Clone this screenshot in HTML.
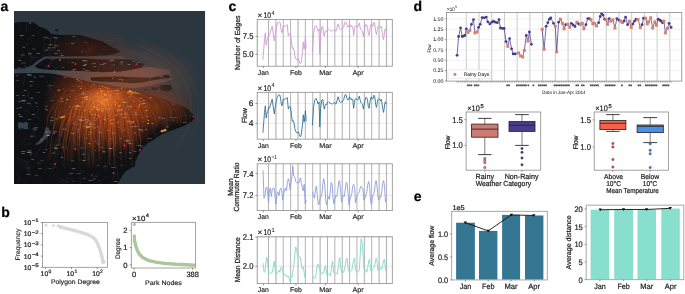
<!DOCTYPE html>
<html><head><meta charset="utf-8"><style>
html,body{margin:0;padding:0;background:#fff;width:685px;height:294px;overflow:hidden}
svg{display:block;will-change:transform;filter:blur(0.3px)}
text{font-family:"Liberation Sans",sans-serif;text-rendering:geometricPrecision;stroke:#1e1e1e;stroke-width:0.22px;paint-order:stroke}
</style></head><body>
<svg width="685" height="294" viewBox="0 0 685 294" font-family="Liberation Sans, sans-serif"><defs><clipPath id="mapclip"><rect x="14.0" y="11.0" width="191.2" height="173.0"/></clipPath><radialGradient id="glow" cx="0.5" cy="0.5" r="0.5"><stop offset="0" stop-color="#c85a1c" stop-opacity="0.75"/><stop offset="0.3" stop-color="#b44a18" stop-opacity="0.5"/><stop offset="0.65" stop-color="#9a3c14" stop-opacity="0.25"/><stop offset="1" stop-color="#b04810" stop-opacity="0"/></radialGradient><radialGradient id="core" cx="0.5" cy="0.5" r="0.5"><stop offset="0" stop-color="#ff9a40" stop-opacity="0.5"/><stop offset="1" stop-color="#ff8030" stop-opacity="0"/></radialGradient><radialGradient id="haze" cx="0.5" cy="0.5" r="0.5"><stop offset="0.55" stop-color="#d88050" stop-opacity="0.0"/><stop offset="0.8" stop-color="#d88050" stop-opacity="0.16"/><stop offset="1" stop-color="#d88050" stop-opacity="0"/></radialGradient></defs>
<g clip-path="url(#mapclip)">
<rect x="14.00" y="11.00" width="191.20" height="173.00" fill="#2b363e" />
<linearGradient id="rivg" x1="14" y1="0" x2="175" y2="0" gradientUnits="userSpaceOnUse"><stop offset="0" stop-color="#36434b"/><stop offset="0.22" stop-color="#3a464d"/><stop offset="0.34" stop-color="#5e4c4a"/><stop offset="0.7" stop-color="#6e5450"/><stop offset="0.9" stop-color="#5a4644"/><stop offset="1" stop-color="#3c3e44"/></linearGradient>
<polygon points="14.00,67.60 25.00,67.20 32.40,65.30 38.00,59.50 45.00,56.20 120.00,56.00 126.00,58.50 110.00,59.80 60.00,58.80 45.00,59.00 40.00,63.00 36.00,67.00 45.00,69.20 60.00,70.20 82.00,70.60 100.00,71.80 120.00,71.40 140.00,68.00 150.00,67.00 170.00,70.00 172.00,80.00 150.00,86.00 135.00,88.00 120.00,87.20 100.00,83.40 82.00,81.00 65.00,80.00 58.00,77.50 53.00,75.50 40.00,74.20 14.00,74.20" fill="url(#rivg)" />
<polygon points="120.00,56.00 126.00,58.50 110.00,59.80 60.00,58.60 45.00,58.80 40.00,62.00 36.00,66.50 32.40,65.30 38.00,59.50 45.00,56.20" fill="#3b474f" />
<polygon points="14.00,23.00 20.20,22.00 33.60,22.40 36.50,24.40 39.50,26.70 43.80,28.00 48.00,30.60 51.40,34.00 60.40,35.00 70.70,34.70 80.90,35.20 89.00,37.50 96.20,39.50 103.40,42.00 110.40,46.20 116.60,49.30 120.70,51.30 115.50,53.90 105.30,55.40 90.00,56.30 60.00,56.40 45.00,56.60 38.00,60.50 32.40,65.00 25.00,68.30 14.00,68.80" fill="#0e1013" />
<polygon points="34.50,66.20 40.00,62.00 45.50,58.40 60.00,58.40 82.00,58.40 100.00,59.20 110.40,59.50 120.00,59.20 130.20,59.70 138.40,61.20 144.50,64.30 140.40,67.90 130.20,69.90 120.00,71.60 100.00,72.20 82.00,71.00 62.00,70.60 53.00,70.00 45.00,69.60 38.00,68.60" fill="#0e1013" />
<polygon points="14.00,73.40 25.00,73.20 32.40,72.90 46.00,73.30 53.00,73.80 62.00,75.40 70.00,77.50 82.00,80.00 90.00,82.00 100.00,84.00 110.00,85.80 120.00,87.40 130.20,89.40 140.40,92.30 150.70,95.20 160.90,97.70 166.60,100.30 173.70,102.80 180.90,105.40 187.00,108.40 191.10,112.50 195.20,116.60 193.10,120.20 189.00,123.20 182.90,126.30 175.80,128.90 168.60,131.40 162.50,134.00 157.40,137.00 152.50,140.80 148.80,142.50 144.70,146.20 140.70,151.30 137.60,156.40 135.50,161.50 135.00,166.10 130.90,168.20 125.80,171.20 122.70,175.30 119.60,180.40 117.10,184.50 13.00,184.50" fill="#0e1013" />
<polygon points="90.70,77.40 100.00,77.00 121.00,76.60 140.00,77.60 150.70,77.40 160.90,76.10 168.00,74.60 171.10,77.40 160.90,78.90 150.70,80.70 140.40,82.80 130.20,83.30 121.00,82.30 100.00,81.60 91.00,80.60" fill="#0e1013" />
<polygon points="150.70,87.50 154.00,86.90 158.80,88.00 157.00,89.90 152.00,89.80" fill="#0e1013" />
<polygon points="158.80,86.00 165.00,84.80 171.00,85.50 172.10,89.00 168.00,91.50 161.00,90.50" fill="#0e1013" />
<polygon points="143.50,89.00 147.60,88.90 146.50,90.40 143.80,90.40" fill="#0e1013" />
<polygon points="55.00,29.50 57.50,29.20 58.50,30.50 56.00,31.20" fill="#0e1013" />
<polygon points="17.60,123.50 20.00,122.00 23.00,123.00 26.00,121.80 28.80,123.50 27.50,126.50 28.50,129.00 25.00,129.30 22.00,128.00 19.00,129.00 17.80,126.50" fill="#36434c" />
<polygon points="46.00,127.00 48.00,127.50 49.50,130.00 51.50,131.50 50.50,134.00 48.00,136.50 45.00,139.50 42.00,142.50 38.50,144.50 37.00,143.00 40.00,140.00 43.00,136.50 44.50,133.00 45.00,129.50" fill="#36434c" />
<polygon points="32.40,128.00 35.00,127.00 37.50,128.50 36.00,131.00 33.00,130.50" fill="#2a3740" />
<line x1="58.26" y1="110.17" x2="62.09" y2="119.01" stroke="#2c3842" stroke-width="0.4" opacity="0.9"/>
<line x1="16.45" y1="157.67" x2="20.28" y2="161.73" stroke="#2c3842" stroke-width="0.4" opacity="0.9"/>
<line x1="132.08" y1="162.62" x2="131.27" y2="173.75" stroke="#2c3842" stroke-width="0.4" opacity="0.9"/>
<line x1="155.03" y1="117.76" x2="156.98" y2="120.47" stroke="#2c3842" stroke-width="0.4" opacity="0.9"/>
<line x1="87.46" y1="151.75" x2="89.76" y2="164.84" stroke="#2c3842" stroke-width="0.4" opacity="0.9"/>
<line x1="39.29" y1="57.15" x2="31.54" y2="58.00" stroke="#2c3842" stroke-width="0.4" opacity="0.9"/>
<line x1="79.27" y1="116.78" x2="75.88" y2="129.28" stroke="#2c3842" stroke-width="0.4" opacity="0.9"/>
<line x1="182.27" y1="114.20" x2="178.96" y2="118.36" stroke="#2c3842" stroke-width="0.4" opacity="0.9"/>
<line x1="168.68" y1="114.91" x2="170.99" y2="117.80" stroke="#2c3842" stroke-width="0.4" opacity="0.9"/>
<line x1="30.46" y1="151.70" x2="31.76" y2="156.17" stroke="#2c3842" stroke-width="0.4" opacity="0.9"/>
<line x1="68.66" y1="146.54" x2="65.45" y2="147.90" stroke="#2c3842" stroke-width="0.4" opacity="0.9"/>
<line x1="108.01" y1="183.76" x2="110.17" y2="186.94" stroke="#2c3842" stroke-width="0.4" opacity="0.9"/>
<line x1="50.71" y1="88.09" x2="49.11" y2="92.52" stroke="#2c3842" stroke-width="0.4" opacity="0.9"/>
<line x1="21.89" y1="162.58" x2="29.37" y2="173.87" stroke="#2c3842" stroke-width="0.4" opacity="0.9"/>
<line x1="99.64" y1="106.25" x2="95.46" y2="114.84" stroke="#2c3842" stroke-width="0.4" opacity="0.9"/>
<line x1="118.02" y1="122.46" x2="109.59" y2="124.05" stroke="#2c3842" stroke-width="0.4" opacity="0.9"/>
<line x1="94.20" y1="138.69" x2="98.83" y2="142.98" stroke="#2c3842" stroke-width="0.4" opacity="0.9"/>
<line x1="91.23" y1="115.95" x2="100.98" y2="116.57" stroke="#2c3842" stroke-width="0.4" opacity="0.9"/>
<line x1="130.69" y1="97.53" x2="127.01" y2="103.35" stroke="#2c3842" stroke-width="0.4" opacity="0.9"/>
<line x1="145.49" y1="141.56" x2="149.15" y2="141.82" stroke="#2c3842" stroke-width="0.4" opacity="0.9"/>
<line x1="60.71" y1="95.92" x2="58.84" y2="102.17" stroke="#2c3842" stroke-width="0.4" opacity="0.9"/>
<line x1="82.66" y1="118.49" x2="86.86" y2="124.28" stroke="#2c3842" stroke-width="0.4" opacity="0.9"/>
<line x1="119.88" y1="141.10" x2="122.94" y2="145.60" stroke="#2c3842" stroke-width="0.4" opacity="0.9"/>
<line x1="48.86" y1="92.51" x2="46.45" y2="95.86" stroke="#2c3842" stroke-width="0.4" opacity="0.9"/>
<line x1="76.63" y1="127.34" x2="69.18" y2="130.15" stroke="#2c3842" stroke-width="0.4" opacity="0.9"/>
<line x1="55.86" y1="41.59" x2="55.38" y2="46.67" stroke="#2c3842" stroke-width="0.4" opacity="0.9"/>
<line x1="48.15" y1="67.13" x2="39.88" y2="72.86" stroke="#2c3842" stroke-width="0.4" opacity="0.9"/>
<line x1="163.96" y1="77.94" x2="169.67" y2="80.40" stroke="#2c3842" stroke-width="0.4" opacity="0.9"/>
<line x1="78.42" y1="89.54" x2="80.29" y2="96.81" stroke="#2c3842" stroke-width="0.4" opacity="0.9"/>
<line x1="14.87" y1="174.81" x2="1.98" y2="179.91" stroke="#2c3842" stroke-width="0.4" opacity="0.9"/>
<line x1="94.79" y1="175.93" x2="89.49" y2="177.16" stroke="#2c3842" stroke-width="0.4" opacity="0.9"/>
<line x1="137.32" y1="106.08" x2="141.47" y2="111.40" stroke="#2c3842" stroke-width="0.4" opacity="0.9"/>
<line x1="123.49" y1="68.50" x2="120.60" y2="70.46" stroke="#2c3842" stroke-width="0.4" opacity="0.9"/>
<line x1="181.34" y1="115.47" x2="192.53" y2="115.93" stroke="#2c3842" stroke-width="0.4" opacity="0.9"/>
<line x1="137.30" y1="107.04" x2="140.87" y2="119.89" stroke="#2c3842" stroke-width="0.4" opacity="0.9"/>
<line x1="127.86" y1="77.30" x2="136.62" y2="86.19" stroke="#2c3842" stroke-width="0.4" opacity="0.9"/>
<line x1="102.76" y1="148.74" x2="105.08" y2="153.36" stroke="#2c3842" stroke-width="0.4" opacity="0.9"/>
<line x1="113.44" y1="154.32" x2="123.50" y2="160.32" stroke="#2c3842" stroke-width="0.4" opacity="0.9"/>
<line x1="130.92" y1="161.73" x2="136.83" y2="162.67" stroke="#2c3842" stroke-width="0.4" opacity="0.9"/>
<line x1="63.96" y1="107.42" x2="65.92" y2="115.38" stroke="#2c3842" stroke-width="0.4" opacity="0.9"/>
<line x1="24.20" y1="42.55" x2="27.67" y2="43.98" stroke="#2c3842" stroke-width="0.4" opacity="0.9"/>
<line x1="30.02" y1="103.34" x2="33.55" y2="108.75" stroke="#2c3842" stroke-width="0.4" opacity="0.9"/>
<line x1="79.34" y1="126.80" x2="77.47" y2="133.51" stroke="#2c3842" stroke-width="0.4" opacity="0.9"/>
<line x1="49.54" y1="75.26" x2="57.97" y2="78.72" stroke="#2c3842" stroke-width="0.4" opacity="0.9"/>
<line x1="28.86" y1="50.93" x2="32.60" y2="59.82" stroke="#2c3842" stroke-width="0.4" opacity="0.9"/>
<line x1="163.02" y1="122.91" x2="164.53" y2="129.85" stroke="#2c3842" stroke-width="0.4" opacity="0.9"/>
<line x1="106.28" y1="135.87" x2="108.91" y2="146.17" stroke="#2c3842" stroke-width="0.4" opacity="0.9"/>
<line x1="99.72" y1="61.70" x2="98.52" y2="72.28" stroke="#2c3842" stroke-width="0.4" opacity="0.9"/>
<line x1="27.31" y1="90.83" x2="30.24" y2="103.17" stroke="#2c3842" stroke-width="0.4" opacity="0.9"/>
<line x1="62.77" y1="97.19" x2="73.83" y2="101.70" stroke="#2c3842" stroke-width="0.4" opacity="0.9"/>
<line x1="161.40" y1="130.14" x2="155.23" y2="136.98" stroke="#2c3842" stroke-width="0.4" opacity="0.9"/>
<line x1="33.18" y1="117.22" x2="37.76" y2="117.29" stroke="#2c3842" stroke-width="0.4" opacity="0.9"/>
<line x1="31.07" y1="38.09" x2="26.45" y2="39.91" stroke="#2c3842" stroke-width="0.4" opacity="0.9"/>
<line x1="18.37" y1="158.33" x2="29.77" y2="162.90" stroke="#2c3842" stroke-width="0.4" opacity="0.9"/>
<line x1="191.15" y1="115.81" x2="188.41" y2="117.82" stroke="#2c3842" stroke-width="0.4" opacity="0.9"/>
<line x1="156.74" y1="104.83" x2="154.13" y2="108.09" stroke="#2c3842" stroke-width="0.4" opacity="0.9"/>
<line x1="25.37" y1="74.53" x2="22.95" y2="86.39" stroke="#2c3842" stroke-width="0.4" opacity="0.9"/>
<line x1="59.04" y1="51.12" x2="65.95" y2="58.03" stroke="#2c3842" stroke-width="0.4" opacity="0.9"/>
<line x1="82.35" y1="86.26" x2="85.79" y2="93.03" stroke="#2c3842" stroke-width="0.4" opacity="0.9"/>
<line x1="29.49" y1="103.05" x2="21.97" y2="103.69" stroke="#2c3842" stroke-width="0.4" opacity="0.9"/>
<line x1="142.50" y1="144.49" x2="137.98" y2="151.91" stroke="#2c3842" stroke-width="0.4" opacity="0.9"/>
<line x1="103.97" y1="126.16" x2="99.57" y2="127.63" stroke="#2c3842" stroke-width="0.4" opacity="0.9"/>
<line x1="31.83" y1="143.20" x2="23.44" y2="145.45" stroke="#2c3842" stroke-width="0.4" opacity="0.9"/>
<line x1="96.41" y1="138.46" x2="101.36" y2="141.74" stroke="#2c3842" stroke-width="0.4" opacity="0.9"/>
<line x1="51.05" y1="116.87" x2="54.10" y2="121.51" stroke="#2c3842" stroke-width="0.4" opacity="0.9"/>
<line x1="69.03" y1="136.26" x2="72.37" y2="148.20" stroke="#2c3842" stroke-width="0.4" opacity="0.9"/>
<line x1="122.74" y1="65.28" x2="125.27" y2="67.34" stroke="#2c3842" stroke-width="0.4" opacity="0.9"/>
<line x1="46.04" y1="80.40" x2="52.15" y2="90.16" stroke="#2c3842" stroke-width="0.4" opacity="0.9"/>
<line x1="40.71" y1="182.58" x2="41.33" y2="192.15" stroke="#2c3842" stroke-width="0.4" opacity="0.9"/>
<line x1="101.06" y1="157.21" x2="93.33" y2="162.06" stroke="#2c3842" stroke-width="0.4" opacity="0.9"/>
<line x1="103.52" y1="138.75" x2="96.86" y2="141.98" stroke="#2c3842" stroke-width="0.4" opacity="0.9"/>
<line x1="57.67" y1="138.27" x2="50.58" y2="149.81" stroke="#2c3842" stroke-width="0.4" opacity="0.9"/>
<line x1="49.27" y1="63.90" x2="58.22" y2="69.86" stroke="#2c3842" stroke-width="0.4" opacity="0.9"/>
<line x1="61.43" y1="162.15" x2="65.67" y2="168.52" stroke="#2c3842" stroke-width="0.4" opacity="0.9"/>
<line x1="31.23" y1="157.10" x2="35.44" y2="162.59" stroke="#2c3842" stroke-width="0.4" opacity="0.9"/>
<line x1="121.94" y1="131.43" x2="128.62" y2="131.58" stroke="#2c3842" stroke-width="0.4" opacity="0.9"/>
<line x1="95.14" y1="100.72" x2="102.59" y2="106.50" stroke="#2c3842" stroke-width="0.4" opacity="0.9"/>
<line x1="65.11" y1="129.80" x2="77.08" y2="134.22" stroke="#2c3842" stroke-width="0.4" opacity="0.9"/>
<line x1="68.97" y1="131.49" x2="63.45" y2="142.00" stroke="#2c3842" stroke-width="0.4" opacity="0.9"/>
<line x1="63.40" y1="144.18" x2="53.08" y2="145.44" stroke="#2c3842" stroke-width="0.4" opacity="0.9"/>
<line x1="105.86" y1="79.05" x2="99.24" y2="87.15" stroke="#2c3842" stroke-width="0.4" opacity="0.9"/>
<line x1="119.35" y1="51.48" x2="114.96" y2="60.40" stroke="#2c3842" stroke-width="0.4" opacity="0.9"/>
<line x1="47.31" y1="166.17" x2="45.27" y2="170.01" stroke="#2c3842" stroke-width="0.4" opacity="0.9"/>
<line x1="75.66" y1="138.72" x2="72.92" y2="147.40" stroke="#2c3842" stroke-width="0.4" opacity="0.9"/>
<line x1="134.43" y1="96.15" x2="137.18" y2="100.26" stroke="#2c3842" stroke-width="0.4" opacity="0.9"/>
<line x1="26.76" y1="137.97" x2="20.32" y2="144.22" stroke="#2c3842" stroke-width="0.4" opacity="0.9"/>
<line x1="151.57" y1="80.19" x2="156.42" y2="85.54" stroke="#2c3842" stroke-width="0.4" opacity="0.9"/>
<line x1="107.88" y1="62.05" x2="102.72" y2="66.62" stroke="#2c3842" stroke-width="0.4" opacity="0.9"/>
<line x1="75.91" y1="87.34" x2="74.42" y2="98.73" stroke="#2c3842" stroke-width="0.4" opacity="0.9"/>
<line x1="79.64" y1="159.20" x2="85.24" y2="161.26" stroke="#2c3842" stroke-width="0.4" opacity="0.9"/>
<line x1="32.53" y1="40.25" x2="24.08" y2="47.29" stroke="#2c3842" stroke-width="0.4" opacity="0.9"/>
<line x1="48.38" y1="52.65" x2="51.27" y2="63.44" stroke="#2c3842" stroke-width="0.4" opacity="0.9"/>
<line x1="88.11" y1="53.37" x2="87.30" y2="62.59" stroke="#2c3842" stroke-width="0.4" opacity="0.9"/>
<line x1="51.59" y1="62.52" x2="49.01" y2="64.63" stroke="#2c3842" stroke-width="0.4" opacity="0.9"/>
<line x1="116.78" y1="116.46" x2="111.18" y2="129.01" stroke="#2c3842" stroke-width="0.4" opacity="0.9"/>
<line x1="125.85" y1="139.75" x2="137.33" y2="139.83" stroke="#2c3842" stroke-width="0.4" opacity="0.9"/>
<line x1="137.12" y1="101.68" x2="136.52" y2="109.73" stroke="#2c3842" stroke-width="0.4" opacity="0.9"/>
<line x1="49.98" y1="107.79" x2="58.43" y2="108.77" stroke="#2c3842" stroke-width="0.4" opacity="0.9"/>
<line x1="134.15" y1="93.96" x2="131.36" y2="107.22" stroke="#2c3842" stroke-width="0.4" opacity="0.9"/>
<line x1="161.38" y1="122.97" x2="168.25" y2="124.07" stroke="#2c3842" stroke-width="0.4" opacity="0.9"/>
<line x1="114.23" y1="172.63" x2="120.87" y2="183.31" stroke="#2c3842" stroke-width="0.4" opacity="0.9"/>
<line x1="173.64" y1="119.38" x2="163.05" y2="121.86" stroke="#2c3842" stroke-width="0.4" opacity="0.9"/>
<line x1="151.59" y1="77.66" x2="140.71" y2="85.22" stroke="#2c3842" stroke-width="0.4" opacity="0.9"/>
<line x1="154.77" y1="100.57" x2="158.04" y2="101.74" stroke="#2c3842" stroke-width="0.4" opacity="0.9"/>
<line x1="28.50" y1="54.45" x2="35.91" y2="58.55" stroke="#2c3842" stroke-width="0.4" opacity="0.9"/>
<line x1="144.07" y1="109.06" x2="146.52" y2="118.90" stroke="#2c3842" stroke-width="0.4" opacity="0.9"/>
<line x1="70.66" y1="97.23" x2="65.31" y2="102.36" stroke="#2c3842" stroke-width="0.4" opacity="0.9"/>
<line x1="47.59" y1="167.70" x2="43.11" y2="173.13" stroke="#2c3842" stroke-width="0.4" opacity="0.9"/>
<line x1="83.00" y1="107.75" x2="81.37" y2="112.96" stroke="#2c3842" stroke-width="0.4" opacity="0.9"/>
<line x1="14.50" y1="55.86" x2="10.95" y2="58.74" stroke="#2c3842" stroke-width="0.4" opacity="0.9"/>
<line x1="99.56" y1="53.64" x2="103.42" y2="56.62" stroke="#2c3842" stroke-width="0.4" opacity="0.9"/>
<line x1="89.10" y1="49.26" x2="93.29" y2="49.62" stroke="#2c3842" stroke-width="0.4" opacity="0.9"/>
<line x1="45.29" y1="101.42" x2="48.48" y2="102.03" stroke="#2c3842" stroke-width="0.4" opacity="0.9"/>
<line x1="97.33" y1="88.05" x2="95.21" y2="90.91" stroke="#2c3842" stroke-width="0.4" opacity="0.9"/>
<line x1="89.01" y1="86.25" x2="102.59" y2="87.39" stroke="#2c3842" stroke-width="0.4" opacity="0.9"/>
<line x1="54.72" y1="37.27" x2="55.10" y2="42.07" stroke="#2c3842" stroke-width="0.4" opacity="0.9"/>
<line x1="129.78" y1="78.11" x2="133.08" y2="79.47" stroke="#2c3842" stroke-width="0.4" opacity="0.9"/>
<line x1="60.49" y1="65.06" x2="52.21" y2="70.52" stroke="#2c3842" stroke-width="0.4" opacity="0.9"/>
<line x1="78.12" y1="37.18" x2="70.71" y2="48.66" stroke="#2c3842" stroke-width="0.4" opacity="0.9"/>
<line x1="19.64" y1="36.67" x2="22.56" y2="38.40" stroke="#2c3842" stroke-width="0.4" opacity="0.9"/>
<line x1="24.03" y1="128.00" x2="19.08" y2="129.60" stroke="#2c3842" stroke-width="0.4" opacity="0.9"/>
<line x1="70.68" y1="120.32" x2="66.77" y2="120.99" stroke="#2c3842" stroke-width="0.4" opacity="0.9"/>
<line x1="68.58" y1="159.68" x2="75.40" y2="162.25" stroke="#2c3842" stroke-width="0.4" opacity="0.9"/>
<line x1="76.16" y1="132.17" x2="71.36" y2="133.26" stroke="#2c3842" stroke-width="0.4" opacity="0.9"/>
<line x1="151.60" y1="140.90" x2="143.70" y2="145.39" stroke="#2c3842" stroke-width="0.4" opacity="0.9"/>
<line x1="91.14" y1="59.16" x2="84.76" y2="64.46" stroke="#2c3842" stroke-width="0.4" opacity="0.9"/>
<line x1="64.12" y1="49.50" x2="57.95" y2="56.93" stroke="#2c3842" stroke-width="0.4" opacity="0.9"/>
<line x1="104.60" y1="46.93" x2="102.60" y2="49.50" stroke="#2c3842" stroke-width="0.4" opacity="0.9"/>
<line x1="100.85" y1="144.87" x2="98.70" y2="148.32" stroke="#2c3842" stroke-width="0.4" opacity="0.9"/>
<line x1="58.11" y1="158.67" x2="52.64" y2="170.09" stroke="#2c3842" stroke-width="0.4" opacity="0.9"/>
<line x1="76.07" y1="81.96" x2="83.27" y2="83.61" stroke="#2c3842" stroke-width="0.4" opacity="0.9"/>
<line x1="29.05" y1="127.16" x2="31.62" y2="129.59" stroke="#2c3842" stroke-width="0.4" opacity="0.9"/>
<line x1="42.40" y1="126.42" x2="41.57" y2="129.43" stroke="#2c3842" stroke-width="0.4" opacity="0.9"/>
<line x1="56.77" y1="178.69" x2="63.84" y2="184.55" stroke="#2c3842" stroke-width="0.4" opacity="0.9"/>
<line x1="92.05" y1="148.55" x2="88.29" y2="159.60" stroke="#2c3842" stroke-width="0.4" opacity="0.9"/>
<line x1="113.55" y1="52.48" x2="116.83" y2="54.53" stroke="#2c3842" stroke-width="0.4" opacity="0.9"/>
<line x1="18.46" y1="178.56" x2="28.86" y2="186.07" stroke="#2c3842" stroke-width="0.4" opacity="0.9"/>
<line x1="29.95" y1="97.37" x2="39.23" y2="105.18" stroke="#2c3842" stroke-width="0.4" opacity="0.9"/>
<line x1="128.47" y1="125.97" x2="119.25" y2="134.55" stroke="#2c3842" stroke-width="0.4" opacity="0.9"/>
<line x1="78.37" y1="119.70" x2="79.08" y2="123.86" stroke="#2c3842" stroke-width="0.4" opacity="0.9"/>
<line x1="169.38" y1="118.29" x2="164.98" y2="121.19" stroke="#2c3842" stroke-width="0.4" opacity="0.9"/>
<line x1="114.29" y1="97.20" x2="111.76" y2="100.10" stroke="#2c3842" stroke-width="0.4" opacity="0.9"/>
<line x1="78.38" y1="100.50" x2="87.24" y2="102.52" stroke="#2c3842" stroke-width="0.4" opacity="0.9"/>
<line x1="134.60" y1="120.15" x2="139.97" y2="124.42" stroke="#2c3842" stroke-width="0.4" opacity="0.9"/>
<line x1="54.53" y1="48.78" x2="43.79" y2="51.14" stroke="#2c3842" stroke-width="0.4" opacity="0.9"/>
<line x1="113.64" y1="89.84" x2="100.88" y2="91.94" stroke="#2c3842" stroke-width="0.4" opacity="0.9"/>
<line x1="157.86" y1="87.93" x2="144.74" y2="88.04" stroke="#2c3842" stroke-width="0.4" opacity="0.9"/>
<line x1="68.32" y1="173.34" x2="71.71" y2="175.56" stroke="#2c3842" stroke-width="0.4" opacity="0.9"/>
<line x1="110.62" y1="125.56" x2="121.73" y2="126.98" stroke="#2c3842" stroke-width="0.4" opacity="0.9"/>
<line x1="65.33" y1="92.05" x2="70.56" y2="101.91" stroke="#2c3842" stroke-width="0.4" opacity="0.9"/>
<line x1="42.50" y1="145.56" x2="34.41" y2="156.67" stroke="#2c3842" stroke-width="0.4" opacity="0.9"/>
<line x1="83.30" y1="48.14" x2="87.81" y2="54.86" stroke="#2c3842" stroke-width="0.4" opacity="0.9"/>
<line x1="111.82" y1="109.82" x2="117.11" y2="121.01" stroke="#2c3842" stroke-width="0.4" opacity="0.9"/>
<line x1="67.04" y1="97.03" x2="55.91" y2="101.17" stroke="#2c3842" stroke-width="0.4" opacity="0.9"/>
<line x1="69.32" y1="61.30" x2="66.76" y2="63.08" stroke="#2c3842" stroke-width="0.4" opacity="0.9"/>
<line x1="38.46" y1="108.00" x2="37.91" y2="112.79" stroke="#2c3842" stroke-width="0.4" opacity="0.9"/>
<line x1="23.35" y1="55.04" x2="17.26" y2="60.41" stroke="#2c3842" stroke-width="0.4" opacity="0.9"/>
<line x1="23.53" y1="110.45" x2="29.69" y2="112.32" stroke="#2c3842" stroke-width="0.4" opacity="0.9"/>
<line x1="59.99" y1="151.94" x2="61.48" y2="157.62" stroke="#2c3842" stroke-width="0.4" opacity="0.9"/>
<line x1="22.19" y1="91.59" x2="18.12" y2="101.19" stroke="#2c3842" stroke-width="0.4" opacity="0.9"/>
<line x1="60.01" y1="43.98" x2="51.54" y2="52.02" stroke="#2c3842" stroke-width="0.4" opacity="0.9"/>
<line x1="108.64" y1="156.62" x2="107.66" y2="162.62" stroke="#2c3842" stroke-width="0.4" opacity="0.9"/>
<line x1="165.41" y1="119.63" x2="167.72" y2="128.02" stroke="#2c3842" stroke-width="0.4" opacity="0.9"/>
<line x1="45.77" y1="51.64" x2="38.17" y2="63.30" stroke="#2c3842" stroke-width="0.4" opacity="0.9"/>
<line x1="115.75" y1="88.12" x2="119.35" y2="95.27" stroke="#2c3842" stroke-width="0.4" opacity="0.9"/>
<line x1="72.57" y1="106.56" x2="75.95" y2="118.45" stroke="#2c3842" stroke-width="0.4" opacity="0.9"/>
<line x1="120.86" y1="111.06" x2="121.10" y2="117.13" stroke="#2c3842" stroke-width="0.4" opacity="0.9"/>
<line x1="33.06" y1="130.33" x2="36.46" y2="138.29" stroke="#2c3842" stroke-width="0.4" opacity="0.9"/>
<line x1="85.29" y1="156.16" x2="88.56" y2="161.17" stroke="#2c3842" stroke-width="0.4" opacity="0.9"/>
<line x1="73.04" y1="85.59" x2="75.85" y2="89.03" stroke="#2c3842" stroke-width="0.4" opacity="0.9"/>
<line x1="60.54" y1="180.79" x2="65.90" y2="182.15" stroke="#2c3842" stroke-width="0.4" opacity="0.9"/>
<line x1="51.20" y1="34.88" x2="50.28" y2="46.02" stroke="#2c3842" stroke-width="0.4" opacity="0.9"/>
<line x1="169.92" y1="124.24" x2="167.35" y2="125.90" stroke="#2c3842" stroke-width="0.4" opacity="0.9"/>
<line x1="66.49" y1="177.71" x2="72.29" y2="178.99" stroke="#2c3842" stroke-width="0.4" opacity="0.9"/>
<line x1="103.81" y1="65.39" x2="103.30" y2="68.88" stroke="#2c3842" stroke-width="0.4" opacity="0.9"/>
<line x1="57.89" y1="177.13" x2="69.54" y2="182.80" stroke="#2c3842" stroke-width="0.4" opacity="0.9"/>
<line x1="47.09" y1="182.84" x2="41.82" y2="191.47" stroke="#2c3842" stroke-width="0.4" opacity="0.9"/>
<line x1="40.45" y1="30.84" x2="36.86" y2="34.23" stroke="#2c3842" stroke-width="0.4" opacity="0.9"/>
<line x1="49.27" y1="155.28" x2="46.00" y2="156.63" stroke="#2c3842" stroke-width="0.4" opacity="0.9"/>
<line x1="85.12" y1="39.34" x2="89.83" y2="52.38" stroke="#2c3842" stroke-width="0.4" opacity="0.9"/>
<line x1="66.22" y1="43.27" x2="70.17" y2="45.21" stroke="#2c3842" stroke-width="0.4" opacity="0.9"/>
<line x1="79.55" y1="170.22" x2="84.51" y2="171.45" stroke="#2c3842" stroke-width="0.4" opacity="0.9"/>
<line x1="79.91" y1="176.04" x2="80.42" y2="186.76" stroke="#2c3842" stroke-width="0.4" opacity="0.9"/>
<line x1="78.24" y1="143.20" x2="71.07" y2="149.06" stroke="#2c3842" stroke-width="0.4" opacity="0.9"/>
<line x1="100.32" y1="109.18" x2="101.92" y2="117.91" stroke="#2c3842" stroke-width="0.4" opacity="0.9"/>
<line x1="45.23" y1="65.07" x2="48.12" y2="67.20" stroke="#2c3842" stroke-width="0.4" opacity="0.9"/>
<line x1="16.59" y1="162.90" x2="5.49" y2="171.29" stroke="#2c3842" stroke-width="0.4" opacity="0.9"/>
<line x1="141.50" y1="107.09" x2="138.52" y2="109.78" stroke="#2c3842" stroke-width="0.4" opacity="0.9"/>
<line x1="114.51" y1="93.47" x2="123.12" y2="97.73" stroke="#2c3842" stroke-width="0.4" opacity="0.9"/>
<line x1="74.11" y1="104.03" x2="76.62" y2="110.03" stroke="#2c3842" stroke-width="0.4" opacity="0.9"/>
<line x1="80.67" y1="119.37" x2="67.40" y2="120.18" stroke="#2c3842" stroke-width="0.4" opacity="0.9"/>
<line x1="67.34" y1="180.23" x2="70.23" y2="183.49" stroke="#2c3842" stroke-width="0.4" opacity="0.9"/>
<line x1="107.15" y1="140.62" x2="111.99" y2="149.48" stroke="#2c3842" stroke-width="0.4" opacity="0.9"/>
<line x1="66.52" y1="178.64" x2="67.74" y2="186.81" stroke="#2c3842" stroke-width="0.4" opacity="0.9"/>
<line x1="112.85" y1="163.73" x2="104.04" y2="164.11" stroke="#2c3842" stroke-width="0.4" opacity="0.9"/>
<line x1="96.13" y1="122.08" x2="103.63" y2="123.74" stroke="#2c3842" stroke-width="0.4" opacity="0.9"/>
<line x1="25.04" y1="160.43" x2="29.95" y2="173.31" stroke="#2c3842" stroke-width="0.4" opacity="0.9"/>
<line x1="116.06" y1="165.18" x2="118.75" y2="177.43" stroke="#2c3842" stroke-width="0.4" opacity="0.9"/>
<line x1="146.31" y1="80.57" x2="151.33" y2="87.50" stroke="#2c3842" stroke-width="0.4" opacity="0.9"/>
<line x1="88.22" y1="82.35" x2="82.42" y2="93.57" stroke="#2c3842" stroke-width="0.4" opacity="0.9"/>
<line x1="54.90" y1="82.09" x2="53.31" y2="86.33" stroke="#2c3842" stroke-width="0.4" opacity="0.9"/>
<line x1="29.17" y1="73.94" x2="31.26" y2="76.53" stroke="#2c3842" stroke-width="0.4" opacity="0.9"/>
<line x1="114.22" y1="171.25" x2="113.02" y2="182.30" stroke="#2c3842" stroke-width="0.4" opacity="0.9"/>
<line x1="102.42" y1="166.23" x2="105.58" y2="170.22" stroke="#2c3842" stroke-width="0.4" opacity="0.9"/>
<line x1="167.19" y1="119.01" x2="170.38" y2="119.88" stroke="#2c3842" stroke-width="0.4" opacity="0.9"/>
<line x1="65.00" y1="84.98" x2="64.71" y2="92.73" stroke="#2c3842" stroke-width="0.4" opacity="0.9"/>
<line x1="130.93" y1="128.89" x2="131.74" y2="132.88" stroke="#2c3842" stroke-width="0.4" opacity="0.9"/>
<line x1="29.54" y1="93.55" x2="19.59" y2="103.28" stroke="#2c3842" stroke-width="0.4" opacity="0.9"/>
<line x1="26.28" y1="23.54" x2="26.76" y2="31.17" stroke="#2c3842" stroke-width="0.4" opacity="0.9"/>
<line x1="75.67" y1="89.84" x2="72.40" y2="102.14" stroke="#2c3842" stroke-width="0.4" opacity="0.9"/>
<line x1="51.56" y1="85.48" x2="61.23" y2="88.24" stroke="#2c3842" stroke-width="0.4" opacity="0.9"/>
<line x1="18.94" y1="173.48" x2="18.25" y2="182.76" stroke="#2c3842" stroke-width="0.4" opacity="0.9"/>
<line x1="29.86" y1="59.62" x2="31.08" y2="71.99" stroke="#2c3842" stroke-width="0.4" opacity="0.9"/>
<line x1="114.26" y1="68.11" x2="104.00" y2="68.69" stroke="#2c3842" stroke-width="0.4" opacity="0.9"/>
<line x1="69.53" y1="167.78" x2="77.62" y2="171.36" stroke="#2c3842" stroke-width="0.4" opacity="0.9"/>
<line x1="129.31" y1="79.49" x2="119.59" y2="88.13" stroke="#2c3842" stroke-width="0.4" opacity="0.9"/>
<line x1="50.07" y1="163.16" x2="59.45" y2="170.73" stroke="#2c3842" stroke-width="0.4" opacity="0.9"/>
<line x1="53.42" y1="52.21" x2="61.85" y2="53.21" stroke="#2c3842" stroke-width="0.4" opacity="0.9"/>
<line x1="85.48" y1="159.93" x2="82.35" y2="161.75" stroke="#2c3842" stroke-width="0.4" opacity="0.9"/>
<line x1="88.64" y1="85.05" x2="93.53" y2="88.10" stroke="#2c3842" stroke-width="0.4" opacity="0.9"/>
<line x1="62.98" y1="134.45" x2="65.02" y2="138.15" stroke="#2c3842" stroke-width="0.4" opacity="0.9"/>
<line x1="55.00" y1="93.63" x2="53.84" y2="99.22" stroke="#2c3842" stroke-width="0.4" opacity="0.9"/>
<line x1="138.77" y1="120.72" x2="148.36" y2="126.62" stroke="#2c3842" stroke-width="0.4" opacity="0.9"/>
<line x1="87.33" y1="109.40" x2="84.33" y2="118.85" stroke="#2c3842" stroke-width="0.4" opacity="0.9"/>
<line x1="105.17" y1="115.80" x2="113.74" y2="125.42" stroke="#2c3842" stroke-width="0.4" opacity="0.9"/>
<line x1="78.35" y1="183.28" x2="78.61" y2="188.23" stroke="#2c3842" stroke-width="0.4" opacity="0.9"/>
<line x1="150.21" y1="116.52" x2="158.52" y2="119.44" stroke="#2c3842" stroke-width="0.4" opacity="0.9"/>
<line x1="114.31" y1="161.83" x2="115.72" y2="170.13" stroke="#2c3842" stroke-width="0.4" opacity="0.9"/>
<line x1="122.40" y1="155.46" x2="125.64" y2="157.86" stroke="#2c3842" stroke-width="0.4" opacity="0.9"/>
<line x1="155.58" y1="111.52" x2="163.02" y2="121.95" stroke="#2c3842" stroke-width="0.4" opacity="0.9"/>
<line x1="178.54" y1="109.72" x2="166.35" y2="110.16" stroke="#2c3842" stroke-width="0.4" opacity="0.9"/>
<line x1="16.01" y1="131.93" x2="11.40" y2="137.00" stroke="#2c3842" stroke-width="0.4" opacity="0.9"/>
<line x1="103.05" y1="113.88" x2="110.60" y2="121.43" stroke="#2c3842" stroke-width="0.4" opacity="0.9"/>
<line x1="34.39" y1="111.74" x2="40.28" y2="121.00" stroke="#2c3842" stroke-width="0.4" opacity="0.9"/>
<line x1="46.09" y1="85.89" x2="52.20" y2="90.22" stroke="#2c3842" stroke-width="0.4" opacity="0.9"/>
<line x1="24.19" y1="100.13" x2="31.09" y2="105.19" stroke="#2c3842" stroke-width="0.4" opacity="0.9"/>
<line x1="45.09" y1="38.33" x2="43.55" y2="51.39" stroke="#2c3842" stroke-width="0.4" opacity="0.9"/>
<line x1="175.55" y1="105.52" x2="176.73" y2="109.05" stroke="#2c3842" stroke-width="0.4" opacity="0.9"/>
<line x1="94.73" y1="64.49" x2="89.72" y2="65.08" stroke="#2c3842" stroke-width="0.4" opacity="0.9"/>
<line x1="120.27" y1="104.74" x2="124.69" y2="107.94" stroke="#2c3842" stroke-width="0.4" opacity="0.9"/>
<line x1="32.33" y1="135.97" x2="28.45" y2="139.84" stroke="#2c3842" stroke-width="0.4" opacity="0.9"/>
<line x1="99.01" y1="179.86" x2="104.91" y2="189.60" stroke="#2c3842" stroke-width="0.4" opacity="0.9"/>
<line x1="44.74" y1="130.08" x2="50.44" y2="136.52" stroke="#2c3842" stroke-width="0.4" opacity="0.9"/>
<line x1="83.26" y1="162.99" x2="77.32" y2="169.13" stroke="#2c3842" stroke-width="0.4" opacity="0.9"/>
<line x1="115.21" y1="116.87" x2="116.42" y2="120.17" stroke="#2c3842" stroke-width="0.4" opacity="0.9"/>
<line x1="45.61" y1="125.76" x2="54.54" y2="132.74" stroke="#2c3842" stroke-width="0.4" opacity="0.9"/>
<line x1="107.91" y1="176.41" x2="98.14" y2="181.47" stroke="#2c3842" stroke-width="0.4" opacity="0.9"/>
<line x1="117.54" y1="142.80" x2="112.47" y2="144.08" stroke="#2c3842" stroke-width="0.4" opacity="0.9"/>
<line x1="43.47" y1="180.84" x2="37.78" y2="186.92" stroke="#2c3842" stroke-width="0.4" opacity="0.9"/>
<line x1="115.19" y1="130.32" x2="113.66" y2="134.84" stroke="#2c3842" stroke-width="0.4" opacity="0.9"/>
<line x1="39.44" y1="123.22" x2="35.22" y2="124.83" stroke="#2c3842" stroke-width="0.4" opacity="0.9"/>
<line x1="15.32" y1="35.42" x2="9.62" y2="39.97" stroke="#2c3842" stroke-width="0.4" opacity="0.9"/>
<line x1="98.78" y1="183.03" x2="96.76" y2="188.57" stroke="#2c3842" stroke-width="0.4" opacity="0.9"/>
<line x1="66.37" y1="135.18" x2="69.25" y2="136.90" stroke="#2c3842" stroke-width="0.4" opacity="0.9"/>
<line x1="55.77" y1="95.29" x2="50.27" y2="99.29" stroke="#2c3842" stroke-width="0.4" opacity="0.9"/>
<line x1="56.76" y1="89.37" x2="62.94" y2="91.29" stroke="#2c3842" stroke-width="0.4" opacity="0.9"/>
<line x1="120.55" y1="110.37" x2="118.68" y2="116.28" stroke="#2c3842" stroke-width="0.4" opacity="0.9"/>
<line x1="18.61" y1="26.29" x2="21.11" y2="30.81" stroke="#2c3842" stroke-width="0.4" opacity="0.9"/>
<line x1="119.83" y1="64.99" x2="112.78" y2="71.53" stroke="#2c3842" stroke-width="0.4" opacity="0.9"/>
<line x1="137.19" y1="141.16" x2="136.67" y2="148.83" stroke="#2c3842" stroke-width="0.4" opacity="0.9"/>
<radialGradient id="ntint" cx="0.5" cy="0.5" r="0.5"><stop offset="0" stop-color="#7a3018" stop-opacity="0.38"/><stop offset="1" stop-color="#8a3418" stop-opacity="0"/></radialGradient>
<ellipse cx="90" cy="52" rx="48" ry="24" fill="url(#ntint)"/>
<line x1="83.7" y1="41.2" x2="83.7" y2="49.4" stroke="#a03018" stroke-width="0.65" opacity="0.06"/>
<line x1="86.7" y1="48.6" x2="86.7" y2="55.9" stroke="#a03018" stroke-width="0.52" opacity="0.15"/>
<line x1="51.1" y1="41.3" x2="51.1" y2="58.6" stroke="#a03018" stroke-width="0.48" opacity="0.16"/>
<line x1="60.1" y1="39.3" x2="60.1" y2="47.1" stroke="#a03018" stroke-width="0.50" opacity="0.19"/>
<line x1="93.5" y1="46.8" x2="93.5" y2="59.0" stroke="#a03018" stroke-width="0.60" opacity="0.07"/>
<line x1="70.4" y1="45.4" x2="70.4" y2="63.1" stroke="#a03018" stroke-width="0.47" opacity="0.07"/>
<line x1="68.5" y1="38.9" x2="68.5" y2="49.4" stroke="#a03018" stroke-width="0.62" opacity="0.09"/>
<line x1="116.3" y1="48.3" x2="116.3" y2="55.2" stroke="#a03018" stroke-width="0.45" opacity="0.13"/>
<line x1="49.8" y1="41.9" x2="49.8" y2="62.4" stroke="#a03018" stroke-width="0.34" opacity="0.14"/>
<line x1="57.3" y1="44.1" x2="57.3" y2="64.4" stroke="#a03018" stroke-width="0.38" opacity="0.06"/>
<line x1="54.4" y1="43.6" x2="54.4" y2="49.8" stroke="#a03018" stroke-width="0.33" opacity="0.13"/>
<line x1="118.9" y1="41.9" x2="118.9" y2="54.3" stroke="#a03018" stroke-width="0.56" opacity="0.07"/>
<line x1="92.6" y1="38.4" x2="92.6" y2="54.2" stroke="#a03018" stroke-width="0.68" opacity="0.07"/>
<line x1="90.7" y1="44.5" x2="90.7" y2="52.9" stroke="#a03018" stroke-width="0.41" opacity="0.20"/>
<line x1="124.8" y1="37.7" x2="124.8" y2="55.0" stroke="#a03018" stroke-width="0.68" opacity="0.09"/>
<line x1="95.1" y1="36.6" x2="95.1" y2="48.5" stroke="#a03018" stroke-width="0.57" opacity="0.14"/>
<line x1="107.6" y1="37.2" x2="107.6" y2="48.8" stroke="#a03018" stroke-width="0.65" opacity="0.14"/>
<line x1="82.8" y1="41.6" x2="82.8" y2="63.4" stroke="#a03018" stroke-width="0.53" opacity="0.06"/>
<line x1="109.6" y1="40.6" x2="109.6" y2="53.5" stroke="#a03018" stroke-width="0.39" opacity="0.12"/>
<line x1="73.0" y1="37.2" x2="73.0" y2="53.3" stroke="#a03018" stroke-width="0.34" opacity="0.17"/>
<line x1="50.0" y1="46.9" x2="50.0" y2="65.9" stroke="#a03018" stroke-width="0.50" opacity="0.16"/>
<line x1="67.1" y1="46.3" x2="67.1" y2="59.1" stroke="#a03018" stroke-width="0.39" opacity="0.19"/>
<line x1="78.9" y1="41.2" x2="78.9" y2="61.0" stroke="#a03018" stroke-width="0.45" opacity="0.15"/>
<line x1="61.2" y1="47.8" x2="61.2" y2="57.9" stroke="#a03018" stroke-width="0.32" opacity="0.20"/>
<line x1="61.3" y1="49.3" x2="61.3" y2="71.0" stroke="#a03018" stroke-width="0.54" opacity="0.06"/>
<line x1="52.7" y1="38.9" x2="52.7" y2="51.1" stroke="#a03018" stroke-width="0.54" opacity="0.20"/>
<line x1="75.3" y1="38.0" x2="75.3" y2="53.0" stroke="#a03018" stroke-width="0.35" opacity="0.07"/>
<line x1="90.8" y1="45.7" x2="90.8" y2="52.8" stroke="#a03018" stroke-width="0.48" opacity="0.16"/>
<line x1="106.8" y1="41.4" x2="106.8" y2="61.6" stroke="#a03018" stroke-width="0.37" opacity="0.16"/>
<line x1="107.4" y1="48.3" x2="107.4" y2="62.2" stroke="#a03018" stroke-width="0.34" opacity="0.07"/>
<line x1="88.7" y1="38.4" x2="88.7" y2="54.5" stroke="#a03018" stroke-width="0.33" opacity="0.17"/>
<line x1="65.1" y1="36.2" x2="65.1" y2="45.0" stroke="#a03018" stroke-width="0.48" opacity="0.14"/>
<line x1="77.9" y1="38.4" x2="77.9" y2="52.1" stroke="#a03018" stroke-width="0.68" opacity="0.13"/>
<line x1="120.5" y1="36.4" x2="120.5" y2="58.3" stroke="#a03018" stroke-width="0.66" opacity="0.14"/>
<line x1="88.3" y1="43.5" x2="88.3" y2="64.1" stroke="#a03018" stroke-width="0.33" opacity="0.15"/>
<radialGradient id="ehaze" cx="0.5" cy="0.5" r="0.5"><stop offset="0" stop-color="#b86848" stop-opacity="0.35"/><stop offset="0.6" stop-color="#a05a40" stop-opacity="0.18"/><stop offset="1" stop-color="#a05a40" stop-opacity="0"/></radialGradient>
<ellipse cx="140" cy="80" rx="62" ry="38" fill="url(#ehaze)"/>
<path d="M123.0,60.8 A63.4,49.4 0 0 1 159.5,131.9" fill="none" stroke="#e08a60" stroke-width="1.36" opacity="0.032"/>
<path d="M99.5,59.7 A62.1,48.5 0 0 1 164.6,118.8" fill="none" stroke="#e08a60" stroke-width="1.26" opacity="0.030"/>
<path d="M102.1,49.2 A75.4,58.8 0 0 1 176.7,123.5" fill="none" stroke="#e08a60" stroke-width="0.99" opacity="0.054"/>
<path d="M91.1,47.4 A78.8,61.4 0 0 1 180.2,123.5" fill="none" stroke="#e08a60" stroke-width="0.73" opacity="0.055"/>
<path d="M137.2,44.7 A87.6,68.4 0 0 1 176.7,146.1" fill="none" stroke="#e08a60" stroke-width="1.27" opacity="0.058"/>
<path d="M104.4,40.2 A86.9,67.8 0 0 1 175.4,146.6" fill="none" stroke="#e08a60" stroke-width="1.04" opacity="0.051"/>
<path d="M113.6,48.5 A76.8,59.9 0 0 1 177.2,126.3" fill="none" stroke="#e08a60" stroke-width="0.99" opacity="0.036"/>
<path d="M126.1,66.9 A57.2,44.6 0 0 1 152.0,132.2" fill="none" stroke="#e08a60" stroke-width="1.49" opacity="0.049"/>
<path d="M130.0,52.0 A76.4,59.6 0 0 1 179.3,118.1" fill="none" stroke="#e08a60" stroke-width="1.21" opacity="0.041"/>
<path d="M102.0,61.4 A59.8,46.6 0 0 1 158.9,126.4" fill="none" stroke="#e08a60" stroke-width="0.83" opacity="0.041"/>
<path d="M112.0,47.0 A78.6,61.3 0 0 1 181.5,118.2" fill="none" stroke="#e08a60" stroke-width="1.04" opacity="0.033"/>
<path d="M101.6,59.4 A62.4,48.6 0 0 1 163.4,122.9" fill="none" stroke="#e08a60" stroke-width="0.67" opacity="0.048"/>
<path d="M113.1,35.1 A94.0,73.3 0 0 1 185.2,144.8" fill="none" stroke="#e08a60" stroke-width="1.44" opacity="0.027"/>
<path d="M126.0,66.0 A58.2,45.4 0 0 1 152.1,133.6" fill="none" stroke="#e08a60" stroke-width="1.18" opacity="0.031"/>
<path d="M133.4,58.3 A70.2,54.8 0 0 1 160.8,140.2" fill="none" stroke="#e08a60" stroke-width="1.32" opacity="0.032"/>
<path d="M111.8,38.4 A89.6,69.9 0 0 1 181.5,143.0" fill="none" stroke="#e08a60" stroke-width="0.72" opacity="0.059"/>
<path d="M129.5,50.0 A78.6,61.3 0 0 1 180.7,121.2" fill="none" stroke="#e08a60" stroke-width="1.16" opacity="0.045"/>
<path d="M109.9,47.3 A78.0,60.9 0 0 1 171.2,138.9" fill="none" stroke="#e08a60" stroke-width="0.91" opacity="0.035"/>
<path d="M121.7,63.9 A59.2,46.2 0 0 1 162.5,115.2" fill="none" stroke="#e08a60" stroke-width="0.80" opacity="0.027"/>
<path d="M121.0,46.8 A80.3,62.6 0 0 1 177.4,133.5" fill="none" stroke="#e08a60" stroke-width="0.63" opacity="0.040"/>
<path d="M96.6,56.0 A67.1,52.3 0 0 1 170.8,112.7" fill="none" stroke="#e08a60" stroke-width="1.50" opacity="0.029"/>
<path d="M104.9,57.1 A65.3,50.9 0 0 1 162.7,130.2" fill="none" stroke="#e08a60" stroke-width="0.67" opacity="0.041"/>
<path d="M131.0,59.2 A68.1,53.1 0 0 1 171.9,112.8" fill="none" stroke="#e08a60" stroke-width="0.90" opacity="0.042"/>
<path d="M121.5,35.4 A94.7,73.8 0 0 1 192.0,135.2" fill="none" stroke="#e08a60" stroke-width="1.20" opacity="0.035"/>
<path d="M113.3,67.0 A53.4,41.6 0 0 1 146.7,133.0" fill="none" stroke="#e08a60" stroke-width="1.26" opacity="0.034"/>
<path d="M137.3,49.5 A82.1,64.0 0 0 1 183.6,123.5" fill="none" stroke="#e08a60" stroke-width="1.13" opacity="0.037"/>
<radialGradient id="disc" cx="0.5" cy="0.5" r="0.5"><stop offset="0" stop-color="#a84618" stop-opacity="0.85"/><stop offset="0.5" stop-color="#923a16" stop-opacity="0.72"/><stop offset="0.78" stop-color="#782e10" stop-opacity="0.42"/><stop offset="1" stop-color="#6a2a10" stop-opacity="0"/></radialGradient>
<clipPath id="mainclip"><polygon points="14,73.4 25,73.2 32.4,72.9 46,73.3 53,73.8 62,75.4 70,77.5 82,80 90,82.0 100,84.0 110,85.8 120,87.4 130.2,89.4 140.4,92.3 150.7,95.2 160.9,97.7 166.6,100.3 173.7,102.8 180.9,105.4 187,108.4 191.1,112.5 195.2,116.6 193.1,120.2 189,123.2 182.9,126.3 175.8,128.9 168.6,131.4 162.5,134 157.4,137 152.5,140.8 148.8,142.5 144.7,146.2 140.7,151.3 137.6,156.4 135.5,161.5 135,166.1 130.9,168.2 125.8,171.2 122.7,175.3 119.6,180.4 117.1,184.5 13,184.5"/></clipPath>
<ellipse cx="105" cy="103" rx="64" ry="50" fill="url(#disc)" opacity="0.35"/>
<ellipse cx="155" cy="108" rx="42" ry="22" fill="url(#disc)" opacity="0.55"/>
<g clip-path="url(#mainclip)">
<ellipse cx="105" cy="104" rx="62" ry="50" fill="url(#disc)" opacity="0.75"/>
<linearGradient id="sg0" x1="0" y1="78" x2="0" y2="172" gradientUnits="userSpaceOnUse"><stop offset="0" stop-color="#d8622a" stop-opacity="0.25"/><stop offset="0.4" stop-color="#d8622a" stop-opacity="0.85"/><stop offset="0.8" stop-color="#d8622a" stop-opacity="0.75"/><stop offset="1" stop-color="#d8622a" stop-opacity="0"/></linearGradient>
<linearGradient id="sg1" x1="0" y1="78" x2="0" y2="172" gradientUnits="userSpaceOnUse"><stop offset="0" stop-color="#d0521c" stop-opacity="0.25"/><stop offset="0.4" stop-color="#d0521c" stop-opacity="0.85"/><stop offset="0.8" stop-color="#d0521c" stop-opacity="0.75"/><stop offset="1" stop-color="#d0521c" stop-opacity="0"/></linearGradient>
<linearGradient id="sg2" x1="0" y1="78" x2="0" y2="172" gradientUnits="userSpaceOnUse"><stop offset="0" stop-color="#e07a2e" stop-opacity="0.25"/><stop offset="0.4" stop-color="#e07a2e" stop-opacity="0.85"/><stop offset="0.8" stop-color="#e07a2e" stop-opacity="0.75"/><stop offset="1" stop-color="#e07a2e" stop-opacity="0"/></linearGradient>
<linearGradient id="sg3" x1="0" y1="78" x2="0" y2="172" gradientUnits="userSpaceOnUse"><stop offset="0" stop-color="#c0401c" stop-opacity="0.25"/><stop offset="0.4" stop-color="#c0401c" stop-opacity="0.85"/><stop offset="0.8" stop-color="#c0401c" stop-opacity="0.75"/><stop offset="1" stop-color="#c0401c" stop-opacity="0"/></linearGradient>
<linearGradient id="sg4" x1="0" y1="78" x2="0" y2="172" gradientUnits="userSpaceOnUse"><stop offset="0" stop-color="#e06a2a" stop-opacity="0.25"/><stop offset="0.4" stop-color="#e06a2a" stop-opacity="0.85"/><stop offset="0.8" stop-color="#e06a2a" stop-opacity="0.75"/><stop offset="1" stop-color="#e06a2a" stop-opacity="0"/></linearGradient>
<linearGradient id="sg5" x1="0" y1="78" x2="0" y2="172" gradientUnits="userSpaceOnUse"><stop offset="0" stop-color="#b03a1a" stop-opacity="0.25"/><stop offset="0.4" stop-color="#b03a1a" stop-opacity="0.85"/><stop offset="0.8" stop-color="#b03a1a" stop-opacity="0.75"/><stop offset="1" stop-color="#b03a1a" stop-opacity="0"/></linearGradient>
<path d="M106.8,94.3 C106.8,83.3 61.9,83.3 61.9,167.1" fill="none" stroke="url(#sg1)" stroke-width="0.78" opacity="0.24"/>
<path d="M107.2,103.0 C107.2,97.3 115.2,97.3 115.2,147.3" fill="none" stroke="url(#sg4)" stroke-width="0.79" opacity="0.30"/>
<path d="M98.6,97.4 C98.6,93.3 132.6,93.3 132.6,149.9" fill="none" stroke="url(#sg4)" stroke-width="0.34" opacity="0.13"/>
<path d="M97.5,97.6 C97.5,90.8 72.6,90.8 72.6,128.9" fill="none" stroke="url(#sg2)" stroke-width="0.60" opacity="0.29"/>
<path d="M105.1,106.7 C105.1,94.2 78.0,94.2 78.0,171.8" fill="none" stroke="url(#sg2)" stroke-width="0.75" opacity="0.25"/>
<path d="M98.6,98.3 C98.6,93.0 104.1,93.0 104.1,109.9" fill="none" stroke="url(#sg2)" stroke-width="0.53" opacity="0.37"/>
<path d="M102.7,102.8 C102.7,87.0 106.7,87.0 106.7,121.4" fill="none" stroke="url(#sg3)" stroke-width="0.55" opacity="0.27"/>
<path d="M98.9,95.8 C98.9,88.0 84.3,88.0 84.3,120.7" fill="none" stroke="url(#sg0)" stroke-width="0.88" opacity="0.32"/>
<path d="M108.1,105.6 C108.1,99.5 126.0,99.5 126.0,114.5" fill="none" stroke="url(#sg4)" stroke-width="0.41" opacity="0.25"/>
<path d="M92.7,89.4 C92.7,85.4 110.6,85.4 110.6,132.6" fill="none" stroke="url(#sg4)" stroke-width="0.48" opacity="0.35"/>
<path d="M87.5,103.8 C87.5,92.1 173.1,92.1 173.1,121.5" fill="none" stroke="url(#sg0)" stroke-width="0.33" opacity="0.16"/>
<path d="M103.5,100.9 C103.5,96.0 101.3,96.0 101.3,147.1" fill="none" stroke="url(#sg1)" stroke-width="0.65" opacity="0.18"/>
<path d="M95.4,102.2 C95.4,86.7 74.9,86.7 74.9,146.5" fill="none" stroke="url(#sg3)" stroke-width="0.80" opacity="0.16"/>
<path d="M112.2,99.7 C112.2,87.0 67.8,87.0 67.8,127.9" fill="none" stroke="url(#sg1)" stroke-width="0.74" opacity="0.36"/>
<path d="M122.7,96.5 C122.7,85.2 155.0,85.2 155.0,120.6" fill="none" stroke="url(#sg3)" stroke-width="0.33" opacity="0.15"/>
<path d="M102.4,95.8 C102.4,80.9 78.4,80.9 78.4,155.3" fill="none" stroke="url(#sg3)" stroke-width="0.48" opacity="0.17"/>
<path d="M109.5,100.2 C109.5,89.5 129.7,89.5 129.7,154.1" fill="none" stroke="url(#sg4)" stroke-width="0.67" opacity="0.19"/>
<path d="M99.6,98.5 C99.6,93.8 127.1,93.8 127.1,109.1" fill="none" stroke="url(#sg1)" stroke-width="0.47" opacity="0.26"/>
<path d="M106.0,95.8 C106.0,85.6 122.4,85.6 122.4,136.8" fill="none" stroke="url(#sg1)" stroke-width="0.65" opacity="0.36"/>
<path d="M109.7,97.7 C109.7,92.9 86.5,92.9 86.5,110.1" fill="none" stroke="url(#sg2)" stroke-width="0.49" opacity="0.38"/>
<path d="M87.3,97.1 C87.3,82.3 97.8,82.3 97.8,112.8" fill="none" stroke="url(#sg5)" stroke-width="0.74" opacity="0.15"/>
<path d="M100.9,97.4 C100.9,83.1 138.0,83.1 138.0,113.4" fill="none" stroke="url(#sg0)" stroke-width="0.82" opacity="0.27"/>
<path d="M93.2,102.6 C93.2,91.3 108.4,91.3 108.4,148.0" fill="none" stroke="url(#sg0)" stroke-width="0.35" opacity="0.15"/>
<path d="M113.4,104.6 C113.4,95.1 104.3,95.1 104.3,129.1" fill="none" stroke="url(#sg3)" stroke-width="0.80" opacity="0.14"/>
<path d="M116.3,100.0 C116.3,90.2 83.8,90.2 83.8,156.0" fill="none" stroke="url(#sg1)" stroke-width="0.87" opacity="0.15"/>
<path d="M88.6,102.0 C88.6,96.3 115.9,96.3 115.9,139.1" fill="none" stroke="url(#sg4)" stroke-width="0.42" opacity="0.16"/>
<path d="M97.2,95.4 C97.2,80.7 85.1,80.7 85.1,166.0" fill="none" stroke="url(#sg2)" stroke-width="0.54" opacity="0.19"/>
<path d="M89.5,99.9 C89.5,93.2 62.8,93.2 62.8,156.3" fill="none" stroke="url(#sg2)" stroke-width="0.43" opacity="0.15"/>
<path d="M105.3,98.3 C105.3,93.5 129.8,93.5 129.8,130.4" fill="none" stroke="url(#sg2)" stroke-width="0.79" opacity="0.15"/>
<path d="M88.2,98.3 C88.2,85.7 120.7,85.7 120.7,132.5" fill="none" stroke="url(#sg4)" stroke-width="0.57" opacity="0.14"/>
<path d="M107.0,97.7 C107.0,90.0 177.7,90.0 177.7,110.7" fill="none" stroke="url(#sg4)" stroke-width="0.31" opacity="0.16"/>
<path d="M121.6,100.2 C121.6,93.3 60.8,93.3 60.8,137.1" fill="none" stroke="url(#sg1)" stroke-width="0.78" opacity="0.38"/>
<path d="M106.2,96.6 C106.2,91.6 119.0,91.6 119.0,142.3" fill="none" stroke="url(#sg1)" stroke-width="0.42" opacity="0.24"/>
<path d="M114.3,99.3 C114.3,86.7 79.4,86.7 79.4,119.4" fill="none" stroke="url(#sg1)" stroke-width="0.44" opacity="0.32"/>
<path d="M113.5,105.5 C113.5,93.1 84.5,93.1 84.5,171.8" fill="none" stroke="url(#sg1)" stroke-width="0.35" opacity="0.36"/>
<path d="M97.8,92.8 C97.8,84.3 102.7,84.3 102.7,137.0" fill="none" stroke="url(#sg4)" stroke-width="0.69" opacity="0.25"/>
<path d="M98.1,102.0 C98.1,86.2 49.9,86.2 49.9,160.4" fill="none" stroke="url(#sg0)" stroke-width="0.73" opacity="0.33"/>
<path d="M90.6,108.1 C90.6,92.4 70.0,92.4 70.0,121.7" fill="none" stroke="url(#sg4)" stroke-width="0.89" opacity="0.36"/>
<path d="M102.6,98.3 C102.6,88.2 46.6,88.2 46.6,124.8" fill="none" stroke="url(#sg0)" stroke-width="0.56" opacity="0.26"/>
<path d="M91.5,99.5 C91.5,85.9 110.8,85.9 110.8,109.8" fill="none" stroke="url(#sg1)" stroke-width="0.62" opacity="0.30"/>
<path d="M62.1,102.1 C62.1,87.3 93.8,87.3 93.8,166.6" fill="none" stroke="url(#sg4)" stroke-width="0.80" opacity="0.30"/>
<path d="M105.2,103.8 C105.2,96.3 92.0,96.3 92.0,113.5" fill="none" stroke="url(#sg5)" stroke-width="0.64" opacity="0.16"/>
<path d="M122.4,96.7 C122.4,85.4 99.0,85.4 99.0,151.0" fill="none" stroke="url(#sg2)" stroke-width="0.81" opacity="0.37"/>
<path d="M101.0,94.4 C101.0,83.1 59.6,83.1 59.6,120.9" fill="none" stroke="url(#sg0)" stroke-width="0.62" opacity="0.13"/>
<path d="M74.0,95.7 C74.0,90.2 96.5,90.2 96.5,166.7" fill="none" stroke="url(#sg0)" stroke-width="0.71" opacity="0.14"/>
<path d="M100.5,101.8 C100.5,92.1 69.9,92.1 69.9,169.2" fill="none" stroke="url(#sg1)" stroke-width="0.50" opacity="0.35"/>
<path d="M113.7,96.6 C113.7,91.3 92.8,91.3 92.8,167.9" fill="none" stroke="url(#sg3)" stroke-width="0.67" opacity="0.36"/>
<path d="M115.6,100.0 C115.6,87.7 149.0,87.7 149.0,109.5" fill="none" stroke="url(#sg2)" stroke-width="0.73" opacity="0.18"/>
<path d="M89.8,99.0 C89.8,84.8 130.3,84.8 130.3,139.9" fill="none" stroke="url(#sg4)" stroke-width="0.45" opacity="0.17"/>
<path d="M101.0,94.8 C101.0,88.9 68.1,88.9 68.1,132.0" fill="none" stroke="url(#sg1)" stroke-width="0.82" opacity="0.26"/>
<path d="M105.6,103.9 C105.6,92.9 128.9,92.9 128.9,122.0" fill="none" stroke="url(#sg1)" stroke-width="0.44" opacity="0.31"/>
<path d="M83.0,95.4 C83.0,88.8 134.8,88.8 134.8,128.2" fill="none" stroke="url(#sg1)" stroke-width="0.83" opacity="0.15"/>
<path d="M101.9,95.9 C101.9,90.8 180.8,90.8 180.8,123.3" fill="none" stroke="url(#sg3)" stroke-width="0.63" opacity="0.30"/>
<path d="M116.4,103.3 C116.4,95.0 121.4,95.0 121.4,159.1" fill="none" stroke="url(#sg2)" stroke-width="0.37" opacity="0.25"/>
<path d="M87.8,98.9 C87.8,92.6 132.5,92.6 132.5,156.5" fill="none" stroke="url(#sg0)" stroke-width="0.59" opacity="0.13"/>
<path d="M89.3,96.4 C89.3,91.0 109.7,91.0 109.7,165.9" fill="none" stroke="url(#sg1)" stroke-width="0.80" opacity="0.38"/>
<path d="M106.0,99.8 C106.0,84.4 108.7,84.4 108.7,167.3" fill="none" stroke="url(#sg3)" stroke-width="0.35" opacity="0.15"/>
<path d="M109.7,100.0 C109.7,88.4 76.6,88.4 76.6,130.7" fill="none" stroke="url(#sg0)" stroke-width="0.81" opacity="0.17"/>
<path d="M102.3,94.9 C102.3,88.6 139.7,88.6 139.7,137.1" fill="none" stroke="url(#sg1)" stroke-width="0.36" opacity="0.33"/>
<path d="M106.8,105.2 C106.8,89.9 99.2,89.9 99.2,161.9" fill="none" stroke="url(#sg4)" stroke-width="0.66" opacity="0.25"/>
<path d="M105.6,96.1 C105.6,81.2 50.5,81.2 50.5,170.9" fill="none" stroke="url(#sg5)" stroke-width="0.75" opacity="0.16"/>
<path d="M100.8,95.3 C100.8,86.1 123.6,86.1 123.6,129.1" fill="none" stroke="url(#sg1)" stroke-width="0.54" opacity="0.31"/>
<path d="M96.9,102.8 C96.9,98.6 97.6,98.6 97.6,112.5" fill="none" stroke="url(#sg2)" stroke-width="0.89" opacity="0.35"/>
<path d="M105.2,103.0 C105.2,96.8 114.8,96.8 114.8,127.1" fill="none" stroke="url(#sg0)" stroke-width="0.53" opacity="0.38"/>
<path d="M90.9,99.9 C90.9,88.5 70.9,88.5 70.9,156.8" fill="none" stroke="url(#sg5)" stroke-width="0.44" opacity="0.24"/>
<path d="M104.0,93.2 C104.0,89.1 105.0,89.1 105.0,140.3" fill="none" stroke="url(#sg2)" stroke-width="0.45" opacity="0.36"/>
<path d="M99.3,87.1 C99.3,75.5 65.2,75.5 65.2,169.9" fill="none" stroke="url(#sg5)" stroke-width="0.35" opacity="0.28"/>
<path d="M125.2,101.6 C125.2,95.7 57.4,95.7 57.4,156.6" fill="none" stroke="url(#sg3)" stroke-width="0.88" opacity="0.34"/>
<path d="M99.5,95.7 C99.5,86.9 59.2,86.9 59.2,135.5" fill="none" stroke="url(#sg2)" stroke-width="0.52" opacity="0.19"/>
<path d="M95.4,97.8 C95.4,85.2 107.0,85.2 107.0,149.9" fill="none" stroke="url(#sg2)" stroke-width="0.32" opacity="0.32"/>
<path d="M95.7,98.5 C95.7,90.7 62.3,90.7 62.3,134.2" fill="none" stroke="url(#sg3)" stroke-width="0.33" opacity="0.38"/>
<path d="M122.4,102.9 C122.4,93.7 95.1,93.7 95.1,168.4" fill="none" stroke="url(#sg3)" stroke-width="0.45" opacity="0.32"/>
<path d="M104.3,100.9 C104.3,85.4 121.7,85.4 121.7,159.9" fill="none" stroke="url(#sg1)" stroke-width="0.66" opacity="0.15"/>
<path d="M96.5,99.7 C96.5,95.1 95.2,95.1 95.2,148.0" fill="none" stroke="url(#sg4)" stroke-width="0.39" opacity="0.21"/>
<path d="M111.0,95.1 C111.0,86.8 129.9,86.8 129.9,146.5" fill="none" stroke="url(#sg5)" stroke-width="0.62" opacity="0.38"/>
<path d="M102.3,96.1 C102.3,90.7 64.1,90.7 64.1,169.0" fill="none" stroke="url(#sg2)" stroke-width="0.77" opacity="0.28"/>
<path d="M109.2,94.1 C109.2,82.5 87.8,82.5 87.8,151.8" fill="none" stroke="url(#sg1)" stroke-width="0.41" opacity="0.18"/>
<path d="M120.7,94.8 C120.7,90.4 86.9,90.4 86.9,170.7" fill="none" stroke="url(#sg0)" stroke-width="0.31" opacity="0.19"/>
<path d="M103.5,97.8 C103.5,82.9 115.9,82.9 115.9,122.2" fill="none" stroke="url(#sg1)" stroke-width="0.63" opacity="0.28"/>
<path d="M96.2,99.4 C96.2,91.2 165.5,91.2 165.5,131.9" fill="none" stroke="url(#sg5)" stroke-width="0.38" opacity="0.35"/>
<path d="M92.7,102.6 C92.7,93.3 118.6,93.3 118.6,160.6" fill="none" stroke="url(#sg5)" stroke-width="0.45" opacity="0.33"/>
<path d="M85.9,89.1 C85.9,81.2 53.6,81.2 53.6,131.6" fill="none" stroke="url(#sg4)" stroke-width="0.76" opacity="0.33"/>
<path d="M116.3,95.6 C116.3,85.0 127.2,85.0 127.2,145.2" fill="none" stroke="url(#sg3)" stroke-width="0.64" opacity="0.25"/>
<path d="M97.8,105.6 C97.8,100.7 113.5,100.7 113.5,151.9" fill="none" stroke="url(#sg1)" stroke-width="0.85" opacity="0.28"/>
<path d="M92.0,95.1 C92.0,88.5 91.8,88.5 91.8,156.9" fill="none" stroke="url(#sg5)" stroke-width="0.74" opacity="0.22"/>
<path d="M99.7,94.0 C99.7,79.0 171.6,79.0 171.6,115.5" fill="none" stroke="url(#sg5)" stroke-width="0.85" opacity="0.23"/>
<path d="M94.9,91.5 C94.9,76.7 116.0,76.7 116.0,128.3" fill="none" stroke="url(#sg1)" stroke-width="0.35" opacity="0.34"/>
<path d="M97.1,94.2 C97.1,80.7 155.6,80.7 155.6,109.5" fill="none" stroke="url(#sg5)" stroke-width="0.64" opacity="0.33"/>
<path d="M104.2,90.8 C104.2,83.4 88.7,83.4 88.7,119.3" fill="none" stroke="url(#sg0)" stroke-width="0.43" opacity="0.14"/>
<path d="M110.0,101.3 C110.0,90.3 122.4,90.3 122.4,109.4" fill="none" stroke="url(#sg2)" stroke-width="0.77" opacity="0.14"/>
<path d="M101.3,90.5 C101.3,85.4 74.4,85.4 74.4,113.2" fill="none" stroke="url(#sg5)" stroke-width="0.69" opacity="0.15"/>
<path d="M93.4,90.3 C93.4,82.2 121.2,82.2 121.2,153.6" fill="none" stroke="url(#sg3)" stroke-width="0.54" opacity="0.21"/>
<path d="M97.5,94.9 C97.5,84.4 111.4,84.4 111.4,170.0" fill="none" stroke="url(#sg5)" stroke-width="0.34" opacity="0.28"/>
<path d="M112.7,99.1 C112.7,94.0 123.3,94.0 123.3,130.3" fill="none" stroke="url(#sg3)" stroke-width="0.87" opacity="0.29"/>
<path d="M100.7,95.3 C100.7,89.6 50.0,89.6 50.0,159.3" fill="none" stroke="url(#sg5)" stroke-width="0.40" opacity="0.29"/>
<path d="M98.7,102.6 C98.7,92.2 123.8,92.2 123.8,151.8" fill="none" stroke="url(#sg2)" stroke-width="0.88" opacity="0.14"/>
<path d="M107.6,99.4 C107.6,94.7 99.6,94.7 99.6,149.5" fill="none" stroke="url(#sg3)" stroke-width="0.31" opacity="0.25"/>
<path d="M100.5,101.5 C100.5,93.1 83.7,93.1 83.7,159.2" fill="none" stroke="url(#sg4)" stroke-width="0.44" opacity="0.31"/>
<path d="M99.0,98.5 C99.0,85.4 84.8,85.4 84.8,119.8" fill="none" stroke="url(#sg2)" stroke-width="0.68" opacity="0.36"/>
<path d="M110.0,95.3 C110.0,86.5 127.7,86.5 127.7,143.2" fill="none" stroke="url(#sg2)" stroke-width="0.70" opacity="0.32"/>
<path d="M114.9,104.3 C114.9,88.6 145.3,88.6 145.3,121.9" fill="none" stroke="url(#sg4)" stroke-width="0.76" opacity="0.32"/>
<path d="M112.1,96.5 C112.1,89.6 135.1,89.6 135.1,163.9" fill="none" stroke="url(#sg3)" stroke-width="0.66" opacity="0.16"/>
<path d="M110.3,102.3 C110.3,90.6 123.5,90.6 123.5,124.6" fill="none" stroke="url(#sg4)" stroke-width="0.46" opacity="0.26"/>
<path d="M103.1,98.8 C103.1,84.9 74.2,84.9 74.2,117.6" fill="none" stroke="url(#sg1)" stroke-width="0.79" opacity="0.14"/>
<path d="M118.8,94.5 C118.8,79.1 98.9,79.1 98.9,114.2" fill="none" stroke="url(#sg4)" stroke-width="0.63" opacity="0.25"/>
<path d="M105.5,101.4 C105.5,89.2 111.0,89.2 111.0,109.2" fill="none" stroke="url(#sg3)" stroke-width="0.43" opacity="0.26"/>
<path d="M102.1,97.7 C102.1,92.8 85.2,92.8 85.2,161.2" fill="none" stroke="url(#sg2)" stroke-width="0.90" opacity="0.29"/>
<path d="M107.9,100.0 C107.9,88.0 134.8,88.0 134.8,112.3" fill="none" stroke="url(#sg5)" stroke-width="0.58" opacity="0.37"/>
<path d="M90.2,94.5 C90.2,87.6 131.2,87.6 131.2,108.8" fill="none" stroke="url(#sg4)" stroke-width="0.37" opacity="0.32"/>
<path d="M86.6,92.2 C86.6,79.2 58.4,79.2 58.4,117.7" fill="none" stroke="url(#sg2)" stroke-width="0.75" opacity="0.26"/>
<path d="M106.4,101.7 C106.4,94.4 125.9,94.4 125.9,132.1" fill="none" stroke="url(#sg3)" stroke-width="0.73" opacity="0.21"/>
<path d="M107.6,100.2 C107.6,95.1 125.7,95.1 125.7,160.9" fill="none" stroke="url(#sg5)" stroke-width="0.68" opacity="0.17"/>
<path d="M105.6,98.5 C105.6,94.1 109.4,94.1 109.4,137.6" fill="none" stroke="url(#sg0)" stroke-width="0.56" opacity="0.32"/>
<path d="M113.2,90.8 C113.2,85.1 90.1,85.1 90.1,129.9" fill="none" stroke="url(#sg1)" stroke-width="0.76" opacity="0.33"/>
<path d="M108.9,103.0 C108.9,90.6 81.6,90.6 81.6,134.4" fill="none" stroke="url(#sg1)" stroke-width="0.70" opacity="0.28"/>
<path d="M98.5,102.2 C98.5,90.4 109.5,90.4 109.5,109.2" fill="none" stroke="url(#sg0)" stroke-width="0.63" opacity="0.17"/>
<path d="M110.2,98.3 C110.2,87.8 91.1,87.8 91.1,114.6" fill="none" stroke="url(#sg2)" stroke-width="0.63" opacity="0.21"/>
<path d="M112.9,103.9 C112.9,88.1 79.2,88.1 79.2,140.0" fill="none" stroke="url(#sg4)" stroke-width="0.90" opacity="0.30"/>
<path d="M97.9,95.3 C97.9,89.6 148.9,89.6 148.9,109.7" fill="none" stroke="url(#sg3)" stroke-width="0.65" opacity="0.30"/>
<path d="M111.5,97.4 C111.5,87.8 53.5,87.8 53.5,129.1" fill="none" stroke="url(#sg0)" stroke-width="0.57" opacity="0.31"/>
<path d="M115.9,107.2 C115.9,101.2 109.3,101.2 109.3,143.0" fill="none" stroke="url(#sg5)" stroke-width="0.90" opacity="0.33"/>
<path d="M116.4,104.2 C116.4,96.7 137.1,96.7 137.1,146.5" fill="none" stroke="url(#sg2)" stroke-width="0.44" opacity="0.27"/>
<path d="M97.4,99.9 C97.4,93.7 117.2,93.7 117.2,143.1" fill="none" stroke="url(#sg5)" stroke-width="0.38" opacity="0.32"/>
<path d="M114.5,95.9 C114.5,84.3 110.2,84.3 110.2,162.2" fill="none" stroke="url(#sg0)" stroke-width="0.40" opacity="0.23"/>
<path d="M105.5,96.0 C105.5,90.4 149.2,90.4 149.2,115.6" fill="none" stroke="url(#sg1)" stroke-width="0.64" opacity="0.21"/>
<path d="M117.5,100.4 C117.5,94.7 124.2,94.7 124.2,149.1" fill="none" stroke="url(#sg3)" stroke-width="0.66" opacity="0.24"/>
<path d="M110.4,99.3 C110.4,89.5 63.3,89.5 63.3,152.1" fill="none" stroke="url(#sg3)" stroke-width="0.80" opacity="0.34"/>
<path d="M91.2,101.1 C91.2,86.2 46.0,86.2 46.0,134.2" fill="none" stroke="url(#sg4)" stroke-width="0.50" opacity="0.26"/>
<path d="M104.1,97.4 C104.1,88.2 99.0,88.2 99.0,166.1" fill="none" stroke="url(#sg3)" stroke-width="0.66" opacity="0.32"/>
<path d="M99.8,98.2 C99.8,92.7 153.8,92.7 153.8,127.5" fill="none" stroke="url(#sg3)" stroke-width="0.45" opacity="0.35"/>
<path d="M101.0,103.2 C101.0,91.4 146.3,91.4 146.3,114.7" fill="none" stroke="url(#sg1)" stroke-width="0.83" opacity="0.38"/>
<path d="M109.6,96.2 C109.6,85.7 81.8,85.7 81.8,154.8" fill="none" stroke="url(#sg4)" stroke-width="0.78" opacity="0.18"/>
<path d="M90.1,104.8 C90.1,99.3 105.0,99.3 105.0,165.8" fill="none" stroke="url(#sg4)" stroke-width="0.65" opacity="0.24"/>
<path d="M102.7,98.1 C102.7,92.1 143.1,92.1 143.1,127.0" fill="none" stroke="url(#sg3)" stroke-width="0.84" opacity="0.33"/>
<path d="M108.6,100.0 C108.6,85.2 79.0,85.2 79.0,145.5" fill="none" stroke="url(#sg2)" stroke-width="0.49" opacity="0.16"/>
<path d="M106.4,90.9 C106.4,84.5 108.6,84.5 108.6,157.7" fill="none" stroke="url(#sg5)" stroke-width="0.84" opacity="0.17"/>
<path d="M95.0,102.9 C95.0,86.9 123.7,86.9 123.7,138.2" fill="none" stroke="url(#sg1)" stroke-width="0.62" opacity="0.18"/>
<path d="M100.8,103.2 C100.8,95.9 157.6,95.9 157.6,127.6" fill="none" stroke="url(#sg3)" stroke-width="0.73" opacity="0.16"/>
<path d="M98.9,99.6 C98.9,87.0 142.1,87.0 142.1,113.1" fill="none" stroke="url(#sg1)" stroke-width="0.46" opacity="0.31"/>
<path d="M100.7,102.1 C100.7,88.4 136.4,88.4 136.4,140.1" fill="none" stroke="url(#sg4)" stroke-width="0.83" opacity="0.27"/>
<path d="M111.4,97.4 C111.4,85.7 110.0,85.7 110.0,167.3" fill="none" stroke="url(#sg0)" stroke-width="0.58" opacity="0.14"/>
<path d="M122.5,102.9 C122.5,98.8 80.9,98.8 80.9,166.7" fill="none" stroke="url(#sg4)" stroke-width="0.47" opacity="0.19"/>
<path d="M99.0,99.1 C99.0,91.8 111.0,91.8 111.0,126.2" fill="none" stroke="url(#sg4)" stroke-width="0.32" opacity="0.33"/>
<path d="M114.2,95.7 C114.2,80.7 79.0,80.7 79.0,117.6" fill="none" stroke="url(#sg4)" stroke-width="0.53" opacity="0.36"/>
<path d="M103.0,96.7 C103.0,84.8 83.3,84.8 83.3,143.6" fill="none" stroke="url(#sg0)" stroke-width="0.61" opacity="0.25"/>
<path d="M98.1,94.6 C98.1,79.1 79.1,79.1 79.1,162.1" fill="none" stroke="url(#sg1)" stroke-width="0.66" opacity="0.32"/>
<path d="M109.9,96.1 C109.9,83.5 135.3,83.5 135.3,150.8" fill="none" stroke="url(#sg5)" stroke-width="0.44" opacity="0.25"/>
<path d="M92.7,96.7 C92.7,92.3 97.8,92.3 97.8,122.2" fill="none" stroke="url(#sg4)" stroke-width="0.88" opacity="0.13"/>
<path d="M88.9,94.4 C88.9,84.4 129.7,84.4 129.7,146.9" fill="none" stroke="url(#sg5)" stroke-width="0.46" opacity="0.33"/>
<path d="M104.9,96.2 C104.9,90.4 140.6,90.4 140.6,142.8" fill="none" stroke="url(#sg2)" stroke-width="0.56" opacity="0.30"/>
<path d="M88.2,99.5 C88.2,87.7 131.0,87.7 131.0,158.0" fill="none" stroke="url(#sg4)" stroke-width="0.40" opacity="0.19"/>
<path d="M96.1,92.0 C96.1,78.5 63.9,78.5 63.9,118.2" fill="none" stroke="url(#sg0)" stroke-width="0.49" opacity="0.24"/>
<path d="M88.2,103.6 C88.2,92.4 88.2,92.4 88.2,169.3" fill="none" stroke="url(#sg1)" stroke-width="0.39" opacity="0.24"/>
<path d="M104.8,101.5 C104.8,93.9 131.9,93.9 131.9,165.0" fill="none" stroke="url(#sg3)" stroke-width="0.86" opacity="0.37"/>
<path d="M97.4,88.3 C97.4,77.0 133.9,77.0 133.9,151.5" fill="none" stroke="url(#sg2)" stroke-width="0.45" opacity="0.26"/>
<path d="M114.1,96.6 C114.1,80.8 108.1,80.8 108.1,167.7" fill="none" stroke="url(#sg4)" stroke-width="0.43" opacity="0.16"/>
<path d="M119.3,98.8 C119.3,88.0 130.6,88.0 130.6,145.5" fill="none" stroke="url(#sg4)" stroke-width="0.85" opacity="0.17"/>
<path d="M85.0,98.1 C85.0,89.1 159.7,89.1 159.7,121.7" fill="none" stroke="url(#sg1)" stroke-width="0.41" opacity="0.26"/>
<path d="M105.0,101.7 C105.0,92.0 113.9,92.0 113.9,118.5" fill="none" stroke="url(#sg2)" stroke-width="0.58" opacity="0.25"/>
<path d="M98.5,95.0 C98.5,90.4 90.1,90.4 90.1,139.2" fill="none" stroke="url(#sg2)" stroke-width="0.52" opacity="0.19"/>
<path d="M106.2,101.8 C106.2,93.1 96.6,93.1 96.6,109.2" fill="none" stroke="url(#sg5)" stroke-width="0.73" opacity="0.19"/>
<path d="M107.4,94.7 C107.4,82.0 92.6,82.0 92.6,167.9" fill="none" stroke="url(#sg0)" stroke-width="0.31" opacity="0.20"/>
<path d="M120.9,103.1 C120.9,95.2 153.3,95.2 153.3,132.6" fill="none" stroke="url(#sg4)" stroke-width="0.70" opacity="0.20"/>
<path d="M95.7,96.9 C95.7,90.4 73.5,90.4 73.5,120.0" fill="none" stroke="url(#sg3)" stroke-width="0.55" opacity="0.26"/>
<path d="M100.9,96.0 C100.9,83.3 104.4,83.3 104.4,116.7" fill="none" stroke="url(#sg5)" stroke-width="0.53" opacity="0.35"/>
<path d="M92.3,102.2 C92.3,93.9 128.6,93.9 128.6,136.8" fill="none" stroke="url(#sg0)" stroke-width="0.48" opacity="0.21"/>
<path d="M105.2,99.2 C105.2,87.7 138.9,87.7 138.9,121.8" fill="none" stroke="url(#sg4)" stroke-width="0.31" opacity="0.32"/>
<path d="M88.3,102.1 C88.3,93.8 103.7,93.8 103.7,112.3" fill="none" stroke="url(#sg0)" stroke-width="0.87" opacity="0.35"/>
<path d="M100.1,97.7 C100.1,88.6 69.3,88.6 69.3,123.0" fill="none" stroke="url(#sg3)" stroke-width="0.60" opacity="0.25"/>
<path d="M99.5,100.6 C99.5,94.2 132.7,94.2 132.7,153.0" fill="none" stroke="url(#sg1)" stroke-width="0.51" opacity="0.31"/>
<path d="M81.2,95.9 C81.2,81.7 102.4,81.7 102.4,159.5" fill="none" stroke="url(#sg2)" stroke-width="0.72" opacity="0.13"/>
<path d="M100.6,100.1 C100.6,91.2 109.8,91.2 109.8,133.0" fill="none" stroke="url(#sg0)" stroke-width="0.53" opacity="0.34"/>
<path d="M118.2,100.0 C118.2,92.1 88.3,92.1 88.3,164.7" fill="none" stroke="url(#sg2)" stroke-width="0.64" opacity="0.19"/>
<path d="M107.4,103.1 C107.4,91.8 110.2,91.8 110.2,150.8" fill="none" stroke="url(#sg2)" stroke-width="0.32" opacity="0.30"/>
<path d="M106.9,93.7 C106.9,88.9 109.0,88.9 109.0,111.1" fill="none" stroke="url(#sg0)" stroke-width="0.80" opacity="0.35"/>
<path d="M105.4,98.4 C105.4,92.8 92.8,92.8 92.8,132.4" fill="none" stroke="url(#sg4)" stroke-width="0.46" opacity="0.25"/>
<path d="M103.3,98.6 C103.3,92.0 98.7,92.0 98.7,146.7" fill="none" stroke="url(#sg4)" stroke-width="0.30" opacity="0.26"/>
<path d="M103.8,103.7 C103.8,91.9 133.6,91.9 133.6,133.2" fill="none" stroke="url(#sg4)" stroke-width="0.35" opacity="0.33"/>
<path d="M104.6,99.5 C104.6,85.8 69.3,85.8 69.3,124.9" fill="none" stroke="url(#sg1)" stroke-width="0.72" opacity="0.30"/>
<path d="M98.8,95.6 C98.8,84.9 171.4,84.9 171.4,118.2" fill="none" stroke="url(#sg2)" stroke-width="0.55" opacity="0.22"/>
<path d="M88.6,99.1 C88.6,90.7 77.1,90.7 77.1,150.8" fill="none" stroke="url(#sg5)" stroke-width="0.41" opacity="0.25"/>
<path d="M105.6,104.0 C105.6,98.6 115.1,98.6 115.1,112.4" fill="none" stroke="url(#sg3)" stroke-width="0.61" opacity="0.30"/>
<path d="M95.5,96.1 C95.5,86.4 139.7,86.4 139.7,110.6" fill="none" stroke="url(#sg2)" stroke-width="0.45" opacity="0.25"/>
<path d="M93.4,98.9 C93.4,91.0 116.3,91.0 116.3,153.8" fill="none" stroke="url(#sg2)" stroke-width="0.81" opacity="0.17"/>
<path d="M102.5,95.8 C102.5,89.9 180.9,89.9 180.9,116.0" fill="none" stroke="url(#sg1)" stroke-width="0.53" opacity="0.29"/>
<path d="M109.3,90.8 C109.3,75.2 108.7,75.2 108.7,108.9" fill="none" stroke="url(#sg1)" stroke-width="0.46" opacity="0.19"/>
<path d="M98.0,95.6 C98.0,83.4 62.2,83.4 62.2,124.1" fill="none" stroke="url(#sg1)" stroke-width="0.33" opacity="0.31"/>
<path d="M105.0,97.5 C105.0,92.1 113.8,92.1 113.8,126.3" fill="none" stroke="url(#sg2)" stroke-width="0.84" opacity="0.34"/>
<path d="M106.3,103.0 C106.3,96.3 112.4,96.3 112.4,136.1" fill="none" stroke="url(#sg5)" stroke-width="0.67" opacity="0.32"/>
<path d="M91.2,102.9 C91.2,92.4 68.0,92.4 68.0,170.8" fill="none" stroke="url(#sg1)" stroke-width="0.57" opacity="0.34"/>
<path d="M115.0,105.8 C115.0,98.5 79.5,98.5 79.5,135.7" fill="none" stroke="url(#sg4)" stroke-width="0.39" opacity="0.28"/>
<path d="M110.1,96.9 C110.1,92.3 102.1,92.3 102.1,138.9" fill="none" stroke="url(#sg0)" stroke-width="0.30" opacity="0.32"/>
<path d="M112.1,99.1 C112.1,93.4 126.8,93.4 126.8,150.9" fill="none" stroke="url(#sg1)" stroke-width="0.89" opacity="0.23"/>
<path d="M104.9,96.4 C104.9,85.0 138.8,85.0 138.8,143.8" fill="none" stroke="url(#sg4)" stroke-width="0.45" opacity="0.17"/>
<path d="M103.0,106.2 C103.0,95.4 97.2,95.4 97.2,126.6" fill="none" stroke="url(#sg5)" stroke-width="0.33" opacity="0.34"/>
<path d="M115.6,99.8 C115.6,95.0 90.7,95.0 90.7,125.3" fill="none" stroke="url(#sg3)" stroke-width="0.31" opacity="0.17"/>
<path d="M102.6,101.6 C102.6,88.8 111.2,88.8 111.2,141.7" fill="none" stroke="url(#sg3)" stroke-width="0.48" opacity="0.26"/>
<path d="M108.5,92.5 C108.5,77.3 46.7,77.3 46.7,150.6" fill="none" stroke="url(#sg3)" stroke-width="0.54" opacity="0.30"/>
<path d="M124.9,96.5 C124.9,87.8 105.8,87.8 105.8,109.5" fill="none" stroke="url(#sg2)" stroke-width="0.60" opacity="0.19"/>
<path d="M95.4,95.9 C95.4,88.1 94.0,88.1 94.0,171.5" fill="none" stroke="url(#sg0)" stroke-width="0.84" opacity="0.20"/>
<path d="M108.0,100.6 C108.0,90.0 133.0,90.0 133.0,155.5" fill="none" stroke="url(#sg5)" stroke-width="0.42" opacity="0.21"/>
<path d="M98.6,100.8 C98.6,96.6 163.6,96.6 163.6,118.0" fill="none" stroke="url(#sg3)" stroke-width="0.60" opacity="0.22"/>
<path d="M114.2,101.3 C114.2,93.5 86.6,93.5 86.6,168.9" fill="none" stroke="url(#sg4)" stroke-width="0.37" opacity="0.38"/>
<path d="M101.4,98.3 C101.4,91.0 130.7,91.0 130.7,134.1" fill="none" stroke="url(#sg5)" stroke-width="0.53" opacity="0.36"/>
<path d="M105.1,94.2 C105.1,90.1 84.3,90.1 84.3,164.4" fill="none" stroke="url(#sg5)" stroke-width="0.68" opacity="0.22"/>
<path d="M97.6,105.0 C97.6,93.5 90.6,93.5 90.6,147.4" fill="none" stroke="url(#sg4)" stroke-width="0.88" opacity="0.36"/>
<path d="M101.8,92.4 C101.8,83.2 60.0,83.2 60.0,115.8" fill="none" stroke="url(#sg3)" stroke-width="0.55" opacity="0.22"/>
<path d="M116.4,98.0 C116.4,86.5 112.1,86.5 112.1,144.7" fill="none" stroke="url(#sg3)" stroke-width="0.47" opacity="0.13"/>
<path d="M97.4,103.4 C97.4,95.5 105.1,95.5 105.1,111.5" fill="none" stroke="url(#sg2)" stroke-width="0.74" opacity="0.20"/>
<path d="M72.9,100.4 C72.9,84.5 97.0,84.5 97.0,133.7" fill="none" stroke="url(#sg3)" stroke-width="0.37" opacity="0.17"/>
<path d="M104.4,96.9 C104.4,91.5 92.1,91.5 92.1,167.1" fill="none" stroke="url(#sg0)" stroke-width="0.61" opacity="0.38"/>
<path d="M106.9,94.9 C106.9,84.4 134.8,84.4 134.8,124.0" fill="none" stroke="url(#sg3)" stroke-width="0.42" opacity="0.19"/>
<path d="M99.9,100.1 C99.9,93.2 97.3,93.2 97.3,143.5" fill="none" stroke="url(#sg3)" stroke-width="0.81" opacity="0.32"/>
<path d="M117.8,95.0 C117.8,89.2 65.3,89.2 65.3,143.2" fill="none" stroke="url(#sg2)" stroke-width="0.41" opacity="0.21"/>
<path d="M92.2,98.0 C92.2,86.6 186.9,86.6 186.9,122.1" fill="none" stroke="url(#sg0)" stroke-width="0.81" opacity="0.28"/>
<path d="M91.7,96.9 C91.7,92.7 147.5,92.7 147.5,120.6" fill="none" stroke="url(#sg2)" stroke-width="0.72" opacity="0.34"/>
<path d="M99.3,96.7 C99.3,90.2 72.7,90.2 72.7,168.5" fill="none" stroke="url(#sg1)" stroke-width="0.40" opacity="0.27"/>
<path d="M105.1,95.9 C105.1,88.2 134.1,88.2 134.1,124.5" fill="none" stroke="url(#sg0)" stroke-width="0.90" opacity="0.30"/>
<path d="M109.6,102.4 C109.6,93.3 86.2,93.3 86.2,134.1" fill="none" stroke="url(#sg4)" stroke-width="0.55" opacity="0.24"/>
<path d="M111.6,97.7 C111.6,85.2 146.4,85.2 146.4,140.4" fill="none" stroke="url(#sg1)" stroke-width="0.60" opacity="0.15"/>
<path d="M98.7,96.7 C98.7,87.0 157.5,87.0 157.5,113.0" fill="none" stroke="url(#sg1)" stroke-width="0.75" opacity="0.28"/>
<path d="M104.2,98.2 C104.2,82.7 93.6,82.7 93.6,134.8" fill="none" stroke="url(#sg2)" stroke-width="0.70" opacity="0.12"/>
<path d="M103.9,101.6 C103.9,94.3 140.7,94.3 140.7,146.0" fill="none" stroke="url(#sg0)" stroke-width="0.79" opacity="0.34"/>
<path d="M98.6,98.5 C98.6,83.7 79.4,83.7 79.4,145.8" fill="none" stroke="url(#sg0)" stroke-width="0.77" opacity="0.12"/>
<path d="M111.2,91.6 C111.2,79.5 115.1,79.5 115.1,171.4" fill="none" stroke="url(#sg1)" stroke-width="0.58" opacity="0.21"/>
<path d="M104.9,90.6 C104.9,74.9 75.4,74.9 75.4,150.9" fill="none" stroke="url(#sg3)" stroke-width="0.56" opacity="0.18"/>
<path d="M105.7,99.9 C105.7,83.9 47.2,83.9 47.2,142.6" fill="none" stroke="url(#sg5)" stroke-width="0.54" opacity="0.29"/>
<path d="M132.7,97.5 C132.7,88.7 127.7,88.7 127.7,121.4" fill="none" stroke="url(#sg5)" stroke-width="0.78" opacity="0.12"/>
<path d="M97.1,92.4 C97.1,77.5 120.6,77.5 120.6,169.3" fill="none" stroke="url(#sg5)" stroke-width="0.79" opacity="0.31"/>
<path d="M98.0,106.9 C98.0,91.6 109.0,91.6 109.0,138.0" fill="none" stroke="url(#sg0)" stroke-width="0.37" opacity="0.23"/>
<path d="M120.1,97.9 C120.1,92.8 113.1,92.8 113.1,143.9" fill="none" stroke="url(#sg4)" stroke-width="0.64" opacity="0.14"/>
<path d="M117.7,97.7 C117.7,90.7 110.0,90.7 110.0,140.6" fill="none" stroke="url(#sg4)" stroke-width="0.55" opacity="0.13"/>
<path d="M90.8,100.5 C90.8,91.0 137.3,91.0 137.3,121.9" fill="none" stroke="url(#sg0)" stroke-width="0.79" opacity="0.25"/>
<path d="M113.1,91.4 C113.1,78.9 134.7,78.9 134.7,119.1" fill="none" stroke="url(#sg0)" stroke-width="0.55" opacity="0.12"/>
<path d="M88.2,101.7 C88.2,97.4 130.4,97.4 130.4,153.6" fill="none" stroke="url(#sg0)" stroke-width="0.60" opacity="0.36"/>
<path d="M104.4,92.1 C104.4,83.4 142.9,83.4 142.9,142.8" fill="none" stroke="url(#sg2)" stroke-width="0.35" opacity="0.19"/>
<path d="M117.5,93.2 C117.5,78.5 167.6,78.5 167.6,129.0" fill="none" stroke="url(#sg1)" stroke-width="0.64" opacity="0.25"/>
<path d="M96.4,101.1 C96.4,88.2 109.6,88.2 109.6,165.8" fill="none" stroke="url(#sg2)" stroke-width="0.43" opacity="0.14"/>
<path d="M93.5,98.0 C93.5,90.3 115.2,90.3 115.2,149.5" fill="none" stroke="url(#sg4)" stroke-width="0.34" opacity="0.26"/>
<path d="M97.3,100.7 C97.3,95.5 121.5,95.5 121.5,143.0" fill="none" stroke="url(#sg2)" stroke-width="0.32" opacity="0.21"/>
<path d="M99.3,98.6 C99.3,87.5 147.6,87.5 147.6,141.7" fill="none" stroke="url(#sg0)" stroke-width="0.30" opacity="0.27"/>
<path d="M94.0,103.0 C94.0,94.6 71.4,94.6 71.4,169.5" fill="none" stroke="url(#sg2)" stroke-width="0.43" opacity="0.32"/>
<path d="M105.2,99.2 C105.2,84.9 127.5,84.9 127.5,115.5" fill="none" stroke="url(#sg1)" stroke-width="0.45" opacity="0.19"/>
<path d="M85.3,102.6 C85.3,93.8 72.9,93.8 72.9,158.9" fill="none" stroke="url(#sg2)" stroke-width="0.64" opacity="0.15"/>
<path d="M107.3,101.2 C107.3,95.4 85.5,95.4 85.5,124.0" fill="none" stroke="url(#sg2)" stroke-width="0.69" opacity="0.13"/>
<path d="M116.4,100.7 C116.4,90.0 110.2,90.0 110.2,156.9" fill="none" stroke="url(#sg2)" stroke-width="0.68" opacity="0.13"/>
<path d="M102.1,94.8 C102.1,82.7 81.9,82.7 81.9,108.4" fill="none" stroke="url(#sg0)" stroke-width="0.40" opacity="0.14"/>
<path d="M98.0,95.8 C98.0,86.5 98.2,86.5 98.2,156.4" fill="none" stroke="url(#sg5)" stroke-width="0.74" opacity="0.34"/>
<path d="M91.3,104.9 C91.3,92.4 47.9,92.4 47.9,169.2" fill="none" stroke="url(#sg5)" stroke-width="0.37" opacity="0.20"/>
<path d="M92.3,101.5 C92.3,87.5 92.8,87.5 92.8,121.5" fill="none" stroke="url(#sg0)" stroke-width="0.39" opacity="0.19"/>
<path d="M99.6,94.5 C99.6,85.3 148.1,85.3 148.1,120.8" fill="none" stroke="url(#sg3)" stroke-width="0.61" opacity="0.25"/>
<path d="M121.5,99.7 C121.5,87.9 84.3,87.9 84.3,128.7" fill="none" stroke="url(#sg3)" stroke-width="0.65" opacity="0.26"/>
<path d="M111.4,95.7 C111.4,85.9 70.0,85.9 70.0,161.9" fill="none" stroke="url(#sg3)" stroke-width="0.50" opacity="0.30"/>
<path d="M101.9,105.5 C101.9,94.6 143.1,94.6 143.1,122.9" fill="none" stroke="url(#sg2)" stroke-width="0.85" opacity="0.33"/>
<path d="M110.5,100.2 C110.5,94.1 105.2,94.1 105.2,121.7" fill="none" stroke="url(#sg3)" stroke-width="0.85" opacity="0.24"/>
<path d="M105.0,105.6 C105.0,100.4 98.8,100.4 98.8,139.2" fill="none" stroke="url(#sg2)" stroke-width="0.60" opacity="0.16"/>
<path d="M102.6,94.4 C102.6,85.0 139.5,85.0 139.5,118.2" fill="none" stroke="url(#sg2)" stroke-width="0.78" opacity="0.15"/>
<path d="M104.3,101.6 C104.3,91.2 108.6,91.2 108.6,158.2" fill="none" stroke="url(#sg4)" stroke-width="0.51" opacity="0.16"/>
<path d="M108.6,96.6 C108.6,91.3 114.0,91.3 114.0,171.7" fill="none" stroke="url(#sg5)" stroke-width="0.78" opacity="0.28"/>
<path d="M107.8,98.8 C107.8,90.5 129.4,90.5 129.4,161.2" fill="none" stroke="url(#sg1)" stroke-width="0.62" opacity="0.19"/>
<path d="M110.4,95.8 C110.4,88.4 98.7,88.4 98.7,116.4" fill="none" stroke="url(#sg2)" stroke-width="0.87" opacity="0.16"/>
<path d="M108.5,94.5 C108.5,88.9 108.7,88.9 108.7,132.9" fill="none" stroke="url(#sg0)" stroke-width="0.63" opacity="0.31"/>
<path d="M99.8,99.5 C99.8,94.8 54.4,94.8 54.4,166.8" fill="none" stroke="url(#sg2)" stroke-width="0.69" opacity="0.26"/>
<path d="M99.4,95.6 C99.4,89.0 78.4,89.0 78.4,138.8" fill="none" stroke="url(#sg5)" stroke-width="0.60" opacity="0.27"/>
<path d="M108.9,106.3 C108.9,94.4 90.8,94.4 90.8,168.8" fill="none" stroke="url(#sg0)" stroke-width="0.48" opacity="0.12"/>
<path d="M101.4,97.7 C101.4,82.3 129.0,82.3 129.0,131.5" fill="none" stroke="url(#sg5)" stroke-width="0.34" opacity="0.13"/>
<path d="M118.1,98.3 C118.1,84.1 121.8,84.1 121.8,144.5" fill="none" stroke="url(#sg4)" stroke-width="0.63" opacity="0.23"/>
<path d="M99.2,92.1 C99.2,77.5 99.4,77.5 99.4,152.5" fill="none" stroke="url(#sg0)" stroke-width="0.55" opacity="0.25"/>
<path d="M90.3,99.4 C90.3,83.7 52.7,83.7 52.7,113.0" fill="none" stroke="url(#sg4)" stroke-width="0.35" opacity="0.35"/>
<path d="M110.0,101.9 C110.0,87.4 105.0,87.4 105.0,125.4" fill="none" stroke="url(#sg1)" stroke-width="0.82" opacity="0.36"/>
<path d="M89.7,99.3 C89.7,87.1 142.5,87.1 142.5,109.3" fill="none" stroke="url(#sg4)" stroke-width="0.84" opacity="0.20"/>
<path d="M118.0,100.6 C118.0,93.1 135.9,93.1 135.9,118.1" fill="none" stroke="url(#sg2)" stroke-width="0.87" opacity="0.13"/>
<path d="M110.3,93.6 C110.3,83.4 97.0,83.4 97.0,110.0" fill="none" stroke="url(#sg4)" stroke-width="0.76" opacity="0.29"/>
<path d="M97.2,100.8 C97.2,92.6 123.3,92.6 123.3,121.8" fill="none" stroke="url(#sg1)" stroke-width="0.51" opacity="0.12"/>
<path d="M95.3,95.4 C95.3,83.3 109.6,83.3 109.6,145.5" fill="none" stroke="url(#sg3)" stroke-width="0.69" opacity="0.36"/>
<path d="M105.1,101.6 C105.1,92.2 100.7,92.2 100.7,134.5" fill="none" stroke="url(#sg1)" stroke-width="0.77" opacity="0.21"/>
<path d="M117.5,96.0 C117.5,81.4 109.9,81.4 109.9,124.7" fill="none" stroke="url(#sg1)" stroke-width="0.49" opacity="0.14"/>
<path d="M102.5,96.3 C102.5,91.9 102.1,91.9 102.1,140.6" fill="none" stroke="url(#sg1)" stroke-width="0.62" opacity="0.14"/>
<path d="M95.5,88.6 C95.5,80.1 108.3,80.1 108.3,121.9" fill="none" stroke="url(#sg2)" stroke-width="0.34" opacity="0.14"/>
<path d="M109.8,98.9 C109.8,84.0 106.0,84.0 106.0,122.9" fill="none" stroke="url(#sg4)" stroke-width="0.66" opacity="0.31"/>
<path d="M100.3,100.0 C100.3,85.0 116.0,85.0 116.0,139.9" fill="none" stroke="url(#sg1)" stroke-width="0.34" opacity="0.16"/>
<path d="M103.3,100.4 C103.3,86.8 80.3,86.8 80.3,128.4" fill="none" stroke="url(#sg2)" stroke-width="0.87" opacity="0.17"/>
<path d="M94.0,91.5 C94.0,78.8 120.9,78.8 120.9,116.7" fill="none" stroke="url(#sg5)" stroke-width="0.57" opacity="0.22"/>
<path d="M108.5,101.3 C108.5,93.1 126.9,93.1 126.9,168.1" fill="none" stroke="url(#sg0)" stroke-width="0.37" opacity="0.20"/>
<path d="M101.2,103.8 C101.2,90.0 116.0,90.0 116.0,145.3" fill="none" stroke="url(#sg3)" stroke-width="0.76" opacity="0.26"/>
<path d="M101.7,102.0 C101.7,88.9 120.0,88.9 120.0,122.3" fill="none" stroke="url(#sg5)" stroke-width="0.60" opacity="0.16"/>
<path d="M95.4,97.6 C95.4,84.1 120.4,84.1 120.4,129.1" fill="none" stroke="url(#sg4)" stroke-width="0.58" opacity="0.28"/>
<path d="M93.8,109.4 C93.8,105.1 128.8,105.1 128.8,120.2" fill="none" stroke="url(#sg4)" stroke-width="0.54" opacity="0.13"/>
<path d="M110.6,104.8 C110.6,98.2 71.8,98.2 71.8,118.4" fill="none" stroke="url(#sg0)" stroke-width="0.31" opacity="0.23"/>
<path d="M99.7,102.6 C99.7,96.6 154.1,96.6 154.1,112.0" fill="none" stroke="url(#sg0)" stroke-width="0.50" opacity="0.34"/>
<path d="M100.1,96.2 C100.1,83.3 111.1,83.3 111.1,144.0" fill="none" stroke="url(#sg1)" stroke-width="0.51" opacity="0.35"/>
<path d="M97.9,95.5 C97.9,80.6 73.3,80.6 73.3,142.6" fill="none" stroke="url(#sg1)" stroke-width="0.71" opacity="0.28"/>
<path d="M96.9,95.2 C96.9,84.5 114.0,84.5 114.0,165.0" fill="none" stroke="url(#sg2)" stroke-width="0.76" opacity="0.36"/>
<path d="M114.7,97.9 C114.7,86.3 88.2,86.3 88.2,133.8" fill="none" stroke="url(#sg5)" stroke-width="0.71" opacity="0.21"/>
<path d="M80.4,99.2 C80.4,89.0 74.7,89.0 74.7,143.8" fill="none" stroke="url(#sg3)" stroke-width="0.71" opacity="0.29"/>
<path d="M109.8,97.8 C109.8,89.9 71.7,89.9 71.7,162.2" fill="none" stroke="url(#sg5)" stroke-width="0.59" opacity="0.29"/>
<path d="M101.0,103.2 C101.0,98.2 100.9,98.2 100.9,170.1" fill="none" stroke="url(#sg0)" stroke-width="0.44" opacity="0.34"/>
<path d="M95.7,94.8 C95.7,84.1 114.2,84.1 114.2,165.8" fill="none" stroke="url(#sg0)" stroke-width="0.59" opacity="0.25"/>
<path d="M109.4,95.0 C109.4,86.9 105.1,86.9 105.1,126.6" fill="none" stroke="url(#sg1)" stroke-width="0.69" opacity="0.30"/>
<path d="M105.8,101.1 C105.8,88.3 77.4,88.3 77.4,150.7" fill="none" stroke="url(#sg2)" stroke-width="0.79" opacity="0.33"/>
<path d="M106.4,95.9 C106.4,88.9 125.5,88.9 125.5,119.3" fill="none" stroke="url(#sg0)" stroke-width="0.87" opacity="0.29"/>
<path d="M105.6,91.3 C105.6,77.0 55.1,77.0 55.1,151.2" fill="none" stroke="url(#sg5)" stroke-width="0.40" opacity="0.19"/>
<path d="M97.1,101.0 C97.1,89.6 156.2,89.6 156.2,126.4" fill="none" stroke="url(#sg2)" stroke-width="0.89" opacity="0.28"/>
<path d="M114.4,103.6 C114.4,90.2 146.9,90.2 146.9,111.7" fill="none" stroke="url(#sg0)" stroke-width="0.64" opacity="0.37"/>
<path d="M93.2,99.2 C93.2,91.0 60.5,91.0 60.5,148.9" fill="none" stroke="url(#sg0)" stroke-width="0.83" opacity="0.25"/>
<path d="M102.1,100.7 C102.1,91.5 131.9,91.5 131.9,147.6" fill="none" stroke="url(#sg3)" stroke-width="0.46" opacity="0.17"/>
<path d="M93.7,90.2 C93.7,82.2 120.0,82.2 120.0,149.5" fill="none" stroke="url(#sg0)" stroke-width="0.85" opacity="0.20"/>
<path d="M99.0,101.8 C99.0,91.5 91.1,91.5 91.1,157.5" fill="none" stroke="url(#sg3)" stroke-width="0.34" opacity="0.15"/>
<path d="M99.9,95.7 C99.9,80.6 102.8,80.6 102.8,156.4" fill="none" stroke="url(#sg2)" stroke-width="0.44" opacity="0.21"/>
<path d="M111.9,100.2 C111.9,89.9 101.1,89.9 101.1,112.5" fill="none" stroke="url(#sg5)" stroke-width="0.62" opacity="0.18"/>
<path d="M92.7,101.0 C92.7,92.0 75.4,92.0 75.4,113.1" fill="none" stroke="url(#sg5)" stroke-width="0.63" opacity="0.29"/>
<path d="M94.8,85.7 C94.8,75.4 177.9,75.4 177.9,124.1" fill="none" stroke="url(#sg1)" stroke-width="0.41" opacity="0.38"/>
<path d="M113.7,108.6 C113.7,95.2 74.3,95.2 74.3,147.4" fill="none" stroke="url(#sg4)" stroke-width="0.74" opacity="0.20"/>
<path d="M88.6,94.9 C88.6,89.6 111.5,89.6 111.5,153.2" fill="none" stroke="url(#sg3)" stroke-width="0.42" opacity="0.19"/>
<path d="M102.4,98.9 C102.4,89.3 116.3,89.3 116.3,165.9" fill="none" stroke="url(#sg4)" stroke-width="0.56" opacity="0.15"/>
<path d="M108.9,94.2 C108.9,82.1 64.1,82.1 64.1,155.6" fill="none" stroke="url(#sg4)" stroke-width="0.55" opacity="0.14"/>
<path d="M103.4,104.2 C103.4,95.4 135.8,95.4 135.8,144.1" fill="none" stroke="url(#sg3)" stroke-width="0.34" opacity="0.22"/>
<path d="M103.9,101.8 C103.9,90.7 89.3,90.7 89.3,169.0" fill="none" stroke="url(#sg2)" stroke-width="0.86" opacity="0.29"/>
<path d="M121.8,100.0 C121.8,87.4 72.7,87.4 72.7,129.5" fill="none" stroke="url(#sg4)" stroke-width="0.55" opacity="0.22"/>
<path d="M98.0,97.9 C98.0,89.5 127.1,89.5 127.1,158.6" fill="none" stroke="url(#sg3)" stroke-width="0.42" opacity="0.23"/>
<path d="M123.1,100.2 C123.1,88.7 68.1,88.7 68.1,121.5" fill="none" stroke="url(#sg0)" stroke-width="0.57" opacity="0.24"/>
<path d="M95.4,107.8 C95.4,94.3 134.8,94.3 134.8,132.1" fill="none" stroke="url(#sg3)" stroke-width="0.83" opacity="0.14"/>
<path d="M104.8,104.4 C104.8,93.2 47.1,93.2 47.1,122.5" fill="none" stroke="url(#sg5)" stroke-width="0.57" opacity="0.18"/>
<path d="M115.9,93.5 C115.9,82.7 91.4,82.7 91.4,113.4" fill="none" stroke="url(#sg3)" stroke-width="0.31" opacity="0.23"/>
<path d="M102.2,104.5 C102.2,97.9 75.9,97.9 75.9,157.0" fill="none" stroke="url(#sg3)" stroke-width="0.48" opacity="0.37"/>
<path d="M92.3,101.6 C92.3,89.8 105.4,89.8 105.4,139.9" fill="none" stroke="url(#sg0)" stroke-width="0.65" opacity="0.31"/>
<path d="M102.7,93.7 C102.7,86.7 114.0,86.7 114.0,156.7" fill="none" stroke="url(#sg5)" stroke-width="0.71" opacity="0.23"/>
<path d="M104.9,92.7 C104.9,82.6 110.5,82.6 110.5,156.2" fill="none" stroke="url(#sg0)" stroke-width="0.46" opacity="0.27"/>
<path d="M97.0,99.1 C97.0,87.6 72.8,87.6 72.8,141.8" fill="none" stroke="url(#sg3)" stroke-width="0.70" opacity="0.20"/>
<path d="M93.2,95.5 C93.2,85.1 119.0,85.1 119.0,117.3" fill="none" stroke="url(#sg3)" stroke-width="0.64" opacity="0.37"/>
<path d="M103.2,97.4 C103.2,89.8 81.3,89.8 81.3,130.6" fill="none" stroke="url(#sg5)" stroke-width="0.40" opacity="0.21"/>
<path d="M118.3,94.8 C118.3,84.3 117.9,84.3 117.9,117.4" fill="none" stroke="url(#sg3)" stroke-width="0.69" opacity="0.16"/>
<path d="M119.2,92.3 C119.2,85.3 85.6,85.3 85.6,127.9" fill="none" stroke="url(#sg1)" stroke-width="0.32" opacity="0.36"/>
<path d="M101.2,100.4 C101.2,89.4 100.5,89.4 100.5,120.2" fill="none" stroke="url(#sg5)" stroke-width="0.79" opacity="0.34"/>
<path d="M98.5,93.1 C98.5,85.0 107.6,85.0 107.6,121.5" fill="none" stroke="url(#sg1)" stroke-width="0.81" opacity="0.30"/>
<path d="M93.6,98.9 C93.6,88.3 119.9,88.3 119.9,126.0" fill="none" stroke="url(#sg4)" stroke-width="0.67" opacity="0.16"/>
<path d="M101.0,92.2 C101.0,77.2 138.1,77.2 138.1,136.2" fill="none" stroke="url(#sg5)" stroke-width="0.76" opacity="0.24"/>
<path d="M93.1,104.6 C93.1,96.8 134.3,96.8 134.3,146.7" fill="none" stroke="url(#sg1)" stroke-width="0.59" opacity="0.14"/>
<path d="M103.7,98.8 C103.7,86.6 52.5,86.6 52.5,162.4" fill="none" stroke="url(#sg4)" stroke-width="0.31" opacity="0.20"/>
<path d="M103.9,94.4 C103.9,84.0 44.6,84.0 44.6,146.0" fill="none" stroke="url(#sg3)" stroke-width="0.34" opacity="0.15"/>
<path d="M105.0,98.2 C105.0,85.8 161.2,85.8 161.2,119.3" fill="none" stroke="url(#sg2)" stroke-width="0.33" opacity="0.32"/>
<path d="M110.5,99.4 C110.5,95.3 158.8,95.3 158.8,122.1" fill="none" stroke="url(#sg2)" stroke-width="0.48" opacity="0.12"/>
<path d="M110.8,100.1 C110.8,95.0 81.4,95.0 81.4,119.0" fill="none" stroke="url(#sg5)" stroke-width="0.61" opacity="0.20"/>
<path d="M103.4,93.4 C103.4,81.5 125.0,81.5 125.0,164.8" fill="none" stroke="url(#sg5)" stroke-width="0.73" opacity="0.18"/>
<path d="M94.3,94.1 C94.3,78.1 119.9,78.1 119.9,125.0" fill="none" stroke="url(#sg1)" stroke-width="0.47" opacity="0.20"/>
<path d="M101.3,98.1 C101.3,88.6 122.2,88.6 122.2,133.1" fill="none" stroke="url(#sg4)" stroke-width="0.41" opacity="0.35"/>
<path d="M90.0,98.8 C90.0,90.1 134.1,90.1 134.1,152.3" fill="none" stroke="url(#sg4)" stroke-width="0.44" opacity="0.27"/>
<path d="M107.6,97.1 C107.6,91.8 66.4,91.8 66.4,149.9" fill="none" stroke="url(#sg4)" stroke-width="0.88" opacity="0.26"/>
<path d="M102.2,86.9 C102.2,82.0 75.1,82.0 75.1,163.2" fill="none" stroke="url(#sg0)" stroke-width="0.31" opacity="0.16"/>
<path d="M99.9,97.5 C99.9,86.8 94.4,86.8 94.4,132.9" fill="none" stroke="url(#sg3)" stroke-width="0.65" opacity="0.26"/>
<path d="M108.4,98.9 C108.4,88.9 159.2,88.9 159.2,112.4" fill="none" stroke="url(#sg3)" stroke-width="0.69" opacity="0.33"/>
<path d="M115.2,96.4 C115.2,92.2 79.2,92.2 79.2,171.3" fill="none" stroke="url(#sg5)" stroke-width="0.69" opacity="0.18"/>
<path d="M110.5,103.9 C110.5,98.7 160.7,98.7 160.7,129.4" fill="none" stroke="url(#sg5)" stroke-width="0.41" opacity="0.17"/>
<path d="M104.0,101.4 C104.0,93.2 93.9,93.2 93.9,159.0" fill="none" stroke="url(#sg5)" stroke-width="0.78" opacity="0.16"/>
<path d="M105.4,89.1 C105.4,81.2 108.6,81.2 108.6,118.5" fill="none" stroke="url(#sg2)" stroke-width="0.84" opacity="0.31"/>
<path d="M103.9,99.3 C103.9,87.1 121.0,87.1 121.0,128.5" fill="none" stroke="url(#sg4)" stroke-width="0.48" opacity="0.35"/>
<path d="M94.8,94.0 C94.8,89.5 86.2,89.5 86.2,149.5" fill="none" stroke="url(#sg4)" stroke-width="0.47" opacity="0.36"/>
<path d="M108.9,100.0 C108.9,93.2 132.6,93.2 132.6,151.2" fill="none" stroke="url(#sg2)" stroke-width="0.86" opacity="0.29"/>
<path d="M99.5,94.5 C99.5,89.0 135.0,89.0 135.0,108.5" fill="none" stroke="url(#sg2)" stroke-width="0.33" opacity="0.13"/>
<path d="M109.5,91.6 C109.5,85.4 83.8,85.4 83.8,117.5" fill="none" stroke="url(#sg4)" stroke-width="0.31" opacity="0.29"/>
<path d="M95.4,95.9 C95.4,86.1 62.1,86.1 62.1,149.2" fill="none" stroke="url(#sg0)" stroke-width="0.35" opacity="0.34"/>
<path d="M104.4,102.1 C104.4,89.1 128.8,89.1 128.8,137.9" fill="none" stroke="url(#sg2)" stroke-width="0.73" opacity="0.13"/>
<path d="M106.6,100.9 C106.6,96.5 64.4,96.5 64.4,160.8" fill="none" stroke="url(#sg0)" stroke-width="0.44" opacity="0.29"/>
<path d="M115.5,92.5 C115.5,78.8 140.9,78.8 140.9,116.9" fill="none" stroke="url(#sg4)" stroke-width="0.37" opacity="0.19"/>
<path d="M107.3,100.2 C107.3,89.8 124.3,89.8 124.3,149.0" fill="none" stroke="url(#sg3)" stroke-width="0.55" opacity="0.22"/>
<path d="M103.9,99.2 C103.9,91.6 125.0,91.6 125.0,155.8" fill="none" stroke="url(#sg4)" stroke-width="0.32" opacity="0.33"/>
<path d="M101.0,102.2 C101.0,90.2 91.1,90.2 91.1,162.5" fill="none" stroke="url(#sg1)" stroke-width="0.53" opacity="0.30"/>
<path d="M114.3,102.2 C114.3,94.7 66.9,94.7 66.9,166.1" fill="none" stroke="url(#sg0)" stroke-width="0.72" opacity="0.36"/>
<path d="M87.7,103.9 C87.7,90.7 113.5,90.7 113.5,119.9" fill="none" stroke="url(#sg0)" stroke-width="0.63" opacity="0.15"/>
<path d="M110.7,96.7 C110.7,82.1 58.9,82.1 58.9,145.8" fill="none" stroke="url(#sg2)" stroke-width="0.90" opacity="0.34"/>
<path d="M108.4,98.5 C108.4,89.6 63.7,89.6 63.7,150.0" fill="none" stroke="url(#sg4)" stroke-width="0.35" opacity="0.32"/>
<path d="M94.2,101.6 C94.2,92.9 84.5,92.9 84.5,145.0" fill="none" stroke="url(#sg2)" stroke-width="0.57" opacity="0.34"/>
<path d="M112.5,101.9 C112.5,95.5 103.3,95.5 103.3,152.4" fill="none" stroke="url(#sg4)" stroke-width="0.66" opacity="0.31"/>
<path d="M97.6,93.8 C97.6,82.1 171.1,82.1 171.1,115.4" fill="none" stroke="url(#sg3)" stroke-width="0.89" opacity="0.29"/>
<path d="M109.3,92.6 C109.3,78.4 158.4,78.4 158.4,122.9" fill="none" stroke="url(#sg5)" stroke-width="0.55" opacity="0.20"/>
<path d="M96.7,105.1 C96.7,95.5 112.7,95.5 112.7,133.4" fill="none" stroke="url(#sg5)" stroke-width="0.67" opacity="0.36"/>
<path d="M82.1,94.1 C82.1,85.0 55.2,85.0 55.2,116.0" fill="none" stroke="url(#sg1)" stroke-width="0.63" opacity="0.17"/>
<path d="M93.9,103.5 C93.9,95.0 74.1,95.0 74.1,151.1" fill="none" stroke="url(#sg0)" stroke-width="0.38" opacity="0.30"/>
<path d="M110.7,103.9 C110.7,99.2 104.9,99.2 104.9,137.2" fill="none" stroke="url(#sg5)" stroke-width="0.32" opacity="0.18"/>
<path d="M106.1,102.8 C106.1,88.9 112.9,88.9 112.9,142.0" fill="none" stroke="url(#sg2)" stroke-width="0.85" opacity="0.22"/>
</g>
<ellipse cx="102" cy="102" rx="24" ry="16" fill="url(#core)"/>
<rect x="80.4" y="87.9" width="1.3" height="1.1" fill="#f0a030" opacity="0.86"/>
<rect x="66.4" y="99.0" width="1.5" height="1.0" fill="#f0a030" opacity="0.96"/>
<rect x="121.0" y="114.3" width="0.9" height="0.6" fill="#ff9a20" opacity="0.70"/>
<rect x="101.6" y="89.8" width="1.5" height="1.0" fill="#ff9a20" opacity="0.66"/>
<rect x="107.2" y="96.7" width="1.0" height="0.6" fill="#e83020" opacity="0.99"/>
<rect x="138.5" y="104.8" width="1.5" height="0.7" fill="#ff9a20" opacity="0.98"/>
<rect x="74.8" y="98.9" width="0.7" height="1.2" fill="#ff9a20" opacity="0.68"/>
<rect x="123.2" y="101.0" width="0.9" height="0.6" fill="#ffb020" opacity="0.66"/>
<rect x="119.5" y="108.7" width="1.1" height="0.9" fill="#e83020" opacity="0.88"/>
<rect x="121.2" y="109.3" width="1.0" height="0.7" fill="#ffcc40" opacity="0.79"/>
<rect x="102.1" y="99.4" width="1.5" height="0.8" fill="#ffb020" opacity="0.76"/>
<rect x="84.1" y="99.6" width="1.1" height="0.5" fill="#ff7020" opacity="0.62"/>
<rect x="125.0" y="135.7" width="0.6" height="0.7" fill="#ff9a20" opacity="0.93"/>
<rect x="80.7" y="107.9" width="0.8" height="0.8" fill="#e83020" opacity="0.84"/>
<rect x="107.7" y="90.9" width="0.5" height="1.2" fill="#ffcc40" opacity="0.64"/>
<rect x="89.2" y="120.2" width="0.9" height="1.1" fill="#ff9a20" opacity="0.82"/>
<rect x="97.3" y="115.3" width="1.4" height="0.9" fill="#ff9a20" opacity="0.89"/>
<rect x="95.6" y="119.0" width="0.6" height="1.2" fill="#d02828" opacity="0.81"/>
<rect x="91.8" y="109.7" width="0.9" height="0.7" fill="#e83020" opacity="0.86"/>
<rect x="137.9" y="134.9" width="0.5" height="0.8" fill="#d02828" opacity="0.94"/>
<rect x="126.1" y="120.6" width="1.2" height="1.1" fill="#ff9a20" opacity="0.64"/>
<rect x="93.6" y="107.2" width="1.0" height="0.6" fill="#f0a030" opacity="0.97"/>
<rect x="95.1" y="98.1" width="1.0" height="0.8" fill="#e83020" opacity="0.89"/>
<rect x="87.6" y="105.5" width="1.5" height="0.6" fill="#ff7020" opacity="0.93"/>
<rect x="91.7" y="102.3" width="1.5" height="0.6" fill="#ff7020" opacity="0.80"/>
<rect x="78.9" y="102.3" width="0.9" height="1.1" fill="#e83020" opacity="0.91"/>
<rect x="93.9" y="84.6" width="0.8" height="0.9" fill="#f0a030" opacity="0.87"/>
<rect x="112.0" y="94.6" width="1.3" height="1.2" fill="#d02828" opacity="0.74"/>
<rect x="120.9" y="128.7" width="1.1" height="0.7" fill="#ff7020" opacity="0.87"/>
<rect x="68.2" y="110.0" width="1.2" height="0.7" fill="#d02828" opacity="0.71"/>
<rect x="77.4" y="131.2" width="0.9" height="1.1" fill="#ff7020" opacity="0.95"/>
<rect x="83.3" y="68.6" width="1.1" height="0.9" fill="#ffcc40" opacity="0.67"/>
<rect x="73.6" y="107.1" width="1.2" height="0.8" fill="#d02828" opacity="0.85"/>
<rect x="126.2" y="97.4" width="0.8" height="0.9" fill="#ff7020" opacity="0.95"/>
<rect x="95.4" y="150.1" width="0.7" height="0.8" fill="#ff9a20" opacity="0.86"/>
<rect x="109.9" y="124.9" width="1.3" height="1.2" fill="#d02828" opacity="0.99"/>
<rect x="125.3" y="129.5" width="0.8" height="0.6" fill="#ffb020" opacity="0.68"/>
<rect x="125.8" y="107.5" width="1.2" height="0.6" fill="#ff7020" opacity="0.68"/>
<rect x="100.1" y="90.7" width="0.9" height="0.7" fill="#ffcc40" opacity="0.76"/>
<rect x="132.3" y="121.5" width="1.6" height="0.9" fill="#ffcc40" opacity="0.72"/>
<rect x="97.3" y="120.1" width="0.8" height="0.7" fill="#e83020" opacity="0.65"/>
<rect x="82.3" y="113.7" width="0.9" height="0.6" fill="#e83020" opacity="0.84"/>
<rect x="57.8" y="90.3" width="1.2" height="0.7" fill="#ff9a20" opacity="0.96"/>
<rect x="113.6" y="104.0" width="1.5" height="0.9" fill="#e83020" opacity="0.73"/>
<rect x="122.4" y="91.4" width="1.0" height="0.7" fill="#ff7020" opacity="0.72"/>
<rect x="123.3" y="101.6" width="1.5" height="0.9" fill="#f0a030" opacity="0.70"/>
<rect x="127.3" y="102.0" width="0.5" height="1.2" fill="#ff7020" opacity="0.72"/>
<rect x="114.1" y="100.7" width="0.6" height="0.9" fill="#ffb020" opacity="0.78"/>
<rect x="94.7" y="127.5" width="0.9" height="0.8" fill="#f0a030" opacity="0.82"/>
<rect x="104.9" y="119.9" width="0.8" height="0.7" fill="#ffb020" opacity="0.66"/>
<rect x="120.6" y="103.2" width="1.6" height="0.9" fill="#e83020" opacity="0.95"/>
<rect x="114.3" y="104.7" width="1.1" height="0.7" fill="#ffcc40" opacity="0.72"/>
<rect x="82.0" y="101.1" width="1.2" height="1.1" fill="#ffcc40" opacity="0.65"/>
<rect x="129.4" y="104.3" width="1.5" height="1.1" fill="#d02828" opacity="0.82"/>
<rect x="138.6" y="106.2" width="1.2" height="1.0" fill="#ff7020" opacity="0.98"/>
<rect x="80.5" y="81.7" width="0.9" height="0.8" fill="#f0a030" opacity="0.94"/>
<rect x="109.5" y="115.1" width="1.3" height="0.7" fill="#f0a030" opacity="0.60"/>
<rect x="108.8" y="85.8" width="1.4" height="1.1" fill="#d02828" opacity="0.66"/>
<rect x="79.0" y="106.4" width="1.6" height="0.9" fill="#ff7020" opacity="0.77"/>
<rect x="97.9" y="102.9" width="0.8" height="1.1" fill="#d02828" opacity="0.92"/>
<rect x="101.6" y="101.3" width="1.0" height="0.5" fill="#d02828" opacity="0.76"/>
<rect x="93.8" y="104.6" width="0.7" height="1.0" fill="#ffb020" opacity="0.98"/>
<rect x="101.5" y="96.7" width="1.3" height="0.8" fill="#ffcc40" opacity="0.67"/>
<rect x="118.2" y="127.1" width="1.2" height="0.5" fill="#ffb020" opacity="0.64"/>
<rect x="98.4" y="107.7" width="1.1" height="0.6" fill="#ffb020" opacity="0.76"/>
<rect x="102.0" y="102.6" width="0.8" height="0.9" fill="#ffb020" opacity="0.80"/>
<rect x="121.9" y="98.9" width="0.7" height="0.7" fill="#ffb020" opacity="0.83"/>
<rect x="96.8" y="93.6" width="1.1" height="0.7" fill="#e83020" opacity="0.63"/>
<rect x="107.4" y="130.4" width="1.1" height="0.6" fill="#ffcc40" opacity="0.69"/>
<rect x="81.5" y="120.6" width="0.6" height="0.5" fill="#ff9a20" opacity="0.74"/>
<rect x="99.2" y="102.3" width="0.6" height="0.9" fill="#f0a030" opacity="0.70"/>
<rect x="120.4" y="92.8" width="0.6" height="0.9" fill="#ffcc40" opacity="0.82"/>
<rect x="74.9" y="122.0" width="1.2" height="0.7" fill="#ff7020" opacity="0.65"/>
<rect x="133.1" y="100.5" width="0.7" height="1.0" fill="#f0a030" opacity="0.75"/>
<rect x="112.5" y="94.1" width="1.3" height="1.1" fill="#e83020" opacity="0.75"/>
<rect x="100.8" y="91.0" width="1.4" height="0.8" fill="#ffcc40" opacity="0.94"/>
<rect x="77.4" y="101.9" width="0.7" height="0.6" fill="#e83020" opacity="0.63"/>
<rect x="116.5" y="106.1" width="0.5" height="1.1" fill="#ff9a20" opacity="0.79"/>
<rect x="104.0" y="103.6" width="0.8" height="1.2" fill="#ff7020" opacity="0.97"/>
<rect x="94.1" y="118.0" width="0.7" height="0.6" fill="#ff9a20" opacity="0.75"/>
<rect x="73.0" y="123.0" width="1.1" height="0.6" fill="#ff9a20" opacity="0.93"/>
<rect x="145.7" y="110.2" width="1.5" height="0.8" fill="#ffcc40" opacity="0.98"/>
<rect x="92.6" y="84.6" width="1.4" height="0.6" fill="#ff7020" opacity="0.91"/>
<rect x="94.1" y="117.8" width="1.3" height="0.6" fill="#ff9a20" opacity="0.68"/>
<rect x="118.3" y="105.6" width="1.2" height="1.1" fill="#ffb020" opacity="0.88"/>
<rect x="98.6" y="95.9" width="0.8" height="1.0" fill="#ffcc40" opacity="0.89"/>
<rect x="111.7" y="112.9" width="0.7" height="0.5" fill="#d02828" opacity="0.84"/>
<rect x="101.7" y="93.0" width="0.6" height="1.0" fill="#ff7020" opacity="0.76"/>
<rect x="128.2" y="108.9" width="1.1" height="0.7" fill="#f0a030" opacity="0.64"/>
<rect x="142.6" y="117.0" width="0.6" height="0.8" fill="#ff7020" opacity="0.87"/>
<rect x="89.5" y="91.1" width="0.6" height="0.7" fill="#f0a030" opacity="0.76"/>
<rect x="101.8" y="108.3" width="1.5" height="0.6" fill="#ffb020" opacity="0.88"/>
<rect x="95.8" y="97.0" width="0.6" height="0.7" fill="#ff9a20" opacity="0.64"/>
<rect x="60.5" y="95.8" width="0.6" height="1.0" fill="#e83020" opacity="0.85"/>
<rect x="86.5" y="108.8" width="1.1" height="0.8" fill="#ff7020" opacity="0.85"/>
<rect x="96.3" y="118.3" width="1.6" height="0.9" fill="#f0a030" opacity="0.66"/>
<rect x="69.4" y="106.6" width="1.4" height="0.7" fill="#ffcc40" opacity="0.65"/>
<rect x="117.0" y="109.2" width="1.4" height="1.2" fill="#ffb020" opacity="0.87"/>
<rect x="100.2" y="120.1" width="0.6" height="0.6" fill="#ff9a20" opacity="0.71"/>
<rect x="97.6" y="108.5" width="1.3" height="0.8" fill="#ff7020" opacity="0.91"/>
<rect x="120.4" y="104.0" width="0.6" height="0.5" fill="#f0a030" opacity="0.66"/>
<rect x="110.2" y="104.5" width="0.8" height="1.1" fill="#ff7020" opacity="0.75"/>
<rect x="109.0" y="107.8" width="0.7" height="0.8" fill="#ff9a20" opacity="0.73"/>
<rect x="128.4" y="107.7" width="1.1" height="0.5" fill="#d02828" opacity="0.62"/>
<rect x="116.9" y="113.6" width="0.8" height="1.2" fill="#f0a030" opacity="0.61"/>
<rect x="93.8" y="102.8" width="0.9" height="0.5" fill="#ff9a20" opacity="0.83"/>
<rect x="124.3" y="113.7" width="1.2" height="0.6" fill="#ff9a20" opacity="0.91"/>
<rect x="84.6" y="109.9" width="0.8" height="1.1" fill="#ffcc40" opacity="0.78"/>
<rect x="84.2" y="110.1" width="1.2" height="0.6" fill="#f0a030" opacity="0.79"/>
<rect x="102.9" y="104.0" width="1.4" height="0.8" fill="#ff9a20" opacity="0.62"/>
<rect x="109.1" y="103.5" width="0.8" height="1.0" fill="#e83020" opacity="0.74"/>
<rect x="90.9" y="106.1" width="0.7" height="0.9" fill="#f0a030" opacity="0.74"/>
<rect x="104.1" y="93.6" width="1.4" height="1.1" fill="#ffcc40" opacity="0.87"/>
<rect x="110.0" y="101.3" width="0.9" height="0.6" fill="#ff7020" opacity="0.93"/>
<rect x="98.5" y="104.2" width="0.9" height="1.0" fill="#ff9a20" opacity="0.71"/>
<rect x="135.4" y="92.1" width="0.9" height="1.0" fill="#f0a030" opacity="0.95"/>
<rect x="78.3" y="86.4" width="1.3" height="0.6" fill="#ff7020" opacity="0.84"/>
<rect x="77.4" y="86.3" width="0.8" height="0.5" fill="#ffb020" opacity="0.72"/>
<rect x="87.1" y="114.7" width="1.3" height="0.8" fill="#d02828" opacity="0.92"/>
<rect x="63.0" y="88.4" width="1.2" height="0.9" fill="#e83020" opacity="0.92"/>
<rect x="86.5" y="118.3" width="1.3" height="0.6" fill="#d02828" opacity="0.71"/>
<rect x="138.0" y="108.1" width="1.1" height="1.0" fill="#e83020" opacity="0.89"/>
<rect x="87.9" y="134.2" width="1.5" height="0.7" fill="#ffcc40" opacity="0.62"/>
<rect x="147.4" y="122.9" width="1.5" height="1.0" fill="#ffcc40" opacity="0.94"/>
<rect x="102.0" y="84.8" width="1.0" height="0.6" fill="#ff9a20" opacity="0.65"/>
<rect x="84.8" y="124.6" width="0.9" height="0.5" fill="#ff7020" opacity="0.76"/>
<rect x="116.7" y="122.3" width="1.5" height="0.9" fill="#ff9a20" opacity="0.75"/>
<rect x="127.7" y="117.5" width="1.3" height="1.2" fill="#e83020" opacity="0.70"/>
<rect x="117.5" y="110.9" width="0.8" height="0.9" fill="#f0a030" opacity="0.96"/>
<rect x="118.0" y="121.2" width="0.7" height="1.0" fill="#f0a030" opacity="0.83"/>
<rect x="84.0" y="89.7" width="1.3" height="0.8" fill="#e83020" opacity="0.77"/>
<rect x="61.3" y="98.5" width="1.0" height="0.6" fill="#ffcc40" opacity="0.96"/>
<rect x="93.8" y="116.8" width="0.6" height="0.9" fill="#ff9a20" opacity="0.84"/>
<rect x="109.2" y="112.3" width="0.6" height="1.1" fill="#e83020" opacity="0.73"/>
<rect x="147.8" y="119.9" width="1.4" height="1.2" fill="#ff9a20" opacity="0.73"/>
<rect x="121.0" y="87.7" width="1.5" height="0.9" fill="#ff9a20" opacity="0.92"/>
<rect x="104.6" y="103.3" width="0.7" height="0.6" fill="#d02828" opacity="0.66"/>
<rect x="97.0" y="99.6" width="1.0" height="0.7" fill="#f0a030" opacity="0.91"/>
<rect x="121.3" y="131.1" width="1.6" height="0.9" fill="#e83020" opacity="0.99"/>
<rect x="111.4" y="107.9" width="0.7" height="0.7" fill="#ffb020" opacity="0.67"/>
<rect x="150.0" y="77.7" width="0.6" height="0.8" fill="#f0a030" opacity="0.82"/>
<rect x="96.9" y="108.9" width="1.6" height="0.6" fill="#e83020" opacity="0.60"/>
<rect x="90.6" y="112.7" width="0.6" height="1.0" fill="#d02828" opacity="0.89"/>
<rect x="101.2" y="110.7" width="1.6" height="1.0" fill="#ff7020" opacity="0.68"/>
<rect x="97.9" y="110.4" width="1.2" height="1.0" fill="#ff7020" opacity="0.64"/>
<rect x="119.8" y="113.1" width="0.6" height="0.8" fill="#f0a030" opacity="0.69"/>
<rect x="119.8" y="103.0" width="0.6" height="0.7" fill="#d02828" opacity="0.64"/>
<rect x="46.8" y="109.7" width="1.4" height="1.1" fill="#e83020" opacity="0.70"/>
<rect x="94.0" y="106.2" width="0.5" height="1.0" fill="#ffb020" opacity="0.74"/>
<rect x="119.1" y="105.1" width="1.6" height="1.1" fill="#ff7020" opacity="0.63"/>
<rect x="116.9" y="102.4" width="1.0" height="0.8" fill="#f0a030" opacity="0.63"/>
<rect x="94.9" y="138.3" width="1.0" height="0.5" fill="#d02828" opacity="0.66"/>
<rect x="107.1" y="87.7" width="1.2" height="1.1" fill="#f0a030" opacity="0.86"/>
<rect x="100.4" y="101.1" width="1.0" height="1.0" fill="#ffb020" opacity="0.92"/>
<rect x="113.5" y="90.7" width="0.5" height="1.1" fill="#ff7020" opacity="0.67"/>
<rect x="95.0" y="114.1" width="1.0" height="1.2" fill="#ff9a20" opacity="1.00"/>
<rect x="108.3" y="118.3" width="0.7" height="0.8" fill="#ffcc40" opacity="0.60"/>
<rect x="81.1" y="86.2" width="1.0" height="0.6" fill="#f0a030" opacity="0.75"/>
<rect x="105.3" y="106.6" width="1.0" height="0.7" fill="#f0a030" opacity="0.78"/>
<rect x="96.1" y="105.1" width="1.5" height="0.5" fill="#ffcc40" opacity="0.67"/>
<rect x="89.8" y="108.8" width="1.2" height="0.7" fill="#f0a030" opacity="0.69"/>
<rect x="92.4" y="132.7" width="1.1" height="0.7" fill="#d02828" opacity="0.64"/>
<rect x="90.3" y="111.0" width="1.1" height="0.8" fill="#ff7020" opacity="0.95"/>
<rect x="114.7" y="102.3" width="1.1" height="1.0" fill="#ffb020" opacity="0.65"/>
<rect x="72.9" y="106.6" width="0.5" height="0.6" fill="#ffb020" opacity="0.69"/>
<rect x="100.9" y="94.0" width="0.6" height="0.9" fill="#ffcc40" opacity="0.62"/>
<rect x="90.1" y="112.5" width="1.1" height="0.8" fill="#ffb020" opacity="0.64"/>
<rect x="135.1" y="125.3" width="1.1" height="1.0" fill="#e83020" opacity="0.97"/>
<rect x="100.1" y="112.0" width="0.6" height="0.8" fill="#d02828" opacity="0.89"/>
<rect x="84.5" y="101.5" width="0.8" height="0.9" fill="#e83020" opacity="0.93"/>
<rect x="116.0" y="113.9" width="0.5" height="0.9" fill="#ff7020" opacity="0.83"/>
<rect x="135.8" y="110.0" width="0.9" height="0.6" fill="#ffb020" opacity="0.99"/>
<rect x="102.7" y="115.2" width="0.7" height="0.6" fill="#f0a030" opacity="0.70"/>
<rect x="119.1" y="105.7" width="1.2" height="0.7" fill="#ff9a20" opacity="0.71"/>
<rect x="119.3" y="93.5" width="0.7" height="0.6" fill="#f0a030" opacity="0.62"/>
<rect x="102.3" y="86.1" width="1.0" height="1.0" fill="#ffb020" opacity="0.84"/>
<rect x="90.7" y="86.0" width="1.1" height="0.6" fill="#ffb020" opacity="0.89"/>
<rect x="82.9" y="91.6" width="1.1" height="1.0" fill="#ff9a20" opacity="0.88"/>
<rect x="98.9" y="85.6" width="0.6" height="0.8" fill="#ffb020" opacity="0.86"/>
<rect x="128.9" y="90.0" width="1.6" height="1.0" fill="#ffb020" opacity="0.71"/>
<rect x="89.9" y="110.7" width="0.8" height="0.5" fill="#ff7020" opacity="0.90"/>
<rect x="61.1" y="101.0" width="0.9" height="1.0" fill="#ff7020" opacity="0.98"/>
<rect x="93.1" y="121.7" width="0.6" height="0.7" fill="#ff7020" opacity="0.63"/>
<rect x="79.1" y="112.8" width="0.9" height="0.6" fill="#d02828" opacity="0.97"/>
<rect x="115.4" y="118.5" width="0.9" height="0.5" fill="#e83020" opacity="0.77"/>
<rect x="82.2" y="97.6" width="1.1" height="1.0" fill="#ff9a20" opacity="0.77"/>
<rect x="112.1" y="78.0" width="1.2" height="0.6" fill="#ffcc40" opacity="0.77"/>
<rect x="117.7" y="90.1" width="1.2" height="0.9" fill="#ff7020" opacity="0.98"/>
<rect x="129.5" y="120.0" width="0.6" height="1.1" fill="#ffcc40" opacity="0.71"/>
<rect x="104.5" y="95.2" width="1.6" height="0.8" fill="#f0a030" opacity="0.85"/>
<rect x="101.5" y="93.3" width="1.4" height="1.1" fill="#ff7020" opacity="0.72"/>
<rect x="99.2" y="116.2" width="0.9" height="0.5" fill="#f0a030" opacity="0.63"/>
<rect x="112.6" y="105.5" width="1.5" height="0.9" fill="#d02828" opacity="0.64"/>
<rect x="91.6" y="109.0" width="1.5" height="0.9" fill="#ffb020" opacity="0.86"/>
<rect x="96.6" y="92.8" width="1.5" height="0.8" fill="#ffcc40" opacity="0.64"/>
<rect x="105.2" y="97.1" width="0.6" height="1.0" fill="#e83020" opacity="0.87"/>
<rect x="96.8" y="108.7" width="1.1" height="1.2" fill="#ffcc40" opacity="0.77"/>
<rect x="110.1" y="120.3" width="0.9" height="0.9" fill="#ff9a20" opacity="0.97"/>
<rect x="87.3" y="126.7" width="0.6" height="0.7" fill="#e83020" opacity="0.94"/>
<rect x="93.2" y="94.7" width="1.5" height="0.9" fill="#e83020" opacity="0.80"/>
<rect x="97.0" y="126.6" width="1.0" height="0.8" fill="#ffcc40" opacity="0.88"/>
<rect x="125.9" y="114.9" width="1.3" height="1.0" fill="#ff7020" opacity="0.64"/>
<rect x="114.7" y="103.9" width="1.2" height="1.0" fill="#ff9a20" opacity="0.70"/>
<rect x="74.7" y="108.7" width="1.3" height="0.6" fill="#f0a030" opacity="0.83"/>
<rect x="103.8" y="117.1" width="1.1" height="0.9" fill="#ffb020" opacity="0.68"/>
<rect x="130.0" y="106.7" width="1.2" height="0.8" fill="#ff7020" opacity="0.95"/>
<rect x="118.2" y="98.5" width="0.6" height="0.7" fill="#ffcc40" opacity="0.81"/>
<rect x="98.7" y="117.0" width="0.6" height="1.0" fill="#f0a030" opacity="0.90"/>
<rect x="103.9" y="103.4" width="0.8" height="1.1" fill="#ff9a20" opacity="0.86"/>
<rect x="70.5" y="116.7" width="1.0" height="1.1" fill="#d02828" opacity="0.81"/>
<rect x="89.6" y="122.9" width="1.4" height="0.6" fill="#f0a030" opacity="0.80"/>
<rect x="139.4" y="104.2" width="1.0" height="0.8" fill="#f0a030" opacity="0.69"/>
<rect x="157.3" y="104.5" width="0.7" height="1.2" fill="#d02828" opacity="0.94"/>
<rect x="106.8" y="130.2" width="0.6" height="0.8" fill="#d02828" opacity="0.95"/>
<rect x="76.6" y="79.1" width="1.2" height="0.9" fill="#ff9a20" opacity="0.90"/>
<rect x="82.6" y="103.6" width="0.7" height="0.6" fill="#ffcc40" opacity="0.82"/>
<rect x="69.7" y="96.0" width="1.3" height="0.5" fill="#f0a030" opacity="0.70"/>
<rect x="110.1" y="97.3" width="1.0" height="0.6" fill="#ffb020" opacity="0.68"/>
<rect x="123.7" y="129.9" width="1.0" height="0.7" fill="#f0a030" opacity="0.63"/>
<rect x="87.0" y="93.8" width="1.2" height="1.0" fill="#e83020" opacity="0.94"/>
<rect x="101.0" y="102.1" width="1.6" height="0.6" fill="#ff7020" opacity="0.63"/>
<rect x="99.1" y="109.4" width="1.5" height="0.6" fill="#ffcc40" opacity="0.76"/>
<rect x="110.8" y="105.0" width="1.3" height="0.8" fill="#ff9a20" opacity="0.67"/>
<rect x="144.6" y="95.4" width="0.7" height="0.6" fill="#d02828" opacity="0.96"/>
<rect x="134.6" y="132.5" width="1.0" height="1.0" fill="#ffcc40" opacity="0.88"/>
<rect x="134.8" y="91.6" width="1.4" height="1.1" fill="#ff7020" opacity="0.82"/>
<rect x="102.5" y="94.6" width="0.8" height="1.0" fill="#e83020" opacity="0.91"/>
<rect x="112.8" y="120.2" width="0.7" height="0.9" fill="#f0a030" opacity="0.88"/>
<rect x="70.4" y="114.5" width="0.8" height="0.5" fill="#d02828" opacity="0.66"/>
<rect x="95.6" y="107.0" width="1.3" height="0.8" fill="#ffb020" opacity="0.93"/>
<rect x="129.9" y="90.6" width="1.0" height="0.8" fill="#ffb020" opacity="1.00"/>
<rect x="100.7" y="90.7" width="0.8" height="0.9" fill="#ff7020" opacity="0.95"/>
<rect x="78.8" y="136.5" width="0.7" height="0.8" fill="#ff7020" opacity="0.78"/>
<rect x="110.4" y="94.9" width="0.6" height="0.9" fill="#ffcc40" opacity="0.91"/>
<rect x="95.7" y="104.6" width="1.2" height="0.6" fill="#d02828" opacity="0.89"/>
<rect x="89.3" y="110.8" width="1.3" height="0.5" fill="#f0a030" opacity="0.85"/>
<rect x="124.8" y="88.7" width="0.5" height="0.9" fill="#ffb020" opacity="0.79"/>
<rect x="93.3" y="106.8" width="1.2" height="0.9" fill="#ffcc40" opacity="0.99"/>
<rect x="63.0" y="101.0" width="0.6" height="0.7" fill="#f0a030" opacity="0.97"/>
<rect x="101.7" y="110.1" width="1.2" height="0.8" fill="#ffcc40" opacity="1.00"/>
<rect x="116.9" y="94.5" width="1.0" height="0.6" fill="#ffb020" opacity="0.94"/>
<rect x="89.7" y="122.8" width="1.3" height="1.2" fill="#ff7020" opacity="0.84"/>
<rect x="117.2" y="96.3" width="1.4" height="0.9" fill="#ff7020" opacity="0.74"/>
<rect x="65.4" y="102.8" width="1.5" height="0.8" fill="#e83020" opacity="0.68"/>
<rect x="97.7" y="71.6" width="0.6" height="0.8" fill="#ffb020" opacity="0.95"/>
<rect x="97.4" y="116.5" width="1.5" height="0.6" fill="#e83020" opacity="0.60"/>
<rect x="114.6" y="113.4" width="0.6" height="1.0" fill="#e83020" opacity="0.96"/>
<rect x="111.5" y="106.4" width="0.8" height="0.8" fill="#d02828" opacity="0.69"/>
<rect x="88.7" y="108.8" width="0.9" height="1.0" fill="#d02828" opacity="0.80"/>
<rect x="127.2" y="82.6" width="1.0" height="0.5" fill="#e83020" opacity="0.75"/>
<rect x="142.9" y="103.4" width="0.6" height="1.1" fill="#ffb020" opacity="0.75"/>
<rect x="114.1" y="71.3" width="0.9" height="1.1" fill="#ffb020" opacity="1.00"/>
<rect x="126.7" y="120.9" width="1.1" height="0.8" fill="#d02828" opacity="0.67"/>
<rect x="106.7" y="103.8" width="0.9" height="0.7" fill="#d02828" opacity="0.85"/>
<rect x="78.5" y="111.4" width="0.6" height="0.8" fill="#ff7020" opacity="0.68"/>
<rect x="111.1" y="117.4" width="1.0" height="0.9" fill="#d02828" opacity="0.80"/>
<rect x="97.7" y="115.9" width="0.9" height="1.1" fill="#e83020" opacity="0.61"/>
<rect x="105.7" y="107.4" width="1.1" height="0.5" fill="#ff7020" opacity="0.69"/>
<rect x="139.1" y="102.3" width="0.9" height="0.5" fill="#ff9a20" opacity="0.88"/>
<rect x="104.5" y="97.3" width="0.8" height="0.7" fill="#d02828" opacity="0.63"/>
<rect x="154.5" y="133.2" width="1.1" height="1.1" fill="#d02828" opacity="0.74"/>
<rect x="93.3" y="116.3" width="0.8" height="0.5" fill="#f0a030" opacity="0.67"/>
<rect x="99.6" y="88.0" width="1.3" height="0.8" fill="#ffb020" opacity="0.69"/>
<rect x="135.2" y="111.9" width="1.5" height="0.9" fill="#f0a030" opacity="0.75"/>
<rect x="89.4" y="98.9" width="1.3" height="0.5" fill="#ffb020" opacity="0.66"/>
<rect x="97.7" y="113.4" width="1.0" height="1.1" fill="#e83020" opacity="0.90"/>
<rect x="89.3" y="97.2" width="0.9" height="0.7" fill="#ff7020" opacity="0.69"/>
<rect x="118.3" y="88.4" width="0.7" height="0.5" fill="#ff7020" opacity="0.83"/>
<rect x="104.3" y="105.5" width="0.6" height="0.7" fill="#ffcc40" opacity="0.75"/>
<rect x="95.5" y="96.2" width="1.3" height="0.6" fill="#f0a030" opacity="0.97"/>
<rect x="123.7" y="116.7" width="1.4" height="0.9" fill="#d02828" opacity="0.69"/>
<rect x="88.1" y="108.5" width="0.6" height="0.6" fill="#ffcc40" opacity="0.79"/>
<rect x="95.4" y="102.2" width="1.2" height="0.9" fill="#d02828" opacity="0.98"/>
<rect x="107.4" y="103.9" width="1.1" height="0.9" fill="#ffb020" opacity="0.86"/>
<rect x="97.8" y="114.5" width="1.4" height="0.9" fill="#ff7020" opacity="0.73"/>
<rect x="112.7" y="120.6" width="0.7" height="0.6" fill="#d02828" opacity="0.97"/>
<rect x="127.3" y="106.1" width="1.1" height="0.6" fill="#ffcc40" opacity="0.89"/>
<rect x="97.6" y="129.8" width="0.6" height="0.7" fill="#ffcc40" opacity="0.88"/>
<rect x="101.1" y="102.0" width="1.5" height="1.1" fill="#ff9a20" opacity="0.75"/>
<rect x="106.7" y="99.1" width="1.0" height="0.6" fill="#ff7020" opacity="0.87"/>
<rect x="99.9" y="88.3" width="0.6" height="1.2" fill="#e83020" opacity="0.76"/>
<rect x="93.1" y="98.6" width="1.2" height="0.7" fill="#f0a030" opacity="0.87"/>
<rect x="85.3" y="118.3" width="1.2" height="0.6" fill="#e83020" opacity="0.75"/>
<rect x="122.1" y="79.5" width="1.1" height="1.0" fill="#ff9a20" opacity="0.86"/>
<rect x="160.4" y="130.5" width="6" height="2.2" rx="0.8" fill="#f08a20" transform="rotate(-18 160.4 130.5)"/>
<rect x="60" y="117" width="5" height="1.6" rx="0.8" fill="#f08a20" transform="rotate(-18 60 117)"/>
<rect x="127" y="92" width="5" height="1.5" rx="0.8" fill="#f08a20" transform="rotate(-18 127 92)"/>
<rect x="84" y="97" width="4" height="1.5" rx="0.8" fill="#f08a20" transform="rotate(-18 84 97)"/>
<rect x="86" y="127" width="4" height="1.5" rx="0.8" fill="#f08a20" transform="rotate(-18 86 127)"/>
<rect x="75" y="106" width="4" height="1.5" rx="0.8" fill="#f08a20" transform="rotate(-18 75 106)"/>
<circle cx="54" cy="133" r="0.9" fill="#e0206a"/>
<circle cx="193.5" cy="116.5" r="0.9" fill="#e0206a"/>
<circle cx="136.4" cy="64.2" r="0.9" fill="#e0206a"/>
<circle cx="48.5" cy="66" r="0.9" fill="#e0206a"/>
<circle cx="59.8" cy="60" r="0.9" fill="#e0206a"/>
<circle cx="124.5" cy="145.5" r="0.9" fill="#e0206a"/>
<circle cx="140" cy="150" r="0.9" fill="#e0206a"/>
<circle cx="41.5" cy="139.5" r="0.9" fill="#e0206a"/>
<circle cx="113.5" cy="173" r="0.9" fill="#e0206a"/>
<circle cx="75" cy="149" r="0.9" fill="#e0206a"/>
<circle cx="55" cy="164" r="0.9" fill="#e0206a"/>
<circle cx="75.5" cy="64" r="0.9" fill="#e0206a"/>
<rect x="44.7" y="131.7" width="3.6" height="0.6" fill="#d8d8d8" opacity="0.47"/>
<rect x="53.9" y="148.4" width="4.0" height="0.6" fill="#d8d8d8" opacity="0.48"/>
<rect x="15.6" y="80.1" width="3.5" height="0.6" fill="#d8d8d8" opacity="0.32"/>
<rect x="172.5" y="119.8" width="2.1" height="0.6" fill="#d8d8d8" opacity="0.42"/>
<rect x="42.9" y="152.4" width="2.3" height="0.6" fill="#d8d8d8" opacity="0.62"/>
<rect x="96.6" y="109.4" width="2.9" height="0.6" fill="#d8d8d8" opacity="0.47"/>
<rect x="119.5" y="138.2" width="2.3" height="0.6" fill="#d8d8d8" opacity="0.47"/>
<rect x="19.8" y="35.1" width="3.8" height="0.6" fill="#d8d8d8" opacity="0.65"/>
<rect x="104.3" y="99.6" width="3.4" height="0.6" fill="#d8d8d8" opacity="0.56"/>
<rect x="55.0" y="118.6" width="3.4" height="0.6" fill="#d8d8d8" opacity="0.52"/>
<rect x="47.5" y="47.6" width="2.9" height="0.6" fill="#d8d8d8" opacity="0.62"/>
<rect x="77.4" y="116.8" width="2.8" height="0.6" fill="#d8d8d8" opacity="0.34"/>
<rect x="26.8" y="151.8" width="3.9" height="0.6" fill="#d8d8d8" opacity="0.43"/>
<rect x="138.0" y="129.5" width="4.2" height="0.6" fill="#d8d8d8" opacity="0.64"/>
<rect x="88.3" y="180.2" width="4.4" height="0.6" fill="#d8d8d8" opacity="0.51"/>
<rect x="82.6" y="60.0" width="4.2" height="0.6" fill="#d8d8d8" opacity="0.36"/>
<rect x="27.5" y="150.5" width="3.9" height="0.6" fill="#d8d8d8" opacity="0.47"/>
<rect x="61.4" y="67.0" width="3.0" height="0.6" fill="#d8d8d8" opacity="0.36"/>
<rect x="27.5" y="74.8" width="4.2" height="0.6" fill="#d8d8d8" opacity="0.64"/>
<rect x="149.3" y="97.6" width="2.6" height="0.6" fill="#d8d8d8" opacity="0.64"/>
<rect x="109.6" y="138.0" width="2.1" height="0.6" fill="#d8d8d8" opacity="0.37"/>
<rect x="173.7" y="117.4" width="3.1" height="0.6" fill="#d8d8d8" opacity="0.50"/>
<rect x="111.2" y="64.7" width="3.9" height="0.6" fill="#d8d8d8" opacity="0.30"/>
<rect x="19.2" y="116.2" width="3.6" height="0.6" fill="#d8d8d8" opacity="0.60"/>
<rect x="120.2" y="61.7" width="3.0" height="0.6" fill="#d8d8d8" opacity="0.64"/>
<rect x="32.1" y="35.2" width="2.1" height="0.6" fill="#d8d8d8" opacity="0.46"/>
<rect x="40.3" y="160.5" width="3.6" height="0.6" fill="#d8d8d8" opacity="0.34"/>
<rect x="44.9" y="49.8" width="2.9" height="0.6" fill="#d8d8d8" opacity="0.55"/>
<rect x="16.4" y="95.1" width="2.2" height="0.6" fill="#d8d8d8" opacity="0.57"/>
<rect x="46.6" y="135.3" width="2.6" height="0.6" fill="#d8d8d8" opacity="0.54"/>
<rect x="85.0" y="70.1" width="4.3" height="0.6" fill="#d8d8d8" opacity="0.40"/>
<rect x="105.6" y="109.0" width="4.4" height="0.6" fill="#d8d8d8" opacity="0.33"/>
<rect x="123.2" y="102.3" width="3.8" height="0.6" fill="#d8d8d8" opacity="0.64"/>
<rect x="70.8" y="133.3" width="3.3" height="0.6" fill="#d8d8d8" opacity="0.50"/>
<rect x="26.5" y="152.0" width="4.4" height="0.6" fill="#d8d8d8" opacity="0.42"/>
<rect x="72.3" y="180.9" width="2.3" height="0.6" fill="#d8d8d8" opacity="0.33"/>
<rect x="28.2" y="151.9" width="3.9" height="0.6" fill="#d8d8d8" opacity="0.46"/>
<rect x="131.0" y="91.7" width="3.3" height="0.6" fill="#d8d8d8" opacity="0.44"/>
<rect x="23.8" y="90.3" width="2.6" height="0.6" fill="#d8d8d8" opacity="0.55"/>
<rect x="84.4" y="98.9" width="3.6" height="0.6" fill="#d8d8d8" opacity="0.64"/>
<rect x="30.4" y="97.7" width="3.2" height="0.6" fill="#d8d8d8" opacity="0.55"/>
<rect x="127.8" y="142.9" width="3.7" height="0.6" fill="#d8d8d8" opacity="0.60"/>
<rect x="140.8" y="130.6" width="2.6" height="0.6" fill="#d8d8d8" opacity="0.62"/>
<rect x="84.5" y="119.6" width="4.1" height="0.6" fill="#d8d8d8" opacity="0.64"/>
<rect x="71.3" y="70.5" width="3.0" height="0.6" fill="#d8d8d8" opacity="0.35"/>
<rect x="69.5" y="172.9" width="3.9" height="0.6" fill="#d8d8d8" opacity="0.46"/>
<rect x="34.5" y="174.9" width="3.8" height="0.6" fill="#d8d8d8" opacity="0.37"/>
<rect x="75.4" y="123.9" width="3.7" height="0.6" fill="#d8d8d8" opacity="0.39"/>
<rect x="60.8" y="157.0" width="2.4" height="0.6" fill="#d8d8d8" opacity="0.54"/>
<rect x="51.0" y="116.9" width="2.7" height="0.6" fill="#d8d8d8" opacity="0.43"/>
<rect x="93.6" y="120.0" width="2.7" height="0.6" fill="#d8d8d8" opacity="0.36"/>
<rect x="84.2" y="64.1" width="2.5" height="0.6" fill="#d8d8d8" opacity="0.64"/>
<rect x="21.2" y="151.3" width="4.3" height="0.6" fill="#d8d8d8" opacity="0.55"/>
<rect x="18.4" y="101.2" width="2.1" height="0.6" fill="#d8d8d8" opacity="0.51"/>
<rect x="16.4" y="108.2" width="2.2" height="0.6" fill="#d8d8d8" opacity="0.41"/>
<rect x="96.7" y="164.9" width="2.9" height="0.6" fill="#d8d8d8" opacity="0.35"/>
<rect x="48.8" y="85.3" width="3.4" height="0.6" fill="#d8d8d8" opacity="0.38"/>
<rect x="18.2" y="114.3" width="2.2" height="0.6" fill="#d8d8d8" opacity="0.61"/>
<rect x="161.7" y="118.3" width="3.6" height="0.6" fill="#d8d8d8" opacity="0.46"/>
<rect x="63.6" y="77.2" width="2.7" height="0.6" fill="#d8d8d8" opacity="0.52"/>
<rect x="27.2" y="102.9" width="3.7" height="0.6" fill="#d8d8d8" opacity="0.37"/>
<rect x="21.7" y="100.2" width="3.7" height="0.6" fill="#d8d8d8" opacity="0.53"/>
<rect x="43.5" y="36.9" width="4.3" height="0.6" fill="#d8d8d8" opacity="0.49"/>
<rect x="88.5" y="131.9" width="3.8" height="0.6" fill="#d8d8d8" opacity="0.48"/>
<rect x="29.1" y="154.0" width="2.5" height="0.6" fill="#d8d8d8" opacity="0.31"/>
<rect x="78.4" y="106.3" width="3.6" height="0.6" fill="#d8d8d8" opacity="0.36"/>
<rect x="142.7" y="100.0" width="2.4" height="0.6" fill="#d8d8d8" opacity="0.60"/>
<rect x="111.0" y="167.2" width="4.4" height="0.6" fill="#d8d8d8" opacity="0.44"/>
<rect x="78.3" y="119.4" width="3.5" height="0.6" fill="#d8d8d8" opacity="0.56"/>
<rect x="29.9" y="85.7" width="2.4" height="0.6" fill="#d8d8d8" opacity="0.49"/>
<rect x="91.1" y="114.0" width="2.1" height="0.6" fill="#d8d8d8" opacity="0.53"/>
<rect x="53.0" y="37.3" width="4.3" height="0.6" fill="#d8d8d8" opacity="0.48"/>
<rect x="91.4" y="123.8" width="3.9" height="0.6" fill="#d8d8d8" opacity="0.56"/>
<rect x="132.1" y="61.0" width="3.1" height="0.6" fill="#d8d8d8" opacity="0.43"/>
<rect x="103.1" y="63.0" width="3.3" height="0.6" fill="#d8d8d8" opacity="0.46"/>
<rect x="21.4" y="153.3" width="3.5" height="0.6" fill="#d8d8d8" opacity="0.58"/>
<rect x="147.6" y="138.4" width="4.5" height="0.6" fill="#d8d8d8" opacity="0.43"/>
<rect x="134.6" y="114.2" width="3.4" height="0.6" fill="#d8d8d8" opacity="0.65"/>
<rect x="81.7" y="153.9" width="3.2" height="0.6" fill="#d8d8d8" opacity="0.46"/>
<rect x="85.1" y="121.8" width="3.5" height="0.6" fill="#d8d8d8" opacity="0.54"/>
<rect x="82.5" y="60.6" width="4.0" height="0.6" fill="#d8d8d8" opacity="0.58"/>
<rect x="54.3" y="53.5" width="3.2" height="0.6" fill="#d8d8d8" opacity="0.55"/>
<rect x="54.2" y="131.2" width="2.8" height="0.6" fill="#d8d8d8" opacity="0.53"/>
<rect x="81.3" y="51.3" width="2.4" height="0.6" fill="#d8d8d8" opacity="0.32"/>
<rect x="37.2" y="162.7" width="3.6" height="0.6" fill="#d8d8d8" opacity="0.31"/>
<rect x="145.5" y="116.3" width="3.1" height="0.6" fill="#d8d8d8" opacity="0.48"/>
<rect x="129.5" y="123.0" width="2.9" height="0.6" fill="#d8d8d8" opacity="0.42"/>
<rect x="150.9" y="123.0" width="3.1" height="0.6" fill="#d8d8d8" opacity="0.48"/>
<rect x="55.2" y="147.9" width="2.0" height="0.6" fill="#d8d8d8" opacity="0.53"/>
<rect x="120.6" y="114.5" width="2.2" height="0.6" fill="#d8d8d8" opacity="0.47"/>
<rect x="44.7" y="149.5" width="2.8" height="0.6" fill="#d8d8d8" opacity="0.41"/>
<rect x="48.6" y="44.6" width="3.6" height="0.6" fill="#d8d8d8" opacity="0.60"/>
<rect x="54.8" y="38.1" width="3.3" height="0.6" fill="#d8d8d8" opacity="0.34"/>
<rect x="87.9" y="143.3" width="2.5" height="0.6" fill="#d8d8d8" opacity="0.54"/>
<rect x="58.7" y="117.1" width="2.2" height="0.6" fill="#d8d8d8" opacity="0.37"/>
<rect x="118.8" y="152.5" width="3.3" height="0.6" fill="#d8d8d8" opacity="0.53"/>
<rect x="72.3" y="168.0" width="2.9" height="0.6" fill="#d8d8d8" opacity="0.57"/>
<rect x="21.2" y="100.7" width="4.2" height="0.6" fill="#d8d8d8" opacity="0.57"/>
<rect x="144.5" y="106.0" width="2.4" height="0.6" fill="#d8d8d8" opacity="0.42"/>
<rect x="134.5" y="126.3" width="3.0" height="0.6" fill="#d8d8d8" opacity="0.58"/>
<rect x="24.6" y="66.5" width="2.2" height="0.6" fill="#d8d8d8" opacity="0.41"/>
<rect x="35.2" y="127.2" width="3.1" height="0.6" fill="#d8d8d8" opacity="0.38"/>
<rect x="82.4" y="160.2" width="3.1" height="0.6" fill="#d8d8d8" opacity="0.54"/>
<rect x="128.0" y="96.7" width="3.4" height="0.6" fill="#d8d8d8" opacity="0.43"/>
<rect x="50.7" y="100.1" width="2.8" height="0.6" fill="#d8d8d8" opacity="0.42"/>
<rect x="48.6" y="168.0" width="3.1" height="0.6" fill="#d8d8d8" opacity="0.37"/>
<rect x="20.7" y="54.7" width="4.2" height="0.6" fill="#d8d8d8" opacity="0.42"/>
<rect x="132.1" y="92.9" width="3.8" height="0.6" fill="#d8d8d8" opacity="0.48"/>
<rect x="82.6" y="65.4" width="3.5" height="0.6" fill="#d8d8d8" opacity="0.59"/>
<rect x="139.5" y="97.8" width="2.8" height="0.6" fill="#d8d8d8" opacity="0.61"/>
<rect x="137.3" y="145.1" width="3.7" height="0.6" fill="#d8d8d8" opacity="0.64"/>
<rect x="83.4" y="178.2" width="2.4" height="0.6" fill="#d8d8d8" opacity="0.44"/>
<rect x="127.7" y="64.2" width="2.7" height="0.6" fill="#d8d8d8" opacity="0.58"/>
<rect x="125.3" y="140.5" width="4.0" height="0.6" fill="#d8d8d8" opacity="0.61"/>
<rect x="141.3" y="103.2" width="4.4" height="0.6" fill="#d8d8d8" opacity="0.53"/>
<rect x="92.5" y="127.6" width="2.7" height="0.6" fill="#d8d8d8" opacity="0.35"/>
<rect x="84.5" y="42.2" width="2.0" height="0.6" fill="#d8d8d8" opacity="0.33"/>
<rect x="96.8" y="143.7" width="2.1" height="0.6" fill="#d8d8d8" opacity="0.52"/>
<rect x="35.0" y="102.7" width="2.7" height="0.6" fill="#d8d8d8" opacity="0.46"/>
<rect x="85.5" y="138.0" width="2.3" height="0.6" fill="#d8d8d8" opacity="0.42"/>
<rect x="39.3" y="75.9" width="4.3" height="0.6" fill="#d8d8d8" opacity="0.42"/>
<rect x="128.8" y="152.6" width="2.7" height="0.6" fill="#d8d8d8" opacity="0.57"/>
<rect x="15.7" y="75.2" width="2.4" height="0.6" fill="#d8d8d8" opacity="0.42"/>
<rect x="118.2" y="109.8" width="4.1" height="0.6" fill="#d8d8d8" opacity="0.60"/>
<rect x="60.5" y="55.1" width="3.0" height="0.6" fill="#d8d8d8" opacity="0.58"/>
<rect x="72.8" y="69.3" width="3.1" height="0.6" fill="#d8d8d8" opacity="0.61"/>
<rect x="98.0" y="132.2" width="4.0" height="0.6" fill="#d8d8d8" opacity="0.37"/>
<rect x="30.3" y="135.8" width="3.2" height="0.6" fill="#d8d8d8" opacity="0.62"/>
<rect x="45.0" y="108.9" width="2.3" height="0.6" fill="#d8d8d8" opacity="0.58"/>
<rect x="70.7" y="42.9" width="3.6" height="0.6" fill="#d8d8d8" opacity="0.52"/>
<rect x="26.3" y="174.0" width="4.4" height="0.6" fill="#d8d8d8" opacity="0.45"/>
<rect x="118.3" y="78.9" width="3.5" height="0.6" fill="#d8d8d8" opacity="0.44"/>
<rect x="94.3" y="141.5" width="2.5" height="0.6" fill="#d8d8d8" opacity="0.40"/>
<rect x="27.4" y="167.7" width="2.4" height="0.6" fill="#d8d8d8" opacity="0.44"/>
<rect x="71.4" y="62.4" width="2.9" height="0.6" fill="#d8d8d8" opacity="0.49"/>
<rect x="35.9" y="106.4" width="2.1" height="0.6" fill="#d8d8d8" opacity="0.33"/>
<rect x="51.4" y="58.9" width="2.9" height="0.6" fill="#d8d8d8" opacity="0.40"/>
<rect x="165.6" y="126.6" width="3.2" height="0.6" fill="#d8d8d8" opacity="0.57"/>
<rect x="125.9" y="140.8" width="3.3" height="0.6" fill="#d8d8d8" opacity="0.56"/>
<rect x="62.5" y="128.8" width="4.4" height="0.6" fill="#d8d8d8" opacity="0.48"/>
<rect x="111.3" y="60.3" width="2.6" height="0.6" fill="#d8d8d8" opacity="0.60"/>
<rect x="130.8" y="121.9" width="2.3" height="0.6" fill="#d8d8d8" opacity="0.40"/>
<rect x="111.8" y="132.8" width="3.3" height="0.6" fill="#d8d8d8" opacity="0.49"/>
<rect x="57.7" y="89.7" width="3.0" height="0.6" fill="#d8d8d8" opacity="0.54"/>
<rect x="136.5" y="62.3" width="3.7" height="0.6" fill="#d8d8d8" opacity="0.45"/>
<rect x="17.7" y="67.3" width="2.9" height="0.6" fill="#d8d8d8" opacity="0.37"/>
<rect x="182.7" y="122.0" width="4.1" height="0.6" fill="#d8d8d8" opacity="0.47"/>
<rect x="120.6" y="164.8" width="2.1" height="0.6" fill="#d8d8d8" opacity="0.43"/>
<rect x="57.2" y="50.1" width="2.8" height="0.6" fill="#d8d8d8" opacity="0.58"/>
<rect x="55.8" y="144.9" width="2.4" height="0.6" fill="#d8d8d8" opacity="0.51"/>
<rect x="144.8" y="129.2" width="2.2" height="0.6" fill="#d8d8d8" opacity="0.63"/>
<rect x="169.7" y="117.4" width="2.4" height="0.6" fill="#d8d8d8" opacity="0.44"/>
<rect x="22.5" y="46.9" width="2.5" height="0.6" fill="#d8d8d8" opacity="0.51"/>
<rect x="130.9" y="92.6" width="3.0" height="0.6" fill="#d8d8d8" opacity="0.64"/>
<rect x="76.7" y="128.9" width="2.5" height="0.6" fill="#d8d8d8" opacity="0.48"/>
<rect x="47.3" y="38.4" width="2.8" height="0.6" fill="#d8d8d8" opacity="0.34"/>
<rect x="83.6" y="125.8" width="3.4" height="0.6" fill="#d8d8d8" opacity="0.58"/>
<rect x="109.4" y="60.6" width="2.9" height="0.6" fill="#d8d8d8" opacity="0.47"/>
<rect x="72.4" y="36.4" width="3.0" height="0.6" fill="#d8d8d8" opacity="0.53"/>
<rect x="89.1" y="124.4" width="2.1" height="0.6" fill="#d8d8d8" opacity="0.58"/>
<rect x="100.0" y="64.0" width="4.0" height="0.6" fill="#d8d8d8" opacity="0.45"/>
<rect x="76.6" y="173.2" width="4.3" height="0.6" fill="#d8d8d8" opacity="0.37"/>
<rect x="80.2" y="147.7" width="3.9" height="0.6" fill="#d8d8d8" opacity="0.40"/>
<rect x="95.3" y="175.8" width="2.2" height="0.6" fill="#d8d8d8" opacity="0.40"/>
<rect x="61.7" y="146.8" width="2.3" height="0.6" fill="#d8d8d8" opacity="0.49"/>
<rect x="128.2" y="105.8" width="4.4" height="0.6" fill="#d8d8d8" opacity="0.48"/>
<rect x="103.4" y="166.4" width="3.9" height="0.6" fill="#d8d8d8" opacity="0.35"/>
<rect x="103.8" y="87.4" width="2.6" height="0.6" fill="#d8d8d8" opacity="0.40"/>
<rect x="52.1" y="47.2" width="3.8" height="0.6" fill="#d8d8d8" opacity="0.32"/>
<rect x="122.8" y="116.9" width="3.8" height="0.6" fill="#d8d8d8" opacity="0.50"/>
<rect x="31.8" y="114.4" width="2.7" height="0.6" fill="#d8d8d8" opacity="0.65"/>
<rect x="77.1" y="80.6" width="3.2" height="0.6" fill="#d8d8d8" opacity="0.53"/>
<rect x="19.5" y="107.4" width="2.3" height="0.6" fill="#d8d8d8" opacity="0.64"/>
<rect x="114.3" y="115.4" width="2.8" height="0.6" fill="#d8d8d8" opacity="0.55"/>
<rect x="119.5" y="63.7" width="3.6" height="0.6" fill="#d8d8d8" opacity="0.32"/>
<rect x="21.6" y="62.7" width="4.1" height="0.6" fill="#d8d8d8" opacity="0.44"/>
<rect x="109.1" y="148.0" width="4.4" height="0.6" fill="#d8d8d8" opacity="0.39"/>
<rect x="139.9" y="146.7" width="4.0" height="0.6" fill="#d8d8d8" opacity="0.42"/>
<rect x="100.4" y="147.0" width="2.6" height="0.6" fill="#d8d8d8" opacity="0.47"/>
<rect x="129.0" y="157.9" width="2.6" height="0.6" fill="#d8d8d8" opacity="0.53"/>
<rect x="54.1" y="45.4" width="3.2" height="0.6" fill="#d8d8d8" opacity="0.53"/>
<rect x="44.6" y="105.9" width="3.2" height="0.6" fill="#d8d8d8" opacity="0.39"/>
<rect x="130.9" y="126.5" width="2.6" height="0.6" fill="#d8d8d8" opacity="0.62"/>
<rect x="71.5" y="160.1" width="2.3" height="0.6" fill="#d8d8d8" opacity="0.42"/>
<rect x="90.4" y="174.7" width="2.7" height="0.6" fill="#d8d8d8" opacity="0.44"/>
<rect x="52.3" y="152.7" width="2.5" height="0.6" fill="#d8d8d8" opacity="0.60"/>
<rect x="76.4" y="109.1" width="4.2" height="0.6" fill="#d8d8d8" opacity="0.39"/>
<rect x="110.2" y="123.0" width="3.4" height="0.6" fill="#d8d8d8" opacity="0.44"/>
<rect x="124.0" y="113.0" width="4.0" height="0.6" fill="#d8d8d8" opacity="0.35"/>
<rect x="136.1" y="93.4" width="3.3" height="0.6" fill="#d8d8d8" opacity="0.59"/>
<rect x="108.4" y="90.6" width="3.6" height="0.6" fill="#d8d8d8" opacity="0.35"/>
<rect x="172.1" y="103.8" width="2.1" height="0.6" fill="#d8d8d8" opacity="0.47"/>
<rect x="91.7" y="63.0" width="4.3" height="0.6" fill="#d8d8d8" opacity="0.40"/>
<rect x="18.2" y="60.0" width="3.2" height="0.6" fill="#d8d8d8" opacity="0.54"/>
<rect x="27.0" y="74.2" width="3.8" height="0.6" fill="#d8d8d8" opacity="0.42"/>
<rect x="46.6" y="135.2" width="3.1" height="0.6" fill="#d8d8d8" opacity="0.54"/>
<rect x="102.2" y="151.6" width="3.3" height="0.6" fill="#d8d8d8" opacity="0.64"/>
<rect x="103.3" y="118.8" width="2.9" height="0.6" fill="#d8d8d8" opacity="0.33"/>
<rect x="114.2" y="181.1" width="3.2" height="0.6" fill="#d8d8d8" opacity="0.64"/>
<rect x="29.5" y="81.3" width="3.4" height="0.6" fill="#d8d8d8" opacity="0.59"/>
<rect x="108.7" y="148.0" width="2.9" height="0.6" fill="#d8d8d8" opacity="0.54"/>
<rect x="158.4" y="117.2" width="2.1" height="0.6" fill="#d8d8d8" opacity="0.53"/>
<rect x="35.6" y="143.7" width="2.4" height="0.6" fill="#d8d8d8" opacity="0.55"/>
<rect x="28.0" y="53.5" width="3.7" height="0.6" fill="#d8d8d8" opacity="0.62"/>
<rect x="27.9" y="119.5" width="3.0" height="0.6" fill="#d8d8d8" opacity="0.52"/>
<rect x="28.9" y="22.7" width="2.2" height="0.6" fill="#d8d8d8" opacity="0.61"/>
<rect x="103.3" y="119.2" width="2.3" height="0.6" fill="#d8d8d8" opacity="0.54"/>
<rect x="127.2" y="121.5" width="4.5" height="0.6" fill="#d8d8d8" opacity="0.58"/>
<rect x="32.3" y="48.7" width="2.9" height="0.6" fill="#d8d8d8" opacity="0.44"/>
<rect x="115.6" y="93.2" width="2.8" height="0.6" fill="#d8d8d8" opacity="0.52"/>
<rect x="93.1" y="178.7" width="2.3" height="0.6" fill="#d8d8d8" opacity="0.61"/>
<rect x="129.7" y="94.4" width="2.2" height="0.6" fill="#d8d8d8" opacity="0.53"/>
<rect x="159.6" y="76.7" width="3.8" height="0.6" fill="#d8d8d8" opacity="0.49"/>
<rect x="31.2" y="159.2" width="2.8" height="0.6" fill="#d8d8d8" opacity="0.47"/>
<rect x="114.3" y="90.1" width="4.2" height="0.6" fill="#d8d8d8" opacity="0.55"/>
<rect x="133.6" y="151.4" width="2.9" height="0.6" fill="#d8d8d8" opacity="0.46"/>
<rect x="33.5" y="76.8" width="2.5" height="0.6" fill="#d8d8d8" opacity="0.56"/>
<rect x="38.3" y="168.2" width="3.5" height="0.6" fill="#d8d8d8" opacity="0.46"/>
<rect x="36.5" y="92.3" width="3.4" height="0.6" fill="#d8d8d8" opacity="0.35"/>
<rect x="93.2" y="66.2" width="2.9" height="0.6" fill="#d8d8d8" opacity="0.40"/>
<rect x="80.7" y="116.8" width="3.2" height="0.6" fill="#d8d8d8" opacity="0.41"/>
<rect x="70.3" y="90.5" width="3.9" height="0.6" fill="#d8d8d8" opacity="0.45"/>
<rect x="89.8" y="126.0" width="2.7" height="0.6" fill="#d8d8d8" opacity="0.49"/>
<rect x="50.1" y="120.0" width="3.3" height="0.6" fill="#d8d8d8" opacity="0.53"/>
<rect x="81.0" y="93.7" width="4.3" height="0.6" fill="#d8d8d8" opacity="0.63"/>
<rect x="36.4" y="53.0" width="3.7" height="0.6" fill="#d8d8d8" opacity="0.55"/>
<rect x="22.5" y="95.4" width="2.2" height="0.6" fill="#d8d8d8" opacity="0.59"/>
<rect x="110.3" y="119.2" width="4.3" height="0.6" fill="#d8d8d8" opacity="0.34"/>
<rect x="53.7" y="147.5" width="3.5" height="0.6" fill="#d8d8d8" opacity="0.45"/>
<rect x="79.1" y="120.3" width="4.4" height="0.6" fill="#d8d8d8" opacity="0.63"/>
</g>
<text x="0.60" y="10.70" font-size="14" fill="#000" text-anchor="start" font-weight="bold" >a</text>
<text x="1.20" y="217.20" font-size="14" fill="#000" text-anchor="start" font-weight="bold" >b</text>
<text x="228.40" y="10.90" font-size="14" fill="#000" text-anchor="start" font-weight="bold" >c</text>
<text x="413.60" y="11.20" font-size="14" fill="#000" text-anchor="start" font-weight="bold" >d</text>
<text x="413.80" y="200.80" font-size="14" fill="#000" text-anchor="start" font-weight="bold" >e</text>
<path d="M60.2,227.0 L64.0,227.9 L70.0,229.3 L76.5,231.0 L83.1,233.1 L88.0,234.7 L91.2,236.4 L94.2,238.3 L96.1,240.8 L97.8,244.0 L99.4,248.1 L100.7,252.2 L101.8,256.3 L102.7,260.4 L103.1,262.0" fill="none" stroke="#d9d9d9" stroke-width="3.4" stroke-linecap="round" stroke-linejoin="round"/>
<circle cx="46.1" cy="225.3" r="1.35" fill="#d6d6d6"/>
<circle cx="53.4" cy="225.6" r="1.35" fill="#d6d6d6"/>
<circle cx="58" cy="225.9" r="1.35" fill="#d6d6d6"/>
<circle cx="60.2" cy="226.3" r="1.35" fill="#d6d6d6"/>
<rect x="101.2" y="259.8" width="4.2" height="4.0" rx="1.6" fill="#d6d6d6"/>
<rect x="42.60" y="222.50" width="64.80" height="44.80" fill="none" stroke="#8c8c8c" stroke-width="0.8" />
<line x1="40.80" y1="222.50" x2="42.60" y2="222.50" stroke="#555" stroke-width="0.6" />
<line x1="40.80" y1="233.70" x2="42.60" y2="233.70" stroke="#555" stroke-width="0.6" />
<line x1="40.80" y1="244.90" x2="42.60" y2="244.90" stroke="#555" stroke-width="0.6" />
<line x1="40.80" y1="256.10" x2="42.60" y2="256.10" stroke="#555" stroke-width="0.6" />
<line x1="40.80" y1="267.30" x2="42.60" y2="267.30" stroke="#555" stroke-width="0.6" />
<text x="31.3" y="224.90" font-size="6.8" fill="#1e1e1e" text-anchor="end" textLength="7.6" lengthAdjust="spacingAndGlyphs">10</text>
<text x="31.7" y="222.40" font-size="5.0" fill="#1e1e1e" textLength="7.0" lengthAdjust="spacingAndGlyphs">−1</text>
<text x="31.3" y="236.10" font-size="6.8" fill="#1e1e1e" text-anchor="end" textLength="7.6" lengthAdjust="spacingAndGlyphs">10</text>
<text x="31.7" y="233.60" font-size="5.0" fill="#1e1e1e" textLength="7.0" lengthAdjust="spacingAndGlyphs">−2</text>
<text x="31.3" y="247.30" font-size="6.8" fill="#1e1e1e" text-anchor="end" textLength="7.6" lengthAdjust="spacingAndGlyphs">10</text>
<text x="31.7" y="244.80" font-size="5.0" fill="#1e1e1e" textLength="7.0" lengthAdjust="spacingAndGlyphs">−3</text>
<text x="31.3" y="258.50" font-size="6.8" fill="#1e1e1e" text-anchor="end" textLength="7.6" lengthAdjust="spacingAndGlyphs">10</text>
<text x="31.7" y="256.00" font-size="5.0" fill="#1e1e1e" textLength="7.0" lengthAdjust="spacingAndGlyphs">−4</text>
<text x="31.3" y="269.70" font-size="6.8" fill="#1e1e1e" text-anchor="end" textLength="7.6" lengthAdjust="spacingAndGlyphs">10</text>
<text x="31.7" y="267.20" font-size="5.0" fill="#1e1e1e" textLength="7.0" lengthAdjust="spacingAndGlyphs">−5</text>
<line x1="45.60" y1="267.30" x2="45.60" y2="269.10" stroke="#555" stroke-width="0.6" />
<line x1="71.50" y1="267.30" x2="71.50" y2="269.10" stroke="#555" stroke-width="0.6" />
<line x1="97.20" y1="267.30" x2="97.20" y2="269.10" stroke="#555" stroke-width="0.6" />
<text x="48.20" y="275.9" font-size="6.8" fill="#1e1e1e" text-anchor="end" textLength="7.6" lengthAdjust="spacingAndGlyphs">10</text>
<text x="48.50" y="273.3" font-size="5.0" fill="#1e1e1e">0</text>
<text x="74.10" y="275.9" font-size="6.8" fill="#1e1e1e" text-anchor="end" textLength="7.6" lengthAdjust="spacingAndGlyphs">10</text>
<text x="74.40" y="273.3" font-size="5.0" fill="#1e1e1e">1</text>
<text x="99.80" y="275.9" font-size="6.8" fill="#1e1e1e" text-anchor="end" textLength="7.6" lengthAdjust="spacingAndGlyphs">10</text>
<text x="100.10" y="273.3" font-size="5.0" fill="#1e1e1e">2</text>
<text x="75.40" y="284.30" font-size="6.6" fill="#1e1e1e" text-anchor="middle" textLength="48.80" lengthAdjust="spacingAndGlyphs" style="stroke-width:0.15px" >Polygon Degree</text>
<text x="19.60" y="244.60" font-size="6.6" fill="#1e1e1e" text-anchor="middle" textLength="32.00" lengthAdjust="spacingAndGlyphs" transform="rotate(-90 19.60 244.60)" style="stroke-width:0.15px" >Frequency</text>
<path d="M134.4,240.0 L135.7,245.6 L137.2,250.2 L139.0,253.8 L142.7,257.5 L148.2,260.3 L155.6,262.1 L164.7,263.4 L175.8,264.3 L186.8,264.8 L193.8,265.2" fill="none" stroke="#a9c79a" stroke-width="3.4" stroke-linecap="round" stroke-linejoin="round"/>
<circle cx="134.4" cy="224.4" r="1.6" fill="#a9c79a"/>
<circle cx="134.4" cy="235.8" r="1.6" fill="#a9c79a"/>
<path d="M134.4,236 L134.5,240" stroke="#a9c79a" stroke-width="3.2"/>
<rect x="131.30" y="222.30" width="64.10" height="45.70" fill="none" stroke="#8c8c8c" stroke-width="0.8" />
<line x1="129.50" y1="230.30" x2="131.30" y2="230.30" stroke="#555" stroke-width="0.6" />
<line x1="129.50" y1="247.60" x2="131.30" y2="247.60" stroke="#555" stroke-width="0.6" />
<line x1="129.50" y1="264.90" x2="131.30" y2="264.90" stroke="#555" stroke-width="0.6" />
<text x="127.50" y="233.00" font-size="7.6" fill="#1e1e1e" text-anchor="end" >2</text>
<text x="127.50" y="250.30" font-size="7.6" fill="#1e1e1e" text-anchor="end" >1</text>
<text x="127.50" y="267.60" font-size="7.6" fill="#1e1e1e" text-anchor="end" >0</text>
<line x1="134.20" y1="268.00" x2="134.20" y2="269.80" stroke="#555" stroke-width="0.6" />
<line x1="192.60" y1="268.00" x2="192.60" y2="269.80" stroke="#555" stroke-width="0.6" />
<text x="134.20" y="276.60" font-size="7.6" fill="#1e1e1e" text-anchor="middle" >0</text>
<text x="192.60" y="276.60" font-size="7.6" fill="#1e1e1e" text-anchor="middle" textLength="12.40" lengthAdjust="spacingAndGlyphs" >388</text>
<text x="132.0" y="220.7" font-size="7.4" fill="#1e1e1e" textLength="13.4" lengthAdjust="spacingAndGlyphs">×10</text>
<text x="145.9" y="217.4" font-size="5.2" fill="#1e1e1e">4</text>
<text x="163.40" y="284.60" font-size="6.6" fill="#1e1e1e" text-anchor="middle" textLength="36.90" lengthAdjust="spacingAndGlyphs" style="stroke-width:0.15px" >Park Nodes</text>
<text x="120.20" y="248.60" font-size="6.6" fill="#1e1e1e" text-anchor="middle" textLength="21.00" lengthAdjust="spacingAndGlyphs" transform="rotate(-90 120.20 248.60)" style="stroke-width:0.15px" >Degree</text>
<line x1="257.60" y1="19.40" x2="257.60" y2="66.20" stroke="#f0f0f0" stroke-width="1.0" />
<line x1="276.50" y1="19.40" x2="276.50" y2="66.20" stroke="#f0f0f0" stroke-width="1.0" />
<line x1="298.40" y1="19.40" x2="298.40" y2="66.20" stroke="#f0f0f0" stroke-width="1.0" />
<line x1="320.50" y1="19.40" x2="320.50" y2="66.20" stroke="#f0f0f0" stroke-width="1.0" />
<line x1="342.80" y1="19.40" x2="342.80" y2="66.20" stroke="#f0f0f0" stroke-width="1.0" />
<line x1="364.90" y1="19.40" x2="364.90" y2="66.20" stroke="#f0f0f0" stroke-width="1.0" />
<line x1="379.30" y1="19.40" x2="379.30" y2="66.20" stroke="#f0f0f0" stroke-width="1.0" />
<line x1="386.90" y1="19.40" x2="386.90" y2="66.20" stroke="#f0f0f0" stroke-width="1.0" />
<line x1="257.20" y1="36.40" x2="392.30" y2="36.40" stroke="#dedede" stroke-width="0.6" />
<line x1="257.20" y1="54.30" x2="392.30" y2="54.30" stroke="#dedede" stroke-width="0.6" />
<line x1="268.50" y1="19.40" x2="268.50" y2="66.20" stroke="#747474" stroke-width="0.55" />
<line x1="275.87" y1="19.40" x2="275.87" y2="66.20" stroke="#747474" stroke-width="0.55" />
<line x1="283.24" y1="19.40" x2="283.24" y2="66.20" stroke="#747474" stroke-width="0.55" />
<line x1="290.61" y1="19.40" x2="290.61" y2="66.20" stroke="#747474" stroke-width="0.55" />
<line x1="297.98" y1="19.40" x2="297.98" y2="66.20" stroke="#747474" stroke-width="0.55" />
<line x1="305.35" y1="19.40" x2="305.35" y2="66.20" stroke="#747474" stroke-width="0.55" />
<line x1="312.72" y1="19.40" x2="312.72" y2="66.20" stroke="#747474" stroke-width="0.55" />
<line x1="320.09" y1="19.40" x2="320.09" y2="66.20" stroke="#747474" stroke-width="0.55" />
<line x1="327.46" y1="19.40" x2="327.46" y2="66.20" stroke="#747474" stroke-width="0.55" />
<line x1="334.83" y1="19.40" x2="334.83" y2="66.20" stroke="#747474" stroke-width="0.55" />
<line x1="342.20" y1="19.40" x2="342.20" y2="66.20" stroke="#747474" stroke-width="0.55" />
<line x1="349.57" y1="19.40" x2="349.57" y2="66.20" stroke="#747474" stroke-width="0.55" />
<line x1="356.94" y1="19.40" x2="356.94" y2="66.20" stroke="#747474" stroke-width="0.55" />
<line x1="364.31" y1="19.40" x2="364.31" y2="66.20" stroke="#747474" stroke-width="0.55" />
<line x1="371.68" y1="19.40" x2="371.68" y2="66.20" stroke="#747474" stroke-width="0.55" />
<line x1="379.05" y1="19.40" x2="379.05" y2="66.20" stroke="#747474" stroke-width="0.55" />
<line x1="386.42" y1="19.40" x2="386.42" y2="66.20" stroke="#747474" stroke-width="0.55" />
<path d="M262.90,59.80 L263.70,50.00 L264.50,39.40 L265.30,32.90 L266.20,45.10 L267.00,40.20 L267.80,38.60 L268.60,34.50 L269.40,35.30 L270.20,32.90 L271.10,29.60 L272.20,26.30 L273.20,33.70 L274.30,41.00 L275.10,35.30 L276.00,29.60 L277.10,24.70 L278.10,22.30 L279.20,21.90 L280.00,22.30 L280.90,28.00 L281.70,32.90 L282.50,32.10 L283.30,26.30 L284.10,26.30 L285.00,26.30 L286.30,25.50 L287.30,24.70 L288.30,36.10 L289.10,34.50 L289.90,33.40 L290.70,35.30 L291.50,41.90 L292.30,48.40 L293.20,47.60 L294.00,50.00 L294.80,55.70 L295.90,59.00 L297.20,59.80 L298.40,59.00 L299.40,61.80 L300.50,63.90 L301.30,61.80 L302.50,51.70 L303.30,41.90 L304.10,49.20 L304.90,43.50 L305.40,37.80 L306.20,48.40" fill="none" stroke="#d596d5" stroke-width="0.9" stroke-linejoin="round"/>
<path d="M312.40,52.50 L313.60,33.70 L314.70,27.20 L316.00,25.50 L317.20,28.00 L318.10,31.20 L319.00,29.10 L319.80,54.10 L320.60,35.30 L321.70,27.20 L322.80,26.40 L323.60,32.90 L324.30,36.20 L324.90,32.90 L325.80,31.30 L326.60,32.10 L327.40,29.60 L328.20,28.80 L329.00,29.60 L329.90,30.10 L330.70,30.50 L331.50,30.80 L332.30,31.30 L333.10,30.50 L333.90,29.60 L334.80,29.60 L335.60,31.30 L336.40,30.50 L337.20,27.20 L338.00,23.90 L338.90,26.40 L339.70,28.80 L340.50,29.60 L341.30,28.80 L342.10,29.10 L342.90,28.00 L343.80,26.40 L344.60,23.10 L345.40,21.50 L346.20,22.30 L347.00,25.50 L347.90,27.20 L348.70,26.40 L349.50,23.90 L350.30,26.40 L351.10,25.50 L351.90,27.20 L352.80,26.40 L353.60,35.40 L354.40,29.60 L355.20,26.40 L356.00,25.50 L356.80,26.40 L357.60,27.20 L358.50,25.50 L359.30,23.10 L360.10,27.20 L360.90,29.60 L361.70,30.50 L362.50,31.30 L363.40,36.20 L364.20,32.10 L365.00,27.20 L365.80,24.70 L366.60,24.70 L367.50,27.20 L368.30,33.70 L369.10,35.40 L369.90,29.60 L370.70,24.70 L371.50,23.90 L372.40,26.40 L373.20,25.50 L374.00,22.30 L374.80,23.90 L375.60,31.30 L376.50,34.50 L377.30,29.60 L378.10,26.40 L378.90,25.50 L379.70,26.40 L380.50,28.00 L381.40,26.40 L382.20,32.10 L383.00,37.00 L383.50,39.50 L384.10,36.20 L384.80,30.50 L385.50,28.80 L386.10,31.30" fill="none" stroke="#d596d5" stroke-width="0.9" stroke-linejoin="round"/>
<rect x="257.20" y="19.40" width="135.10" height="46.80" fill="none" stroke="#8c8c8c" stroke-width="0.8" />
<line x1="255.40" y1="36.40" x2="257.20" y2="36.40" stroke="#555" stroke-width="0.6" />
<line x1="255.40" y1="54.30" x2="257.20" y2="54.30" stroke="#555" stroke-width="0.6" />
<text x="253.40" y="39.40" font-size="8.4" fill="#1e1e1e" text-anchor="end" textLength="10.60" lengthAdjust="spacingAndGlyphs" >7.5</text>
<text x="253.40" y="57.30" font-size="8.4" fill="#1e1e1e" text-anchor="end" textLength="10.60" lengthAdjust="spacingAndGlyphs" >5.0</text>
<line x1="263.30" y1="66.20" x2="263.30" y2="68.00" stroke="#555" stroke-width="0.6" />
<line x1="295.96" y1="66.20" x2="295.96" y2="68.00" stroke="#555" stroke-width="0.6" />
<line x1="325.46" y1="66.20" x2="325.46" y2="68.00" stroke="#555" stroke-width="0.6" />
<line x1="358.12" y1="66.20" x2="358.12" y2="68.00" stroke="#555" stroke-width="0.6" />
<text x="263.30" y="74.80" font-size="6.8" fill="#1e1e1e" text-anchor="middle" textLength="11.00" lengthAdjust="spacingAndGlyphs" style="stroke-width:0.15px" >Jan</text>
<text x="295.96" y="74.80" font-size="6.8" fill="#1e1e1e" text-anchor="middle" textLength="11.80" lengthAdjust="spacingAndGlyphs" style="stroke-width:0.15px" >Feb</text>
<text x="325.46" y="74.80" font-size="6.8" fill="#1e1e1e" text-anchor="middle" textLength="12.40" lengthAdjust="spacingAndGlyphs" style="stroke-width:0.15px" >Mar</text>
<text x="358.12" y="74.80" font-size="6.8" fill="#1e1e1e" text-anchor="middle" textLength="11.20" lengthAdjust="spacingAndGlyphs" style="stroke-width:0.15px" >Apr</text>
<text x="257.6" y="17.70" font-size="8.0" fill="#1e1e1e">×</text>
<text x="263.5" y="18.00" font-size="8.2" fill="#1e1e1e" textLength="7.5" lengthAdjust="spacingAndGlyphs">10</text>
<text x="271.60" y="14.50" font-size="5.8" fill="#1e1e1e" text-anchor="start" style="stroke-width:0.06px" >4</text>
<line x1="257.60" y1="92.30" x2="257.60" y2="139.10" stroke="#f0f0f0" stroke-width="1.0" />
<line x1="276.50" y1="92.30" x2="276.50" y2="139.10" stroke="#f0f0f0" stroke-width="1.0" />
<line x1="298.40" y1="92.30" x2="298.40" y2="139.10" stroke="#f0f0f0" stroke-width="1.0" />
<line x1="320.50" y1="92.30" x2="320.50" y2="139.10" stroke="#f0f0f0" stroke-width="1.0" />
<line x1="342.80" y1="92.30" x2="342.80" y2="139.10" stroke="#f0f0f0" stroke-width="1.0" />
<line x1="364.90" y1="92.30" x2="364.90" y2="139.10" stroke="#f0f0f0" stroke-width="1.0" />
<line x1="379.30" y1="92.30" x2="379.30" y2="139.10" stroke="#f0f0f0" stroke-width="1.0" />
<line x1="386.90" y1="92.30" x2="386.90" y2="139.10" stroke="#f0f0f0" stroke-width="1.0" />
<line x1="257.20" y1="103.40" x2="392.30" y2="103.40" stroke="#dedede" stroke-width="0.6" />
<line x1="257.20" y1="123.30" x2="392.30" y2="123.30" stroke="#dedede" stroke-width="0.6" />
<line x1="268.50" y1="92.30" x2="268.50" y2="139.10" stroke="#747474" stroke-width="0.55" />
<line x1="275.87" y1="92.30" x2="275.87" y2="139.10" stroke="#747474" stroke-width="0.55" />
<line x1="283.24" y1="92.30" x2="283.24" y2="139.10" stroke="#747474" stroke-width="0.55" />
<line x1="290.61" y1="92.30" x2="290.61" y2="139.10" stroke="#747474" stroke-width="0.55" />
<line x1="297.98" y1="92.30" x2="297.98" y2="139.10" stroke="#747474" stroke-width="0.55" />
<line x1="305.35" y1="92.30" x2="305.35" y2="139.10" stroke="#747474" stroke-width="0.55" />
<line x1="312.72" y1="92.30" x2="312.72" y2="139.10" stroke="#747474" stroke-width="0.55" />
<line x1="320.09" y1="92.30" x2="320.09" y2="139.10" stroke="#747474" stroke-width="0.55" />
<line x1="327.46" y1="92.30" x2="327.46" y2="139.10" stroke="#747474" stroke-width="0.55" />
<line x1="334.83" y1="92.30" x2="334.83" y2="139.10" stroke="#747474" stroke-width="0.55" />
<line x1="342.20" y1="92.30" x2="342.20" y2="139.10" stroke="#747474" stroke-width="0.55" />
<line x1="349.57" y1="92.30" x2="349.57" y2="139.10" stroke="#747474" stroke-width="0.55" />
<line x1="356.94" y1="92.30" x2="356.94" y2="139.10" stroke="#747474" stroke-width="0.55" />
<line x1="364.31" y1="92.30" x2="364.31" y2="139.10" stroke="#747474" stroke-width="0.55" />
<line x1="371.68" y1="92.30" x2="371.68" y2="139.10" stroke="#747474" stroke-width="0.55" />
<line x1="379.05" y1="92.30" x2="379.05" y2="139.10" stroke="#747474" stroke-width="0.55" />
<line x1="386.42" y1="92.30" x2="386.42" y2="139.10" stroke="#747474" stroke-width="0.55" />
<path d="M262.90,132.70 L263.70,122.90 L264.50,112.30 L265.30,105.80 L266.20,118.00 L267.00,113.10 L267.80,111.50 L268.60,107.40 L269.40,108.20 L270.20,105.80 L271.10,102.50 L272.20,99.20 L273.20,106.60 L274.30,113.90 L275.10,108.20 L276.00,102.50 L277.10,97.60 L278.10,95.20 L279.20,94.80 L280.00,95.20 L280.90,100.90 L281.70,105.80 L282.50,105.00 L283.30,99.20 L284.10,99.20 L285.00,99.20 L286.30,98.40 L287.30,97.60 L288.30,109.00 L289.10,107.40 L289.90,106.30 L290.70,108.20 L291.50,114.80 L292.30,121.30 L293.20,120.50 L294.00,122.90 L294.80,128.60 L295.90,131.90 L297.20,132.70 L298.40,131.90 L299.40,134.70 L300.50,136.80 L301.30,134.70 L302.50,124.60 L303.30,114.80 L304.10,122.10 L304.90,116.40 L305.40,110.70 L306.20,121.30" fill="none" stroke="#2f7398" stroke-width="0.9" stroke-linejoin="round"/>
<path d="M312.40,125.40 L313.60,106.60 L314.70,100.10 L316.00,98.40 L317.20,100.90 L318.10,104.10 L319.00,102.00 L319.80,127.00 L320.60,108.20 L321.70,100.10 L322.80,99.30 L323.60,105.80 L324.30,109.10 L324.90,105.80 L325.80,104.20 L326.60,105.00 L327.40,102.50 L328.20,101.70 L329.00,102.50 L329.90,103.00 L330.70,103.40 L331.50,103.70 L332.30,104.20 L333.10,103.40 L333.90,102.50 L334.80,102.50 L335.60,104.20 L336.40,103.40 L337.20,100.10 L338.00,96.80 L338.90,99.30 L339.70,101.70 L340.50,102.50 L341.30,101.70 L342.10,102.00 L342.90,100.90 L343.80,99.30 L344.60,96.00 L345.40,94.40 L346.20,95.20 L347.00,98.40 L347.90,100.10 L348.70,99.30 L349.50,96.80 L350.30,99.30 L351.10,98.40 L351.90,100.10 L352.80,99.30 L353.60,108.30 L354.40,102.50 L355.20,99.30 L356.00,98.40 L356.80,99.30 L357.60,100.10 L358.50,98.40 L359.30,96.00 L360.10,100.10 L360.90,102.50 L361.70,103.40 L362.50,104.20 L363.40,109.10 L364.20,105.00 L365.00,100.10 L365.80,97.60 L366.60,97.60 L367.50,100.10 L368.30,106.60 L369.10,108.30 L369.90,102.50 L370.70,97.60 L371.50,96.80 L372.40,99.30 L373.20,98.40 L374.00,95.20 L374.80,96.80 L375.60,104.20 L376.50,107.40 L377.30,102.50 L378.10,99.30 L378.90,98.40 L379.70,99.30 L380.50,100.90 L381.40,99.30 L382.20,105.00 L383.00,109.90 L383.50,112.40 L384.10,109.10 L384.80,103.40 L385.50,101.70 L386.10,104.20" fill="none" stroke="#2f7398" stroke-width="0.9" stroke-linejoin="round"/>
<rect x="257.20" y="92.30" width="135.10" height="46.80" fill="none" stroke="#8c8c8c" stroke-width="0.8" />
<line x1="255.40" y1="103.40" x2="257.20" y2="103.40" stroke="#555" stroke-width="0.6" />
<line x1="255.40" y1="123.30" x2="257.20" y2="123.30" stroke="#555" stroke-width="0.6" />
<text x="253.40" y="106.40" font-size="8.4" fill="#1e1e1e" text-anchor="end" >6</text>
<text x="253.40" y="126.30" font-size="8.4" fill="#1e1e1e" text-anchor="end" >4</text>
<line x1="263.30" y1="139.10" x2="263.30" y2="140.90" stroke="#555" stroke-width="0.6" />
<line x1="295.96" y1="139.10" x2="295.96" y2="140.90" stroke="#555" stroke-width="0.6" />
<line x1="325.46" y1="139.10" x2="325.46" y2="140.90" stroke="#555" stroke-width="0.6" />
<line x1="358.12" y1="139.10" x2="358.12" y2="140.90" stroke="#555" stroke-width="0.6" />
<text x="263.30" y="147.70" font-size="6.8" fill="#1e1e1e" text-anchor="middle" textLength="11.00" lengthAdjust="spacingAndGlyphs" style="stroke-width:0.15px" >Jan</text>
<text x="295.96" y="147.70" font-size="6.8" fill="#1e1e1e" text-anchor="middle" textLength="11.80" lengthAdjust="spacingAndGlyphs" style="stroke-width:0.15px" >Feb</text>
<text x="325.46" y="147.70" font-size="6.8" fill="#1e1e1e" text-anchor="middle" textLength="12.40" lengthAdjust="spacingAndGlyphs" style="stroke-width:0.15px" >Mar</text>
<text x="358.12" y="147.70" font-size="6.8" fill="#1e1e1e" text-anchor="middle" textLength="11.20" lengthAdjust="spacingAndGlyphs" style="stroke-width:0.15px" >Apr</text>
<text x="257.6" y="90.60" font-size="8.0" fill="#1e1e1e">×</text>
<text x="263.5" y="90.90" font-size="8.2" fill="#1e1e1e" textLength="7.5" lengthAdjust="spacingAndGlyphs">10</text>
<text x="271.60" y="87.40" font-size="5.8" fill="#1e1e1e" text-anchor="start" style="stroke-width:0.06px" >4</text>
<line x1="257.60" y1="163.80" x2="257.60" y2="210.60" stroke="#f0f0f0" stroke-width="1.0" />
<line x1="276.50" y1="163.80" x2="276.50" y2="210.60" stroke="#f0f0f0" stroke-width="1.0" />
<line x1="298.40" y1="163.80" x2="298.40" y2="210.60" stroke="#f0f0f0" stroke-width="1.0" />
<line x1="320.50" y1="163.80" x2="320.50" y2="210.60" stroke="#f0f0f0" stroke-width="1.0" />
<line x1="342.80" y1="163.80" x2="342.80" y2="210.60" stroke="#f0f0f0" stroke-width="1.0" />
<line x1="364.90" y1="163.80" x2="364.90" y2="210.60" stroke="#f0f0f0" stroke-width="1.0" />
<line x1="379.30" y1="163.80" x2="379.30" y2="210.60" stroke="#f0f0f0" stroke-width="1.0" />
<line x1="386.90" y1="163.80" x2="386.90" y2="210.60" stroke="#f0f0f0" stroke-width="1.0" />
<line x1="257.20" y1="173.60" x2="392.30" y2="173.60" stroke="#dedede" stroke-width="0.6" />
<line x1="257.20" y1="195.40" x2="392.30" y2="195.40" stroke="#dedede" stroke-width="0.6" />
<line x1="268.50" y1="163.80" x2="268.50" y2="210.60" stroke="#747474" stroke-width="0.55" />
<line x1="275.87" y1="163.80" x2="275.87" y2="210.60" stroke="#747474" stroke-width="0.55" />
<line x1="283.24" y1="163.80" x2="283.24" y2="210.60" stroke="#747474" stroke-width="0.55" />
<line x1="290.61" y1="163.80" x2="290.61" y2="210.60" stroke="#747474" stroke-width="0.55" />
<line x1="297.98" y1="163.80" x2="297.98" y2="210.60" stroke="#747474" stroke-width="0.55" />
<line x1="305.35" y1="163.80" x2="305.35" y2="210.60" stroke="#747474" stroke-width="0.55" />
<line x1="312.72" y1="163.80" x2="312.72" y2="210.60" stroke="#747474" stroke-width="0.55" />
<line x1="320.09" y1="163.80" x2="320.09" y2="210.60" stroke="#747474" stroke-width="0.55" />
<line x1="327.46" y1="163.80" x2="327.46" y2="210.60" stroke="#747474" stroke-width="0.55" />
<line x1="334.83" y1="163.80" x2="334.83" y2="210.60" stroke="#747474" stroke-width="0.55" />
<line x1="342.20" y1="163.80" x2="342.20" y2="210.60" stroke="#747474" stroke-width="0.55" />
<line x1="349.57" y1="163.80" x2="349.57" y2="210.60" stroke="#747474" stroke-width="0.55" />
<line x1="356.94" y1="163.80" x2="356.94" y2="210.60" stroke="#747474" stroke-width="0.55" />
<line x1="364.31" y1="163.80" x2="364.31" y2="210.60" stroke="#747474" stroke-width="0.55" />
<line x1="371.68" y1="163.80" x2="371.68" y2="210.60" stroke="#747474" stroke-width="0.55" />
<line x1="379.05" y1="163.80" x2="379.05" y2="210.60" stroke="#747474" stroke-width="0.55" />
<line x1="386.42" y1="163.80" x2="386.42" y2="210.60" stroke="#747474" stroke-width="0.55" />
<path d="M263.00,170.30 L264.00,198.40 L264.90,196.50 L265.90,188.10 L266.80,187.10 L267.70,193.70 L268.50,203.00 L269.40,190.90 L270.30,188.10 L271.30,196.50 L272.20,189.90 L273.20,188.10 L274.30,188.10 L275.20,197.40 L276.00,204.00 L276.90,193.70 L277.80,191.80 L279.00,195.60 L279.90,189.90 L280.80,188.10 L281.80,190.90 L282.70,200.20 L283.60,194.60 L284.60,189.90 L285.50,188.10 L286.40,190.90 L287.40,182.50 L288.30,178.70 L289.30,182.50 L290.20,189.90 L291.10,181.50 L292.10,175.00 L292.80,165.60 L293.70,175.90 L294.70,176.80 L295.60,181.50 L296.50,182.50 L297.70,182.50 L298.60,183.40 L299.50,180.60 L300.50,177.80 L301.40,183.40 L302.40,188.10 L303.30,190.90 L304.20,184.30 L305.20,204.00 L306.30,200.20" fill="none" stroke="#8d9de0" stroke-width="0.9" stroke-linejoin="round"/>
<path d="M312.50,191.80 L313.40,195.60 L314.50,198.40 L315.50,189.00 L316.40,186.20 L317.30,194.60 L318.30,204.90 L319.20,204.00 L320.10,197.40 L320.90,197.40 L321.90,193.70 L322.80,184.30 L323.70,178.70 L324.70,184.30 L325.60,199.30 L326.50,204.90 L327.50,200.20 L328.40,196.50 L329.40,199.30 L330.30,191.80 L331.20,182.40 L332.20,184.30 L333.10,199.30 L334.00,204.00 L335.00,198.30 L335.90,195.50 L336.80,196.50 L337.80,189.90 L338.70,181.50 L339.60,180.60 L340.60,189.90 L341.50,202.10 L342.40,198.30 L343.40,195.50 L344.30,196.50 L345.20,189.90 L346.20,182.40 L347.10,183.40 L348.10,193.70 L349.00,204.90 L349.90,199.30 L350.90,196.50 L351.80,193.70 L352.70,186.20 L353.70,184.30 L354.60,188.10 L355.50,203.00 L356.50,198.30 L357.40,194.60 L358.30,193.70 L359.30,191.80 L360.20,188.10 L361.10,186.20 L362.10,188.10 L363.00,189.90 L363.90,200.20 L364.90,198.30 L365.80,195.50 L366.80,191.80 L367.70,185.20 L368.60,181.50 L369.60,185.20 L370.50,200.20 L371.40,204.90 L372.40,198.30 L373.30,194.60 L374.20,192.70 L375.20,184.30 L376.10,180.60 L377.00,186.20 L378.00,197.40 L378.90,200.20 L379.80,196.50 L380.80,197.40 L381.70,191.80 L382.70,183.40 L383.60,180.60 L384.50,186.20 L385.50,202.10 L386.40,199.30" fill="none" stroke="#8d9de0" stroke-width="0.9" stroke-linejoin="round"/>
<rect x="257.20" y="163.80" width="135.10" height="46.80" fill="none" stroke="#8c8c8c" stroke-width="0.8" />
<line x1="255.40" y1="173.60" x2="257.20" y2="173.60" stroke="#555" stroke-width="0.6" />
<line x1="255.40" y1="195.40" x2="257.20" y2="195.40" stroke="#555" stroke-width="0.6" />
<text x="253.40" y="176.60" font-size="8.4" fill="#1e1e1e" text-anchor="end" textLength="10.60" lengthAdjust="spacingAndGlyphs" >7.4</text>
<text x="253.40" y="198.40" font-size="8.4" fill="#1e1e1e" text-anchor="end" textLength="10.60" lengthAdjust="spacingAndGlyphs" >7.2</text>
<line x1="263.30" y1="210.60" x2="263.30" y2="212.40" stroke="#555" stroke-width="0.6" />
<line x1="295.96" y1="210.60" x2="295.96" y2="212.40" stroke="#555" stroke-width="0.6" />
<line x1="325.46" y1="210.60" x2="325.46" y2="212.40" stroke="#555" stroke-width="0.6" />
<line x1="358.12" y1="210.60" x2="358.12" y2="212.40" stroke="#555" stroke-width="0.6" />
<text x="263.30" y="219.20" font-size="6.8" fill="#1e1e1e" text-anchor="middle" textLength="11.00" lengthAdjust="spacingAndGlyphs" style="stroke-width:0.15px" >Jan</text>
<text x="295.96" y="219.20" font-size="6.8" fill="#1e1e1e" text-anchor="middle" textLength="11.80" lengthAdjust="spacingAndGlyphs" style="stroke-width:0.15px" >Feb</text>
<text x="325.46" y="219.20" font-size="6.8" fill="#1e1e1e" text-anchor="middle" textLength="12.40" lengthAdjust="spacingAndGlyphs" style="stroke-width:0.15px" >Mar</text>
<text x="358.12" y="219.20" font-size="6.8" fill="#1e1e1e" text-anchor="middle" textLength="11.20" lengthAdjust="spacingAndGlyphs" style="stroke-width:0.15px" >Apr</text>
<text x="257.6" y="162.10" font-size="8.0" fill="#1e1e1e">×</text>
<text x="263.5" y="162.40" font-size="8.2" fill="#1e1e1e" textLength="7.5" lengthAdjust="spacingAndGlyphs">10</text>
<text x="271.60" y="158.90" font-size="5.8" fill="#1e1e1e" text-anchor="start" textLength="5.40" lengthAdjust="spacingAndGlyphs" style="stroke-width:0.06px" >−1</text>
<line x1="257.60" y1="236.80" x2="257.60" y2="283.60" stroke="#f0f0f0" stroke-width="1.0" />
<line x1="276.50" y1="236.80" x2="276.50" y2="283.60" stroke="#f0f0f0" stroke-width="1.0" />
<line x1="298.40" y1="236.80" x2="298.40" y2="283.60" stroke="#f0f0f0" stroke-width="1.0" />
<line x1="320.50" y1="236.80" x2="320.50" y2="283.60" stroke="#f0f0f0" stroke-width="1.0" />
<line x1="342.80" y1="236.80" x2="342.80" y2="283.60" stroke="#f0f0f0" stroke-width="1.0" />
<line x1="364.90" y1="236.80" x2="364.90" y2="283.60" stroke="#f0f0f0" stroke-width="1.0" />
<line x1="379.30" y1="236.80" x2="379.30" y2="283.60" stroke="#f0f0f0" stroke-width="1.0" />
<line x1="386.90" y1="236.80" x2="386.90" y2="283.60" stroke="#f0f0f0" stroke-width="1.0" />
<line x1="257.20" y1="237.00" x2="392.30" y2="237.00" stroke="#dedede" stroke-width="0.6" />
<line x1="257.20" y1="266.20" x2="392.30" y2="266.20" stroke="#dedede" stroke-width="0.6" />
<line x1="268.50" y1="236.80" x2="268.50" y2="283.60" stroke="#747474" stroke-width="0.55" />
<line x1="275.87" y1="236.80" x2="275.87" y2="283.60" stroke="#747474" stroke-width="0.55" />
<line x1="283.24" y1="236.80" x2="283.24" y2="283.60" stroke="#747474" stroke-width="0.55" />
<line x1="290.61" y1="236.80" x2="290.61" y2="283.60" stroke="#747474" stroke-width="0.55" />
<line x1="297.98" y1="236.80" x2="297.98" y2="283.60" stroke="#747474" stroke-width="0.55" />
<line x1="305.35" y1="236.80" x2="305.35" y2="283.60" stroke="#747474" stroke-width="0.55" />
<line x1="312.72" y1="236.80" x2="312.72" y2="283.60" stroke="#747474" stroke-width="0.55" />
<line x1="320.09" y1="236.80" x2="320.09" y2="283.60" stroke="#747474" stroke-width="0.55" />
<line x1="327.46" y1="236.80" x2="327.46" y2="283.60" stroke="#747474" stroke-width="0.55" />
<line x1="334.83" y1="236.80" x2="334.83" y2="283.60" stroke="#747474" stroke-width="0.55" />
<line x1="342.20" y1="236.80" x2="342.20" y2="283.60" stroke="#747474" stroke-width="0.55" />
<line x1="349.57" y1="236.80" x2="349.57" y2="283.60" stroke="#747474" stroke-width="0.55" />
<line x1="356.94" y1="236.80" x2="356.94" y2="283.60" stroke="#747474" stroke-width="0.55" />
<line x1="364.31" y1="236.80" x2="364.31" y2="283.60" stroke="#747474" stroke-width="0.55" />
<line x1="371.68" y1="236.80" x2="371.68" y2="283.60" stroke="#747474" stroke-width="0.55" />
<line x1="379.05" y1="236.80" x2="379.05" y2="283.60" stroke="#747474" stroke-width="0.55" />
<line x1="386.42" y1="236.80" x2="386.42" y2="283.60" stroke="#747474" stroke-width="0.55" />
<path d="M263.00,263.00 L264.00,271.40 L264.90,272.30 L265.90,263.00 L266.60,257.30 L267.50,260.10 L268.50,274.20 L269.40,273.20 L270.30,272.30 L271.30,273.20 L272.20,272.30 L273.20,267.60 L274.30,261.10 L275.20,269.50 L276.10,274.20 L277.10,273.20 L278.00,272.30 L279.00,270.40 L279.90,272.30 L280.80,267.60 L281.80,266.70 L282.70,270.40 L283.60,275.10 L284.60,274.20 L285.50,276.00 L286.40,275.10 L287.40,277.00 L288.30,276.00 L289.30,278.90 L290.20,281.70 L291.10,276.00 L292.10,277.00 L293.00,270.40 L293.90,264.80 L294.90,253.60 L295.60,247.00 L296.50,248.00 L297.50,255.50 L298.40,255.50 L299.40,256.40 L300.30,257.30 L301.20,263.00 L302.20,268.60 L303.10,266.70 L304.00,271.40 L305.00,277.90 L305.90,277.00" fill="none" stroke="#7fd9c6" stroke-width="0.9" stroke-linejoin="round"/>
<path d="M312.50,276.00 L313.40,277.90 L314.50,278.90 L315.50,277.00 L316.40,272.30 L317.30,264.80 L318.30,263.90 L319.20,267.60 L320.10,270.40 L320.90,273.20 L321.90,274.10 L322.80,272.30 L323.70,273.20 L324.70,267.60 L325.60,265.70 L326.50,274.10 L327.50,274.10 L328.40,273.20 L329.40,274.10 L330.30,276.00 L331.20,270.40 L332.20,262.00 L332.70,261.10 L333.50,272.30 L334.40,273.20 L335.30,274.10 L336.30,273.20 L337.20,274.10 L338.10,268.50 L339.10,260.10 L339.80,257.30 L340.60,266.70 L341.50,272.30 L342.40,273.20 L343.40,272.30 L344.30,270.40 L345.20,265.70 L346.20,259.20 L347.10,258.20 L348.10,268.50 L349.00,271.30 L349.90,272.30 L350.90,271.30 L351.80,270.40 L352.70,264.80 L353.70,259.20 L354.60,258.20 L355.50,270.40 L356.50,271.30 L357.40,272.30 L358.30,271.30 L359.30,270.40 L360.20,255.40 L361.10,238.60 L362.10,242.40 L363.00,253.60 L364.00,268.50 L364.90,270.40 L365.80,269.50 L366.80,272.30 L367.70,267.60 L368.60,262.00 L369.60,259.20 L370.50,270.40 L371.40,271.30 L372.40,269.50 L373.30,268.50 L374.20,267.60 L375.20,262.90 L376.10,258.20 L377.00,261.00 L378.00,270.40 L378.90,267.60 L379.80,268.50 L380.80,267.60 L381.70,269.50 L382.70,265.70 L383.60,260.10 L384.50,259.20 L385.50,270.40 L386.40,266.70" fill="none" stroke="#7fd9c6" stroke-width="0.9" stroke-linejoin="round"/>
<rect x="257.20" y="236.80" width="135.10" height="46.80" fill="none" stroke="#8c8c8c" stroke-width="0.8" />
<line x1="255.40" y1="237.00" x2="257.20" y2="237.00" stroke="#555" stroke-width="0.6" />
<line x1="255.40" y1="266.20" x2="257.20" y2="266.20" stroke="#555" stroke-width="0.6" />
<text x="253.40" y="240.00" font-size="8.4" fill="#1e1e1e" text-anchor="end" textLength="10.60" lengthAdjust="spacingAndGlyphs" >2.1</text>
<text x="253.40" y="269.20" font-size="8.4" fill="#1e1e1e" text-anchor="end" textLength="10.60" lengthAdjust="spacingAndGlyphs" >2.0</text>
<line x1="263.30" y1="283.60" x2="263.30" y2="285.40" stroke="#555" stroke-width="0.6" />
<line x1="295.96" y1="283.60" x2="295.96" y2="285.40" stroke="#555" stroke-width="0.6" />
<line x1="325.46" y1="283.60" x2="325.46" y2="285.40" stroke="#555" stroke-width="0.6" />
<line x1="358.12" y1="283.60" x2="358.12" y2="285.40" stroke="#555" stroke-width="0.6" />
<text x="263.30" y="292.20" font-size="6.8" fill="#1e1e1e" text-anchor="middle" textLength="11.00" lengthAdjust="spacingAndGlyphs" style="stroke-width:0.15px" >Jan</text>
<text x="295.96" y="292.20" font-size="6.8" fill="#1e1e1e" text-anchor="middle" textLength="11.80" lengthAdjust="spacingAndGlyphs" style="stroke-width:0.15px" >Feb</text>
<text x="325.46" y="292.20" font-size="6.8" fill="#1e1e1e" text-anchor="middle" textLength="12.40" lengthAdjust="spacingAndGlyphs" style="stroke-width:0.15px" >Mar</text>
<text x="358.12" y="292.20" font-size="6.8" fill="#1e1e1e" text-anchor="middle" textLength="11.20" lengthAdjust="spacingAndGlyphs" style="stroke-width:0.15px" >Apr</text>
<text x="257.6" y="235.10" font-size="8.0" fill="#1e1e1e">×</text>
<text x="263.5" y="235.40" font-size="8.2" fill="#1e1e1e" textLength="7.5" lengthAdjust="spacingAndGlyphs">10</text>
<text x="271.60" y="231.90" font-size="5.8" fill="#1e1e1e" text-anchor="start" style="stroke-width:0.06px" >1</text>
<text x="240.40" y="42.70" font-size="7.4" fill="#1e1e1e" text-anchor="middle" textLength="54.50" lengthAdjust="spacingAndGlyphs" transform="rotate(-90 240.40 42.70)" >Number of Edges</text>
<text x="247.00" y="115.60" font-size="7.4" fill="#1e1e1e" text-anchor="middle" textLength="15.00" lengthAdjust="spacingAndGlyphs" transform="rotate(-90 247.00 115.60)" >Flow</text>
<text x="232.60" y="187.00" font-size="7.4" fill="#1e1e1e" text-anchor="middle" textLength="17.60" lengthAdjust="spacingAndGlyphs" transform="rotate(-90 232.60 187.00)" >Mean</text>
<text x="239.00" y="187.00" font-size="7.4" fill="#1e1e1e" text-anchor="middle" textLength="49.00" lengthAdjust="spacingAndGlyphs" transform="rotate(-90 239.00 187.00)" >Commuter Ratio</text>
<text x="239.60" y="259.80" font-size="7.4" fill="#1e1e1e" text-anchor="middle" textLength="45.00" lengthAdjust="spacingAndGlyphs" transform="rotate(-90 239.60 259.80)" >Mean Distance</text>
<line x1="466.30" y1="12.50" x2="466.30" y2="81.10" stroke="#a6a6a6" stroke-width="0.6" />
<line x1="479.02" y1="12.50" x2="479.02" y2="81.10" stroke="#a6a6a6" stroke-width="0.6" />
<line x1="491.74" y1="12.50" x2="491.74" y2="81.10" stroke="#a6a6a6" stroke-width="0.6" />
<line x1="504.46" y1="12.50" x2="504.46" y2="81.10" stroke="#a6a6a6" stroke-width="0.6" />
<line x1="517.18" y1="12.50" x2="517.18" y2="81.10" stroke="#a6a6a6" stroke-width="0.6" />
<line x1="529.90" y1="12.50" x2="529.90" y2="81.10" stroke="#a6a6a6" stroke-width="0.6" />
<line x1="542.62" y1="12.50" x2="542.62" y2="81.10" stroke="#a6a6a6" stroke-width="0.6" />
<line x1="555.34" y1="12.50" x2="555.34" y2="81.10" stroke="#a6a6a6" stroke-width="0.6" />
<line x1="568.06" y1="12.50" x2="568.06" y2="81.10" stroke="#a6a6a6" stroke-width="0.6" />
<line x1="580.78" y1="12.50" x2="580.78" y2="81.10" stroke="#a6a6a6" stroke-width="0.6" />
<line x1="593.50" y1="12.50" x2="593.50" y2="81.10" stroke="#a6a6a6" stroke-width="0.6" />
<line x1="606.22" y1="12.50" x2="606.22" y2="81.10" stroke="#a6a6a6" stroke-width="0.6" />
<line x1="618.94" y1="12.50" x2="618.94" y2="81.10" stroke="#a6a6a6" stroke-width="0.6" />
<line x1="631.66" y1="12.50" x2="631.66" y2="81.10" stroke="#a6a6a6" stroke-width="0.6" />
<line x1="644.38" y1="12.50" x2="644.38" y2="81.10" stroke="#a6a6a6" stroke-width="0.6" />
<line x1="657.10" y1="12.50" x2="657.10" y2="81.10" stroke="#a6a6a6" stroke-width="0.6" />
<line x1="669.82" y1="12.50" x2="669.82" y2="81.10" stroke="#a6a6a6" stroke-width="0.6" />
<line x1="446.50" y1="70.58" x2="681.80" y2="70.58" stroke="#e2e2e2" stroke-width="0.5" />
<line x1="446.50" y1="60.25" x2="681.80" y2="60.25" stroke="#e2e2e2" stroke-width="0.5" />
<line x1="446.50" y1="49.93" x2="681.80" y2="49.93" stroke="#e2e2e2" stroke-width="0.5" />
<line x1="446.50" y1="39.60" x2="681.80" y2="39.60" stroke="#e2e2e2" stroke-width="0.5" />
<line x1="446.50" y1="29.28" x2="681.80" y2="29.28" stroke="#e2e2e2" stroke-width="0.5" />
<line x1="446.50" y1="18.95" x2="681.80" y2="18.95" stroke="#e2e2e2" stroke-width="0.5" />
<path d="M457.10,55.30 L458.60,36.50 L460.60,27.80 L462.20,36.50 L463.70,36.10 L464.90,35.50 L466.30,28.80 L468.00,32.40 L469.80,30.40 L471.40,24.30 L473.50,19.60 L474.90,32.90 L477.10,32.00 L478.60,27.30 L480.20,24.30 L482.20,17.60 L484.30,17.80 L486.30,17.10 L487.80,21.80 L489.80,23.90 L491.80,22.20 L493.50,21.20 L495.30,22.20 L497.30,22.70 L499.00,19.60 L500.40,28.00 L502.40,28.40 L504.10,28.40 L506.10,41.60 L507.80,46.30 L509.60,38.60 L511.60,48.80 L513.20,53.90 L515.20,53.90 L518.60,52.90 L520.60,55.90 L522.70,56.90 L524.30,50.40 L526.30,35.50 L528.00,41.00 L529.40,32.00 L531.40,44.30" fill="none" stroke="#453c8c" stroke-width="0.75" stroke-linejoin="round"/>
<path d="M542.20,29.40 L544.10,49.20 L546.10,26.30 L547.80,22.70 L549.40,19.20 L550.80,17.80 L553.50,23.30 L555.30,26.30 L556.70,51.80 L558.60,22.20 L560.40,19.20 L562.40,23.30 L564.10,28.80 L565.70,24.70 L567.80,24.30 L569.80,27.30 L571.40,23.30 L573.20,25.00 L575.00,26.50 L576.90,22.20 L578.70,24.00 L580.50,24.30 L582.30,23.30 L583.90,28.80 L585.90,24.70 L587.80,18.60 L589.40,18.60 L591.00,19.80 L592.90,23.90 L594.50,23.30 L596.50,25.90 L598.60,22.70 L600.20,16.50 L601.60,13.70 L603.10,15.10 L604.70,19.20 L606.10,19.80 L607.60,24.30 L609.20,18.60 L610.80,21.20 L612.90,19.80 L614.90,28.00 L616.90,18.60 L619.00,20.20 L620.60,21.20 L622.40,22.50 L624.10,21.00 L625.60,17.20 L627.60,24.70 L629.40,21.20 L631.20,27.40 L632.90,23.90 L634.50,21.20 L636.10,19.20 L638.00,19.50 L640.40,27.40 L642.10,24.70 L643.50,18.20 L645.60,18.20 L647.20,23.90 L648.60,21.90 L650.70,17.80 L652.70,28.00 L654.80,21.90 L656.40,25.30 L658.20,19.20 L659.90,20.20 L661.30,21.20 L662.50,22.70 L663.90,21.20 L665.40,32.90 L667.40,28.40 L669.10,23.30 L671.10,27.40" fill="none" stroke="#453c8c" stroke-width="0.75" stroke-linejoin="round"/>
<circle cx="457.10" cy="55.30" r="1.4" fill="#453c8c"/>
<circle cx="458.60" cy="36.50" r="1.4" fill="#453c8c"/>
<circle cx="460.60" cy="27.80" r="1.4" fill="#453c8c"/>
<circle cx="462.20" cy="36.50" r="1.4" fill="#453c8c"/>
<circle cx="463.70" cy="36.10" r="1.4" fill="#453c8c"/>
<circle cx="464.90" cy="35.50" r="1.4" fill="#453c8c"/>
<circle cx="466.30" cy="28.80" r="1.4" fill="#453c8c"/>
<rect x="466.50" y="30.90" width="3.0" height="3.0" fill="#d9806f"/>
<rect x="468.30" y="28.90" width="3.0" height="3.0" fill="#d9806f"/>
<circle cx="471.40" cy="24.30" r="1.4" fill="#453c8c"/>
<circle cx="473.50" cy="19.60" r="1.4" fill="#453c8c"/>
<rect x="473.40" y="31.40" width="3.0" height="3.0" fill="#d9806f"/>
<rect x="475.60" y="30.50" width="3.0" height="3.0" fill="#d9806f"/>
<circle cx="478.60" cy="27.30" r="1.4" fill="#453c8c"/>
<circle cx="480.20" cy="24.30" r="1.4" fill="#453c8c"/>
<circle cx="482.20" cy="17.60" r="1.4" fill="#453c8c"/>
<circle cx="484.30" cy="17.80" r="1.4" fill="#453c8c"/>
<circle cx="486.30" cy="17.10" r="1.4" fill="#453c8c"/>
<circle cx="487.80" cy="21.80" r="1.4" fill="#453c8c"/>
<circle cx="489.80" cy="23.90" r="1.4" fill="#453c8c"/>
<circle cx="491.80" cy="22.20" r="1.4" fill="#453c8c"/>
<circle cx="493.50" cy="21.20" r="1.4" fill="#453c8c"/>
<circle cx="495.30" cy="22.20" r="1.4" fill="#453c8c"/>
<circle cx="497.30" cy="22.70" r="1.4" fill="#453c8c"/>
<circle cx="499.00" cy="19.60" r="1.4" fill="#453c8c"/>
<circle cx="500.40" cy="28.00" r="1.4" fill="#453c8c"/>
<circle cx="502.40" cy="28.40" r="1.4" fill="#453c8c"/>
<circle cx="504.10" cy="28.40" r="1.4" fill="#453c8c"/>
<circle cx="506.10" cy="41.60" r="1.4" fill="#453c8c"/>
<rect x="506.30" y="44.80" width="3.0" height="3.0" fill="#d9806f"/>
<circle cx="509.60" cy="38.60" r="1.4" fill="#453c8c"/>
<circle cx="511.60" cy="48.80" r="1.4" fill="#453c8c"/>
<circle cx="513.20" cy="53.90" r="1.4" fill="#453c8c"/>
<circle cx="515.20" cy="53.90" r="1.4" fill="#453c8c"/>
<rect x="517.10" y="51.40" width="3.0" height="3.0" fill="#d9806f"/>
<rect x="519.10" y="54.40" width="3.0" height="3.0" fill="#d9806f"/>
<rect x="521.20" y="55.40" width="3.0" height="3.0" fill="#d9806f"/>
<rect x="522.80" y="48.90" width="3.0" height="3.0" fill="#d9806f"/>
<circle cx="526.30" cy="35.50" r="1.4" fill="#453c8c"/>
<rect x="526.50" y="39.50" width="3.0" height="3.0" fill="#d9806f"/>
<circle cx="529.40" cy="32.00" r="1.4" fill="#453c8c"/>
<circle cx="531.40" cy="44.30" r="1.4" fill="#453c8c"/>
<rect x="540.70" y="27.90" width="3.0" height="3.0" fill="#d9806f"/>
<rect x="542.60" y="47.70" width="3.0" height="3.0" fill="#d9806f"/>
<circle cx="546.10" cy="26.30" r="1.4" fill="#453c8c"/>
<circle cx="547.80" cy="22.70" r="1.4" fill="#453c8c"/>
<circle cx="549.40" cy="19.20" r="1.4" fill="#453c8c"/>
<circle cx="550.80" cy="17.80" r="1.4" fill="#453c8c"/>
<circle cx="553.50" cy="23.30" r="1.4" fill="#453c8c"/>
<rect x="553.80" y="24.80" width="3.0" height="3.0" fill="#d9806f"/>
<rect x="555.20" y="50.30" width="3.0" height="3.0" fill="#d9806f"/>
<circle cx="558.60" cy="22.20" r="1.4" fill="#453c8c"/>
<rect x="558.90" y="17.70" width="3.0" height="3.0" fill="#d9806f"/>
<rect x="560.90" y="21.80" width="3.0" height="3.0" fill="#d9806f"/>
<rect x="562.60" y="27.30" width="3.0" height="3.0" fill="#d9806f"/>
<circle cx="565.70" cy="24.70" r="1.4" fill="#453c8c"/>
<rect x="566.30" y="22.80" width="3.0" height="3.0" fill="#d9806f"/>
<rect x="568.30" y="25.80" width="3.0" height="3.0" fill="#d9806f"/>
<circle cx="571.40" cy="23.30" r="1.4" fill="#453c8c"/>
<circle cx="573.20" cy="25.00" r="1.4" fill="#453c8c"/>
<circle cx="575.00" cy="26.50" r="1.4" fill="#453c8c"/>
<rect x="575.40" y="20.70" width="3.0" height="3.0" fill="#d9806f"/>
<circle cx="578.70" cy="24.00" r="1.4" fill="#453c8c"/>
<rect x="579.00" y="22.80" width="3.0" height="3.0" fill="#d9806f"/>
<rect x="580.80" y="21.80" width="3.0" height="3.0" fill="#d9806f"/>
<rect x="582.40" y="27.30" width="3.0" height="3.0" fill="#d9806f"/>
<circle cx="585.90" cy="24.70" r="1.4" fill="#453c8c"/>
<circle cx="587.80" cy="18.60" r="1.4" fill="#453c8c"/>
<circle cx="589.40" cy="18.60" r="1.4" fill="#453c8c"/>
<rect x="589.50" y="18.30" width="3.0" height="3.0" fill="#d9806f"/>
<rect x="591.40" y="22.40" width="3.0" height="3.0" fill="#d9806f"/>
<rect x="593.00" y="21.80" width="3.0" height="3.0" fill="#d9806f"/>
<rect x="595.00" y="24.40" width="3.0" height="3.0" fill="#d9806f"/>
<circle cx="598.60" cy="22.70" r="1.4" fill="#453c8c"/>
<circle cx="600.20" cy="16.50" r="1.4" fill="#453c8c"/>
<circle cx="601.60" cy="13.70" r="1.4" fill="#453c8c"/>
<circle cx="603.10" cy="15.10" r="1.4" fill="#453c8c"/>
<circle cx="604.70" cy="19.20" r="1.4" fill="#453c8c"/>
<rect x="604.60" y="18.30" width="3.0" height="3.0" fill="#d9806f"/>
<rect x="606.10" y="22.80" width="3.0" height="3.0" fill="#d9806f"/>
<circle cx="609.20" cy="18.60" r="1.4" fill="#453c8c"/>
<rect x="609.30" y="19.70" width="3.0" height="3.0" fill="#d9806f"/>
<rect x="611.40" y="18.30" width="3.0" height="3.0" fill="#d9806f"/>
<rect x="613.40" y="26.50" width="3.0" height="3.0" fill="#d9806f"/>
<circle cx="616.90" cy="18.60" r="1.4" fill="#453c8c"/>
<circle cx="619.00" cy="20.20" r="1.4" fill="#453c8c"/>
<rect x="619.10" y="19.70" width="3.0" height="3.0" fill="#d9806f"/>
<rect x="620.90" y="21.00" width="3.0" height="3.0" fill="#d9806f"/>
<circle cx="624.10" cy="21.00" r="1.4" fill="#453c8c"/>
<circle cx="625.60" cy="17.20" r="1.4" fill="#453c8c"/>
<circle cx="627.60" cy="24.70" r="1.4" fill="#453c8c"/>
<rect x="627.90" y="19.70" width="3.0" height="3.0" fill="#d9806f"/>
<rect x="629.70" y="25.90" width="3.0" height="3.0" fill="#d9806f"/>
<circle cx="632.90" cy="23.90" r="1.4" fill="#453c8c"/>
<circle cx="634.50" cy="21.20" r="1.4" fill="#453c8c"/>
<circle cx="636.10" cy="19.20" r="1.4" fill="#453c8c"/>
<rect x="636.50" y="18.00" width="3.0" height="3.0" fill="#d9806f"/>
<rect x="638.90" y="25.90" width="3.0" height="3.0" fill="#d9806f"/>
<circle cx="642.10" cy="24.70" r="1.4" fill="#453c8c"/>
<circle cx="643.50" cy="18.20" r="1.4" fill="#453c8c"/>
<rect x="644.10" y="16.70" width="3.0" height="3.0" fill="#d9806f"/>
<rect x="645.70" y="22.40" width="3.0" height="3.0" fill="#d9806f"/>
<rect x="647.10" y="20.40" width="3.0" height="3.0" fill="#d9806f"/>
<rect x="649.20" y="16.30" width="3.0" height="3.0" fill="#d9806f"/>
<rect x="651.20" y="26.50" width="3.0" height="3.0" fill="#d9806f"/>
<rect x="653.30" y="20.40" width="3.0" height="3.0" fill="#d9806f"/>
<rect x="654.90" y="23.80" width="3.0" height="3.0" fill="#d9806f"/>
<circle cx="658.20" cy="19.20" r="1.4" fill="#453c8c"/>
<circle cx="659.90" cy="20.20" r="1.4" fill="#453c8c"/>
<circle cx="661.30" cy="21.20" r="1.4" fill="#453c8c"/>
<circle cx="662.50" cy="22.70" r="1.4" fill="#453c8c"/>
<rect x="662.40" y="19.70" width="3.0" height="3.0" fill="#d9806f"/>
<rect x="663.90" y="31.40" width="3.0" height="3.0" fill="#d9806f"/>
<rect x="665.90" y="26.90" width="3.0" height="3.0" fill="#d9806f"/>
<circle cx="669.10" cy="23.30" r="1.4" fill="#453c8c"/>
<circle cx="671.10" cy="27.40" r="1.4" fill="#453c8c"/>
<rect x="446.50" y="12.50" width="235.30" height="68.60" fill="none" stroke="#8c8c8c" stroke-width="0.8" />
<line x1="445.00" y1="80.90" x2="446.50" y2="80.90" stroke="#555" stroke-width="0.5" />
<text x="443.40" y="82.70" font-size="5.2" fill="#2a2a2a" text-anchor="end" textLength="10.20" lengthAdjust="spacingAndGlyphs" style="stroke-width:0.06px" >0.00</text>
<line x1="445.00" y1="70.58" x2="446.50" y2="70.58" stroke="#555" stroke-width="0.5" />
<text x="443.40" y="72.38" font-size="5.2" fill="#2a2a2a" text-anchor="end" textLength="10.20" lengthAdjust="spacingAndGlyphs" style="stroke-width:0.06px" >0.25</text>
<line x1="445.00" y1="60.25" x2="446.50" y2="60.25" stroke="#555" stroke-width="0.5" />
<text x="443.40" y="62.05" font-size="5.2" fill="#2a2a2a" text-anchor="end" textLength="10.20" lengthAdjust="spacingAndGlyphs" style="stroke-width:0.06px" >0.50</text>
<line x1="445.00" y1="49.93" x2="446.50" y2="49.93" stroke="#555" stroke-width="0.5" />
<text x="443.40" y="51.73" font-size="5.2" fill="#2a2a2a" text-anchor="end" textLength="10.20" lengthAdjust="spacingAndGlyphs" style="stroke-width:0.06px" >0.75</text>
<line x1="445.00" y1="39.60" x2="446.50" y2="39.60" stroke="#555" stroke-width="0.5" />
<text x="443.40" y="41.40" font-size="5.2" fill="#2a2a2a" text-anchor="end" textLength="10.20" lengthAdjust="spacingAndGlyphs" style="stroke-width:0.06px" >1.00</text>
<line x1="445.00" y1="29.28" x2="446.50" y2="29.28" stroke="#555" stroke-width="0.5" />
<text x="443.40" y="31.08" font-size="5.2" fill="#2a2a2a" text-anchor="end" textLength="10.20" lengthAdjust="spacingAndGlyphs" style="stroke-width:0.06px" >1.25</text>
<line x1="445.00" y1="18.95" x2="446.50" y2="18.95" stroke="#555" stroke-width="0.5" />
<text x="443.40" y="20.75" font-size="5.2" fill="#2a2a2a" text-anchor="end" textLength="10.20" lengthAdjust="spacingAndGlyphs" style="stroke-width:0.06px" >1.50</text>
<text x="446.9" y="10.9" font-size="5.2" fill="#333" textLength="8.0" lengthAdjust="spacingAndGlyphs" style="stroke-width:0.05px">×10</text>
<text x="455.2" y="8.2" font-size="3.6" fill="#333" style="stroke-width:0.04px">5</text>
<text x="430.60" y="48.60" font-size="5.0" fill="#2a2a2a" text-anchor="middle" textLength="8.00" lengthAdjust="spacingAndGlyphs" transform="rotate(-90 430.60 48.60)" style="stroke-width:0.06px" >Flow</text>
<rect x="447.90" y="69.80" width="42.90" height="8.80" fill="#fff" stroke="#d4d4d4" stroke-width="0.5" rx="0.8" opacity="0.9"/>
<rect x="453.6" y="73.1" width="2.7" height="2.7" fill="#d9806f"/>
<text x="463.70" y="76.10" font-size="5.0" fill="#2a2a2a" text-anchor="start" textLength="25.50" lengthAdjust="spacingAndGlyphs" style="stroke-width:0.06px" >Rainy Days</text>
<line x1="457.10" y1="81.10" x2="457.10" y2="82.70" stroke="#444" stroke-width="0.4" />
<line x1="458.90" y1="81.10" x2="458.90" y2="82.70" stroke="#444" stroke-width="0.4" />
<line x1="460.70" y1="81.10" x2="460.70" y2="82.70" stroke="#444" stroke-width="0.4" />
<line x1="462.50" y1="81.10" x2="462.50" y2="82.70" stroke="#444" stroke-width="0.4" />
<line x1="464.30" y1="81.10" x2="464.30" y2="82.70" stroke="#444" stroke-width="0.4" />
<line x1="466.10" y1="81.10" x2="466.10" y2="82.70" stroke="#444" stroke-width="0.4" />
<line x1="467.89" y1="81.10" x2="467.89" y2="82.70" stroke="#444" stroke-width="0.4" />
<line x1="469.69" y1="81.10" x2="469.69" y2="82.70" stroke="#444" stroke-width="0.4" />
<line x1="471.49" y1="81.10" x2="471.49" y2="82.70" stroke="#444" stroke-width="0.4" />
<line x1="473.29" y1="81.10" x2="473.29" y2="82.70" stroke="#444" stroke-width="0.4" />
<line x1="475.09" y1="81.10" x2="475.09" y2="82.70" stroke="#444" stroke-width="0.4" />
<line x1="476.89" y1="81.10" x2="476.89" y2="82.70" stroke="#444" stroke-width="0.4" />
<line x1="478.69" y1="81.10" x2="478.69" y2="82.70" stroke="#444" stroke-width="0.4" />
<line x1="480.49" y1="81.10" x2="480.49" y2="82.70" stroke="#444" stroke-width="0.4" />
<line x1="482.29" y1="81.10" x2="482.29" y2="82.70" stroke="#444" stroke-width="0.4" />
<line x1="484.09" y1="81.10" x2="484.09" y2="82.70" stroke="#444" stroke-width="0.4" />
<line x1="485.88" y1="81.10" x2="485.88" y2="82.70" stroke="#444" stroke-width="0.4" />
<line x1="487.68" y1="81.10" x2="487.68" y2="82.70" stroke="#444" stroke-width="0.4" />
<line x1="489.48" y1="81.10" x2="489.48" y2="82.70" stroke="#444" stroke-width="0.4" />
<line x1="491.28" y1="81.10" x2="491.28" y2="82.70" stroke="#444" stroke-width="0.4" />
<line x1="493.08" y1="81.10" x2="493.08" y2="82.70" stroke="#444" stroke-width="0.4" />
<line x1="494.88" y1="81.10" x2="494.88" y2="82.70" stroke="#444" stroke-width="0.4" />
<line x1="496.68" y1="81.10" x2="496.68" y2="82.70" stroke="#444" stroke-width="0.4" />
<line x1="498.48" y1="81.10" x2="498.48" y2="82.70" stroke="#444" stroke-width="0.4" />
<line x1="500.28" y1="81.10" x2="500.28" y2="82.70" stroke="#444" stroke-width="0.4" />
<line x1="502.08" y1="81.10" x2="502.08" y2="82.70" stroke="#444" stroke-width="0.4" />
<line x1="503.87" y1="81.10" x2="503.87" y2="82.70" stroke="#444" stroke-width="0.4" />
<line x1="505.67" y1="81.10" x2="505.67" y2="82.70" stroke="#444" stroke-width="0.4" />
<line x1="507.47" y1="81.10" x2="507.47" y2="82.70" stroke="#444" stroke-width="0.4" />
<line x1="509.27" y1="81.10" x2="509.27" y2="82.70" stroke="#444" stroke-width="0.4" />
<line x1="511.07" y1="81.10" x2="511.07" y2="82.70" stroke="#444" stroke-width="0.4" />
<line x1="512.87" y1="81.10" x2="512.87" y2="82.70" stroke="#444" stroke-width="0.4" />
<line x1="514.67" y1="81.10" x2="514.67" y2="82.70" stroke="#444" stroke-width="0.4" />
<line x1="516.47" y1="81.10" x2="516.47" y2="82.70" stroke="#444" stroke-width="0.4" />
<line x1="518.27" y1="81.10" x2="518.27" y2="82.70" stroke="#444" stroke-width="0.4" />
<line x1="520.07" y1="81.10" x2="520.07" y2="82.70" stroke="#444" stroke-width="0.4" />
<line x1="521.86" y1="81.10" x2="521.86" y2="82.70" stroke="#444" stroke-width="0.4" />
<line x1="523.66" y1="81.10" x2="523.66" y2="82.70" stroke="#444" stroke-width="0.4" />
<line x1="525.46" y1="81.10" x2="525.46" y2="82.70" stroke="#444" stroke-width="0.4" />
<line x1="527.26" y1="81.10" x2="527.26" y2="82.70" stroke="#444" stroke-width="0.4" />
<line x1="529.06" y1="81.10" x2="529.06" y2="82.70" stroke="#444" stroke-width="0.4" />
<line x1="530.86" y1="81.10" x2="530.86" y2="82.70" stroke="#444" stroke-width="0.4" />
<line x1="532.66" y1="81.10" x2="532.66" y2="82.70" stroke="#444" stroke-width="0.4" />
<line x1="534.46" y1="81.10" x2="534.46" y2="82.70" stroke="#444" stroke-width="0.4" />
<line x1="536.26" y1="81.10" x2="536.26" y2="82.70" stroke="#444" stroke-width="0.4" />
<line x1="538.06" y1="81.10" x2="538.06" y2="82.70" stroke="#444" stroke-width="0.4" />
<line x1="539.85" y1="81.10" x2="539.85" y2="82.70" stroke="#444" stroke-width="0.4" />
<line x1="541.65" y1="81.10" x2="541.65" y2="82.70" stroke="#444" stroke-width="0.4" />
<line x1="543.45" y1="81.10" x2="543.45" y2="82.70" stroke="#444" stroke-width="0.4" />
<line x1="545.25" y1="81.10" x2="545.25" y2="82.70" stroke="#444" stroke-width="0.4" />
<line x1="547.05" y1="81.10" x2="547.05" y2="82.70" stroke="#444" stroke-width="0.4" />
<line x1="548.85" y1="81.10" x2="548.85" y2="82.70" stroke="#444" stroke-width="0.4" />
<line x1="550.65" y1="81.10" x2="550.65" y2="82.70" stroke="#444" stroke-width="0.4" />
<line x1="552.45" y1="81.10" x2="552.45" y2="82.70" stroke="#444" stroke-width="0.4" />
<line x1="554.25" y1="81.10" x2="554.25" y2="82.70" stroke="#444" stroke-width="0.4" />
<line x1="556.05" y1="81.10" x2="556.05" y2="82.70" stroke="#444" stroke-width="0.4" />
<line x1="557.84" y1="81.10" x2="557.84" y2="82.70" stroke="#444" stroke-width="0.4" />
<line x1="559.64" y1="81.10" x2="559.64" y2="82.70" stroke="#444" stroke-width="0.4" />
<line x1="561.44" y1="81.10" x2="561.44" y2="82.70" stroke="#444" stroke-width="0.4" />
<line x1="563.24" y1="81.10" x2="563.24" y2="82.70" stroke="#444" stroke-width="0.4" />
<line x1="565.04" y1="81.10" x2="565.04" y2="82.70" stroke="#444" stroke-width="0.4" />
<line x1="566.84" y1="81.10" x2="566.84" y2="82.70" stroke="#444" stroke-width="0.4" />
<line x1="568.64" y1="81.10" x2="568.64" y2="82.70" stroke="#444" stroke-width="0.4" />
<line x1="570.44" y1="81.10" x2="570.44" y2="82.70" stroke="#444" stroke-width="0.4" />
<line x1="572.24" y1="81.10" x2="572.24" y2="82.70" stroke="#444" stroke-width="0.4" />
<line x1="574.04" y1="81.10" x2="574.04" y2="82.70" stroke="#444" stroke-width="0.4" />
<line x1="575.83" y1="81.10" x2="575.83" y2="82.70" stroke="#444" stroke-width="0.4" />
<line x1="577.63" y1="81.10" x2="577.63" y2="82.70" stroke="#444" stroke-width="0.4" />
<line x1="579.43" y1="81.10" x2="579.43" y2="82.70" stroke="#444" stroke-width="0.4" />
<line x1="581.23" y1="81.10" x2="581.23" y2="82.70" stroke="#444" stroke-width="0.4" />
<line x1="583.03" y1="81.10" x2="583.03" y2="82.70" stroke="#444" stroke-width="0.4" />
<line x1="584.83" y1="81.10" x2="584.83" y2="82.70" stroke="#444" stroke-width="0.4" />
<line x1="586.63" y1="81.10" x2="586.63" y2="82.70" stroke="#444" stroke-width="0.4" />
<line x1="588.43" y1="81.10" x2="588.43" y2="82.70" stroke="#444" stroke-width="0.4" />
<line x1="590.23" y1="81.10" x2="590.23" y2="82.70" stroke="#444" stroke-width="0.4" />
<line x1="592.02" y1="81.10" x2="592.02" y2="82.70" stroke="#444" stroke-width="0.4" />
<line x1="593.82" y1="81.10" x2="593.82" y2="82.70" stroke="#444" stroke-width="0.4" />
<line x1="595.62" y1="81.10" x2="595.62" y2="82.70" stroke="#444" stroke-width="0.4" />
<line x1="597.42" y1="81.10" x2="597.42" y2="82.70" stroke="#444" stroke-width="0.4" />
<line x1="599.22" y1="81.10" x2="599.22" y2="82.70" stroke="#444" stroke-width="0.4" />
<line x1="601.02" y1="81.10" x2="601.02" y2="82.70" stroke="#444" stroke-width="0.4" />
<line x1="602.82" y1="81.10" x2="602.82" y2="82.70" stroke="#444" stroke-width="0.4" />
<line x1="604.62" y1="81.10" x2="604.62" y2="82.70" stroke="#444" stroke-width="0.4" />
<line x1="606.42" y1="81.10" x2="606.42" y2="82.70" stroke="#444" stroke-width="0.4" />
<line x1="608.22" y1="81.10" x2="608.22" y2="82.70" stroke="#444" stroke-width="0.4" />
<line x1="610.01" y1="81.10" x2="610.01" y2="82.70" stroke="#444" stroke-width="0.4" />
<line x1="611.81" y1="81.10" x2="611.81" y2="82.70" stroke="#444" stroke-width="0.4" />
<line x1="613.61" y1="81.10" x2="613.61" y2="82.70" stroke="#444" stroke-width="0.4" />
<line x1="615.41" y1="81.10" x2="615.41" y2="82.70" stroke="#444" stroke-width="0.4" />
<line x1="617.21" y1="81.10" x2="617.21" y2="82.70" stroke="#444" stroke-width="0.4" />
<line x1="619.01" y1="81.10" x2="619.01" y2="82.70" stroke="#444" stroke-width="0.4" />
<line x1="620.81" y1="81.10" x2="620.81" y2="82.70" stroke="#444" stroke-width="0.4" />
<line x1="622.61" y1="81.10" x2="622.61" y2="82.70" stroke="#444" stroke-width="0.4" />
<line x1="624.41" y1="81.10" x2="624.41" y2="82.70" stroke="#444" stroke-width="0.4" />
<line x1="626.21" y1="81.10" x2="626.21" y2="82.70" stroke="#444" stroke-width="0.4" />
<line x1="628.00" y1="81.10" x2="628.00" y2="82.70" stroke="#444" stroke-width="0.4" />
<line x1="629.80" y1="81.10" x2="629.80" y2="82.70" stroke="#444" stroke-width="0.4" />
<line x1="631.60" y1="81.10" x2="631.60" y2="82.70" stroke="#444" stroke-width="0.4" />
<line x1="633.40" y1="81.10" x2="633.40" y2="82.70" stroke="#444" stroke-width="0.4" />
<line x1="635.20" y1="81.10" x2="635.20" y2="82.70" stroke="#444" stroke-width="0.4" />
<line x1="637.00" y1="81.10" x2="637.00" y2="82.70" stroke="#444" stroke-width="0.4" />
<line x1="638.80" y1="81.10" x2="638.80" y2="82.70" stroke="#444" stroke-width="0.4" />
<line x1="640.60" y1="81.10" x2="640.60" y2="82.70" stroke="#444" stroke-width="0.4" />
<line x1="642.40" y1="81.10" x2="642.40" y2="82.70" stroke="#444" stroke-width="0.4" />
<line x1="644.20" y1="81.10" x2="644.20" y2="82.70" stroke="#444" stroke-width="0.4" />
<line x1="646.00" y1="81.10" x2="646.00" y2="82.70" stroke="#444" stroke-width="0.4" />
<line x1="647.79" y1="81.10" x2="647.79" y2="82.70" stroke="#444" stroke-width="0.4" />
<line x1="649.59" y1="81.10" x2="649.59" y2="82.70" stroke="#444" stroke-width="0.4" />
<line x1="651.39" y1="81.10" x2="651.39" y2="82.70" stroke="#444" stroke-width="0.4" />
<line x1="653.19" y1="81.10" x2="653.19" y2="82.70" stroke="#444" stroke-width="0.4" />
<line x1="654.99" y1="81.10" x2="654.99" y2="82.70" stroke="#444" stroke-width="0.4" />
<line x1="656.79" y1="81.10" x2="656.79" y2="82.70" stroke="#444" stroke-width="0.4" />
<line x1="658.59" y1="81.10" x2="658.59" y2="82.70" stroke="#444" stroke-width="0.4" />
<line x1="660.39" y1="81.10" x2="660.39" y2="82.70" stroke="#444" stroke-width="0.4" />
<line x1="662.19" y1="81.10" x2="662.19" y2="82.70" stroke="#444" stroke-width="0.4" />
<line x1="663.99" y1="81.10" x2="663.99" y2="82.70" stroke="#444" stroke-width="0.4" />
<line x1="665.78" y1="81.10" x2="665.78" y2="82.70" stroke="#444" stroke-width="0.4" />
<line x1="667.58" y1="81.10" x2="667.58" y2="82.70" stroke="#444" stroke-width="0.4" />
<line x1="669.38" y1="81.10" x2="669.38" y2="82.70" stroke="#444" stroke-width="0.4" />
<line x1="671.18" y1="81.10" x2="671.18" y2="82.70" stroke="#444" stroke-width="0.4" />
<rect x="466.90" y="84.5" width="1.75" height="1.7" fill="#2a2a2a" opacity="0.85"/>
<rect x="468.70" y="84.5" width="1.75" height="1.7" fill="#2a2a2a" opacity="0.85"/>
<rect x="470.50" y="84.5" width="1.75" height="1.7" fill="#2a2a2a" opacity="0.85"/>
<rect x="473.90" y="84.5" width="1.75" height="1.7" fill="#2a2a2a" opacity="0.85"/>
<rect x="475.70" y="84.5" width="1.75" height="1.7" fill="#2a2a2a" opacity="0.85"/>
<rect x="477.50" y="84.5" width="1.75" height="1.7" fill="#2a2a2a" opacity="0.85"/>
<rect x="506.30" y="84.5" width="1.75" height="1.7" fill="#2a2a2a" opacity="0.85"/>
<rect x="508.10" y="84.5" width="1.75" height="1.7" fill="#2a2a2a" opacity="0.85"/>
<rect x="516.00" y="84.5" width="1.75" height="1.7" fill="#2a2a2a" opacity="0.85"/>
<rect x="517.80" y="84.5" width="1.75" height="1.7" fill="#2a2a2a" opacity="0.85"/>
<rect x="519.60" y="84.5" width="1.75" height="1.7" fill="#2a2a2a" opacity="0.85"/>
<rect x="521.40" y="84.5" width="1.75" height="1.7" fill="#2a2a2a" opacity="0.85"/>
<rect x="523.20" y="84.5" width="1.75" height="1.7" fill="#2a2a2a" opacity="0.85"/>
<rect x="525.00" y="84.5" width="1.75" height="1.7" fill="#2a2a2a" opacity="0.85"/>
<rect x="527.50" y="84.5" width="1.75" height="1.7" fill="#2a2a2a" opacity="0.85"/>
<rect x="532.50" y="84.5" width="1.75" height="1.7" fill="#2a2a2a" opacity="0.85"/>
<rect x="537.90" y="84.5" width="1.75" height="1.7" fill="#2a2a2a" opacity="0.85"/>
<rect x="539.70" y="84.5" width="1.75" height="1.7" fill="#2a2a2a" opacity="0.85"/>
<rect x="541.50" y="84.5" width="1.75" height="1.7" fill="#2a2a2a" opacity="0.85"/>
<rect x="543.30" y="84.5" width="1.75" height="1.7" fill="#2a2a2a" opacity="0.85"/>
<rect x="545.10" y="84.5" width="1.75" height="1.7" fill="#2a2a2a" opacity="0.85"/>
<rect x="553.60" y="84.5" width="1.75" height="1.7" fill="#2a2a2a" opacity="0.85"/>
<rect x="555.40" y="84.5" width="1.75" height="1.7" fill="#2a2a2a" opacity="0.85"/>
<rect x="557.20" y="84.5" width="1.75" height="1.7" fill="#2a2a2a" opacity="0.85"/>
<rect x="559.00" y="84.5" width="1.75" height="1.7" fill="#2a2a2a" opacity="0.85"/>
<rect x="560.80" y="84.5" width="1.75" height="1.7" fill="#2a2a2a" opacity="0.85"/>
<rect x="562.60" y="84.5" width="1.75" height="1.7" fill="#2a2a2a" opacity="0.85"/>
<rect x="564.40" y="84.5" width="1.75" height="1.7" fill="#2a2a2a" opacity="0.85"/>
<rect x="566.20" y="84.5" width="1.75" height="1.7" fill="#2a2a2a" opacity="0.85"/>
<rect x="568.00" y="84.5" width="1.75" height="1.7" fill="#2a2a2a" opacity="0.85"/>
<rect x="575.50" y="84.5" width="1.75" height="1.7" fill="#2a2a2a" opacity="0.85"/>
<rect x="577.30" y="84.5" width="1.75" height="1.7" fill="#2a2a2a" opacity="0.85"/>
<rect x="581.00" y="84.5" width="1.75" height="1.7" fill="#2a2a2a" opacity="0.85"/>
<rect x="582.80" y="84.5" width="1.75" height="1.7" fill="#2a2a2a" opacity="0.85"/>
<rect x="590.00" y="84.5" width="1.75" height="1.7" fill="#2a2a2a" opacity="0.85"/>
<rect x="591.80" y="84.5" width="1.75" height="1.7" fill="#2a2a2a" opacity="0.85"/>
<rect x="593.60" y="84.5" width="1.75" height="1.7" fill="#2a2a2a" opacity="0.85"/>
<rect x="595.40" y="84.5" width="1.75" height="1.7" fill="#2a2a2a" opacity="0.85"/>
<rect x="597.20" y="84.5" width="1.75" height="1.7" fill="#2a2a2a" opacity="0.85"/>
<rect x="604.70" y="84.5" width="1.75" height="1.7" fill="#2a2a2a" opacity="0.85"/>
<rect x="606.50" y="84.5" width="1.75" height="1.7" fill="#2a2a2a" opacity="0.85"/>
<rect x="608.30" y="84.5" width="1.75" height="1.7" fill="#2a2a2a" opacity="0.85"/>
<rect x="610.10" y="84.5" width="1.75" height="1.7" fill="#2a2a2a" opacity="0.85"/>
<rect x="611.90" y="84.5" width="1.75" height="1.7" fill="#2a2a2a" opacity="0.85"/>
<rect x="613.70" y="84.5" width="1.75" height="1.7" fill="#2a2a2a" opacity="0.85"/>
<rect x="621.00" y="84.5" width="1.75" height="1.7" fill="#2a2a2a" opacity="0.85"/>
<rect x="628.40" y="84.5" width="1.75" height="1.7" fill="#2a2a2a" opacity="0.85"/>
<rect x="630.20" y="84.5" width="1.75" height="1.7" fill="#2a2a2a" opacity="0.85"/>
<rect x="637.60" y="84.5" width="1.75" height="1.7" fill="#2a2a2a" opacity="0.85"/>
<rect x="639.40" y="84.5" width="1.75" height="1.7" fill="#2a2a2a" opacity="0.85"/>
<rect x="644.90" y="84.5" width="1.75" height="1.7" fill="#2a2a2a" opacity="0.85"/>
<rect x="646.70" y="84.5" width="1.75" height="1.7" fill="#2a2a2a" opacity="0.85"/>
<rect x="648.50" y="84.5" width="1.75" height="1.7" fill="#2a2a2a" opacity="0.85"/>
<rect x="650.30" y="84.5" width="1.75" height="1.7" fill="#2a2a2a" opacity="0.85"/>
<rect x="652.10" y="84.5" width="1.75" height="1.7" fill="#2a2a2a" opacity="0.85"/>
<rect x="653.90" y="84.5" width="1.75" height="1.7" fill="#2a2a2a" opacity="0.85"/>
<rect x="655.70" y="84.5" width="1.75" height="1.7" fill="#2a2a2a" opacity="0.85"/>
<rect x="662.20" y="84.5" width="1.75" height="1.7" fill="#2a2a2a" opacity="0.85"/>
<rect x="664.00" y="84.5" width="1.75" height="1.7" fill="#2a2a2a" opacity="0.85"/>
<rect x="665.80" y="84.5" width="1.75" height="1.7" fill="#2a2a2a" opacity="0.85"/>
<rect x="667.60" y="84.5" width="1.75" height="1.7" fill="#2a2a2a" opacity="0.85"/>
<text x="563.90" y="93.90" font-size="4.8" fill="#333" text-anchor="middle" textLength="43.30" lengthAdjust="spacingAndGlyphs" style="stroke-width:0.06px" >Date in Jan-Apr 2014</text>
<rect x="466.10" y="112.00" width="74.60" height="58.20" fill="none" stroke="#8c8c8c" stroke-width="0.8" />
<line x1="464.50" y1="119.60" x2="466.10" y2="119.60" stroke="#555" stroke-width="0.6" />
<text x="462.80" y="122.60" font-size="8.4" fill="#1e1e1e" text-anchor="end" textLength="10.60" lengthAdjust="spacingAndGlyphs" >1.5</text>
<line x1="464.50" y1="145.40" x2="466.10" y2="145.40" stroke="#555" stroke-width="0.6" />
<text x="462.80" y="148.40" font-size="8.4" fill="#1e1e1e" text-anchor="end" textLength="10.60" lengthAdjust="spacingAndGlyphs" >1.0</text>
<line x1="484.80" y1="118.40" x2="484.80" y2="124.10" stroke="#6e6e6e" stroke-width="0.9" />
<line x1="484.80" y1="137.20" x2="484.80" y2="154.60" stroke="#6e6e6e" stroke-width="0.9" />
<line x1="478.10" y1="118.40" x2="491.50" y2="118.40" stroke="#2a2a2a" stroke-width="0.9" />
<line x1="478.10" y1="154.60" x2="491.50" y2="154.60" stroke="#2a2a2a" stroke-width="0.9" />
<rect x="471.60" y="124.10" width="26.40" height="13.10" fill="#cd7b73" stroke="#222" stroke-width="0.8" />
<line x1="471.60" y1="129.10" x2="498.00" y2="129.10" stroke="#222" stroke-width="0.8" />
<circle cx="484.80" cy="158.40" r="1.25" fill="#cd7b73" stroke="#333" stroke-width="0.3"/>
<circle cx="484.80" cy="160.40" r="1.25" fill="#cd7b73" stroke="#333" stroke-width="0.3"/>
<circle cx="484.80" cy="162.70" r="1.25" fill="#cd7b73" stroke="#333" stroke-width="0.3"/>
<circle cx="484.80" cy="167.60" r="1.25" fill="#cd7b73" stroke="#333" stroke-width="0.3"/>
<line x1="484.80" y1="170.20" x2="484.80" y2="171.80" stroke="#555" stroke-width="0.6" />
<line x1="522.00" y1="114.60" x2="522.00" y2="121.50" stroke="#6e6e6e" stroke-width="0.9" />
<line x1="522.00" y1="131.40" x2="522.00" y2="145.40" stroke="#6e6e6e" stroke-width="0.9" />
<line x1="515.20" y1="114.60" x2="528.80" y2="114.60" stroke="#2a2a2a" stroke-width="0.9" />
<line x1="515.20" y1="145.40" x2="528.80" y2="145.40" stroke="#2a2a2a" stroke-width="0.9" />
<rect x="509.00" y="121.50" width="26.00" height="9.90" fill="#483d8b" stroke="#222" stroke-width="0.8" />
<line x1="509.00" y1="125.30" x2="535.00" y2="125.30" stroke="#222" stroke-width="0.8" />
<circle cx="522.00" cy="148.40" r="1.25" fill="#483d8b" stroke="#333" stroke-width="0.3"/>
<circle cx="522.00" cy="152.30" r="1.25" fill="#483d8b" stroke="#333" stroke-width="0.3"/>
<circle cx="522.00" cy="157.90" r="1.25" fill="#483d8b" stroke="#333" stroke-width="0.3"/>
<circle cx="522.00" cy="164.80" r="1.25" fill="#483d8b" stroke="#333" stroke-width="0.3"/>
<line x1="522.00" y1="170.20" x2="522.00" y2="171.80" stroke="#555" stroke-width="0.6" />
<text x="467.2" y="110.7" font-size="8.0" fill="#1e1e1e" textLength="12.6" lengthAdjust="spacingAndGlyphs">×10</text>
<text x="480.5" y="108.3" font-size="5.8" fill="#1e1e1e">5</text>
<text x="484.80" y="178.70" font-size="7.4" fill="#1e1e1e" text-anchor="middle" textLength="18.40" lengthAdjust="spacingAndGlyphs" >Rainy</text>
<text x="521.60" y="178.70" font-size="7.4" fill="#1e1e1e" text-anchor="middle" textLength="33.80" lengthAdjust="spacingAndGlyphs" >Non-Rainy</text>
<text x="503.40" y="186.30" font-size="7.4" fill="#1e1e1e" text-anchor="middle" textLength="55.50" lengthAdjust="spacingAndGlyphs" >Weather Category</text>
<text x="449.60" y="142.60" font-size="7.0" fill="#1e1e1e" text-anchor="middle" textLength="14.00" lengthAdjust="spacingAndGlyphs" transform="rotate(-90 449.60 142.60)" >Flow</text>
<rect x="594.20" y="112.00" width="74.20" height="58.20" fill="none" stroke="#8c8c8c" stroke-width="0.8" />
<line x1="592.60" y1="119.90" x2="594.20" y2="119.90" stroke="#555" stroke-width="0.6" />
<text x="590.90" y="122.90" font-size="8.4" fill="#1e1e1e" text-anchor="end" textLength="10.60" lengthAdjust="spacingAndGlyphs" >1.5</text>
<line x1="592.60" y1="146.90" x2="594.20" y2="146.90" stroke="#555" stroke-width="0.6" />
<text x="590.90" y="149.90" font-size="8.4" fill="#1e1e1e" text-anchor="end" textLength="10.60" lengthAdjust="spacingAndGlyphs" >1.0</text>
<line x1="612.90" y1="114.60" x2="612.90" y2="120.40" stroke="#6e6e6e" stroke-width="0.9" />
<line x1="612.90" y1="129.60" x2="612.90" y2="131.40" stroke="#6e6e6e" stroke-width="0.9" />
<line x1="606.15" y1="114.60" x2="619.65" y2="114.60" stroke="#2a2a2a" stroke-width="0.9" />
<line x1="606.15" y1="131.40" x2="619.65" y2="131.40" stroke="#2a2a2a" stroke-width="0.9" />
<rect x="599.90" y="120.40" width="26.00" height="9.20" fill="#f4624a" stroke="#222" stroke-width="0.8" />
<line x1="599.90" y1="123.30" x2="625.90" y2="123.30" stroke="#222" stroke-width="0.8" />
<circle cx="612.90" cy="143.40" r="1.25" fill="#e0523a" stroke="#333" stroke-width="0.3"/>
<circle cx="612.90" cy="146.90" r="1.25" fill="#e0523a" stroke="#333" stroke-width="0.3"/>
<circle cx="612.90" cy="159.60" r="1.25" fill="#e0523a" stroke="#333" stroke-width="0.3"/>
<circle cx="612.90" cy="167.10" r="1.25" fill="#e0523a" stroke="#333" stroke-width="0.3"/>
<line x1="612.90" y1="170.20" x2="612.90" y2="171.80" stroke="#555" stroke-width="0.6" />
<line x1="650.20" y1="117.60" x2="650.20" y2="125.00" stroke="#6e6e6e" stroke-width="0.9" />
<line x1="650.20" y1="132.60" x2="650.20" y2="142.60" stroke="#6e6e6e" stroke-width="0.9" />
<line x1="643.30" y1="117.60" x2="657.10" y2="117.60" stroke="#2a2a2a" stroke-width="0.9" />
<line x1="643.30" y1="142.60" x2="657.10" y2="142.60" stroke="#2a2a2a" stroke-width="0.9" />
<rect x="637.10" y="125.00" width="26.20" height="7.60" fill="#4a90e6" stroke="#222" stroke-width="0.8" />
<line x1="637.10" y1="126.40" x2="663.30" y2="126.40" stroke="#222" stroke-width="0.8" />
<circle cx="650.20" cy="143.80" r="1.25" fill="#3d86de" stroke="#333" stroke-width="0.3"/>
<circle cx="650.20" cy="150.30" r="1.25" fill="#3d86de" stroke="#333" stroke-width="0.3"/>
<circle cx="650.20" cy="153.80" r="1.25" fill="#3d86de" stroke="#333" stroke-width="0.3"/>
<circle cx="650.20" cy="167.60" r="1.25" fill="#3d86de" stroke="#333" stroke-width="0.3"/>
<line x1="650.20" y1="170.20" x2="650.20" y2="171.80" stroke="#555" stroke-width="0.6" />
<text x="595.2" y="110.7" font-size="8.0" fill="#1e1e1e" textLength="12.6" lengthAdjust="spacingAndGlyphs">×10</text>
<text x="608.5" y="108.3" font-size="5.8" fill="#1e1e1e">5</text>
<text x="613.50" y="178.60" font-size="7.0" fill="#1e1e1e" text-anchor="middle" textLength="19.10" lengthAdjust="spacingAndGlyphs" >Above</text>
<text x="613.60" y="185.50" font-size="7.0" fill="#1e1e1e" text-anchor="middle" textLength="14.90" lengthAdjust="spacingAndGlyphs" >10°C</text>
<text x="650.00" y="178.60" font-size="7.0" fill="#1e1e1e" text-anchor="middle" textLength="18.40" lengthAdjust="spacingAndGlyphs" >Below</text>
<text x="650.05" y="185.50" font-size="7.0" fill="#1e1e1e" text-anchor="middle" textLength="14.50" lengthAdjust="spacingAndGlyphs" >10°C</text>
<text x="632.50" y="192.70" font-size="7.0" fill="#1e1e1e" text-anchor="middle" textLength="52.70" lengthAdjust="spacingAndGlyphs" >Mean Temperature</text>
<text x="577.80" y="142.60" font-size="7.0" fill="#1e1e1e" text-anchor="middle" textLength="14.00" lengthAdjust="spacingAndGlyphs" transform="rotate(-90 577.80 142.60)" >Flow</text>
<rect x="456.10" y="222.70" width="18.80" height="57.20" fill="#357793" />
<rect x="479.00" y="230.90" width="18.40" height="49.00" fill="#357793" />
<rect x="502.10" y="214.90" width="18.00" height="65.00" fill="#357793" />
<rect x="525.00" y="215.50" width="18.40" height="64.40" fill="#357793" />
<path d="M465.30,222.70 L488.20,230.90 L511.30,214.90 L533.80,215.50" fill="none" stroke="#111" stroke-width="0.9"/>
<path d="M463.60,221.50 L467.00,221.50 L465.30,224.20 Z" fill="#111"/>
<path d="M486.50,229.70 L489.90,229.70 L488.20,232.40 Z" fill="#111"/>
<path d="M509.60,213.70 L513.00,213.70 L511.30,216.40 Z" fill="#111"/>
<path d="M532.10,214.30 L535.50,214.30 L533.80,217.00 Z" fill="#111"/>
<rect x="451.60" y="211.40" width="95.80" height="68.50" fill="none" stroke="#b0b0b0" stroke-width="1.1" />
<line x1="450.00" y1="233.90" x2="451.60" y2="233.90" stroke="#555" stroke-width="0.6" />
<text x="448.20" y="236.80" font-size="8.0" fill="#1e1e1e" text-anchor="end" textLength="10.20" lengthAdjust="spacingAndGlyphs" >1.0</text>
<line x1="450.00" y1="257.00" x2="451.60" y2="257.00" stroke="#555" stroke-width="0.6" />
<text x="448.20" y="259.90" font-size="8.0" fill="#1e1e1e" text-anchor="end" textLength="10.20" lengthAdjust="spacingAndGlyphs" >0.5</text>
<line x1="450.00" y1="279.90" x2="451.60" y2="279.90" stroke="#555" stroke-width="0.6" />
<text x="448.20" y="282.80" font-size="8.0" fill="#1e1e1e" text-anchor="end" textLength="10.20" lengthAdjust="spacingAndGlyphs" >0.0</text>
<line x1="465.50" y1="279.90" x2="465.50" y2="281.50" stroke="#555" stroke-width="0.6" />
<text x="465.50" y="289.10" font-size="7.8" fill="#1e1e1e" text-anchor="middle" textLength="11.55" lengthAdjust="spacingAndGlyphs" >Jan</text>
<line x1="488.20" y1="279.90" x2="488.20" y2="281.50" stroke="#555" stroke-width="0.6" />
<text x="488.20" y="289.10" font-size="7.8" fill="#1e1e1e" text-anchor="middle" textLength="12.39" lengthAdjust="spacingAndGlyphs" >Feb</text>
<line x1="511.10" y1="279.90" x2="511.10" y2="281.50" stroke="#555" stroke-width="0.6" />
<text x="511.10" y="289.10" font-size="7.8" fill="#1e1e1e" text-anchor="middle" textLength="13.02" lengthAdjust="spacingAndGlyphs" >Mar</text>
<line x1="534.20" y1="279.90" x2="534.20" y2="281.50" stroke="#555" stroke-width="0.6" />
<text x="534.20" y="289.10" font-size="7.8" fill="#1e1e1e" text-anchor="middle" textLength="11.76" lengthAdjust="spacingAndGlyphs" >Apr</text>
<text x="433.60" y="245.65" font-size="7.0" fill="#1e1e1e" text-anchor="middle" textLength="40.00" lengthAdjust="spacingAndGlyphs" transform="rotate(-90 433.60 245.65)" >Average flow</text>
<text x="452.40" y="210.30" font-size="7.0" fill="#1e1e1e" text-anchor="start" textLength="12.30" lengthAdjust="spacingAndGlyphs" >1e5</text>
<rect x="590.60" y="209.70" width="18.60" height="69.90" fill="#89dfce" />
<rect x="614.20" y="209.60" width="18.80" height="70.00" fill="#89dfce" />
<rect x="637.50" y="209.70" width="18.50" height="69.90" fill="#89dfce" />
<rect x="661.30" y="208.60" width="18.50" height="71.00" fill="#89dfce" />
<path d="M600.20,209.70 L623.50,209.50 L646.50,209.50 L670.30,208.30" fill="none" stroke="#111" stroke-width="0.9"/>
<path d="M598.50,208.50 L601.90,208.50 L600.20,211.20 Z" fill="#111"/>
<path d="M621.80,208.30 L625.20,208.30 L623.50,211.00 Z" fill="#111"/>
<path d="M644.80,208.30 L648.20,208.30 L646.50,211.00 Z" fill="#111"/>
<path d="M668.60,207.10 L672.00,207.10 L670.30,209.80 Z" fill="#111"/>
<rect x="586.20" y="205.20" width="97.60" height="74.40" fill="none" stroke="#b0b0b0" stroke-width="1.1" />
<line x1="584.60" y1="209.00" x2="586.20" y2="209.00" stroke="#555" stroke-width="0.6" />
<text x="582.80" y="211.90" font-size="8.0" fill="#1e1e1e" text-anchor="end" textLength="8.40" lengthAdjust="spacingAndGlyphs" >20</text>
<line x1="584.60" y1="226.70" x2="586.20" y2="226.70" stroke="#555" stroke-width="0.6" />
<text x="582.80" y="229.60" font-size="8.0" fill="#1e1e1e" text-anchor="end" textLength="8.40" lengthAdjust="spacingAndGlyphs" >15</text>
<line x1="584.60" y1="244.30" x2="586.20" y2="244.30" stroke="#555" stroke-width="0.6" />
<text x="582.80" y="247.20" font-size="8.0" fill="#1e1e1e" text-anchor="end" textLength="8.40" lengthAdjust="spacingAndGlyphs" >10</text>
<line x1="584.60" y1="262.00" x2="586.20" y2="262.00" stroke="#555" stroke-width="0.6" />
<text x="582.80" y="264.90" font-size="8.0" fill="#1e1e1e" text-anchor="end" textLength="4.20" lengthAdjust="spacingAndGlyphs" >5</text>
<line x1="584.60" y1="279.60" x2="586.20" y2="279.60" stroke="#555" stroke-width="0.6" />
<text x="582.80" y="282.50" font-size="8.0" fill="#1e1e1e" text-anchor="end" textLength="4.20" lengthAdjust="spacingAndGlyphs" >0</text>
<line x1="599.90" y1="279.60" x2="599.90" y2="281.20" stroke="#555" stroke-width="0.6" />
<text x="599.90" y="288.80" font-size="7.8" fill="#1e1e1e" text-anchor="middle" textLength="11.55" lengthAdjust="spacingAndGlyphs" >Jan</text>
<line x1="623.60" y1="279.60" x2="623.60" y2="281.20" stroke="#555" stroke-width="0.6" />
<text x="623.60" y="288.80" font-size="7.8" fill="#1e1e1e" text-anchor="middle" textLength="12.39" lengthAdjust="spacingAndGlyphs" >Feb</text>
<line x1="646.75" y1="279.60" x2="646.75" y2="281.20" stroke="#555" stroke-width="0.6" />
<text x="646.75" y="288.80" font-size="7.8" fill="#1e1e1e" text-anchor="middle" textLength="13.02" lengthAdjust="spacingAndGlyphs" >Mar</text>
<line x1="670.55" y1="279.60" x2="670.55" y2="281.20" stroke="#555" stroke-width="0.6" />
<text x="670.55" y="288.80" font-size="7.8" fill="#1e1e1e" text-anchor="middle" textLength="11.76" lengthAdjust="spacingAndGlyphs" >Apr</text>
<text x="570.60" y="242.40" font-size="7.0" fill="#1e1e1e" text-anchor="middle" textLength="54.00" lengthAdjust="spacingAndGlyphs" transform="rotate(-90 570.60 242.40)" >Average distance</text></svg>
</body></html>
